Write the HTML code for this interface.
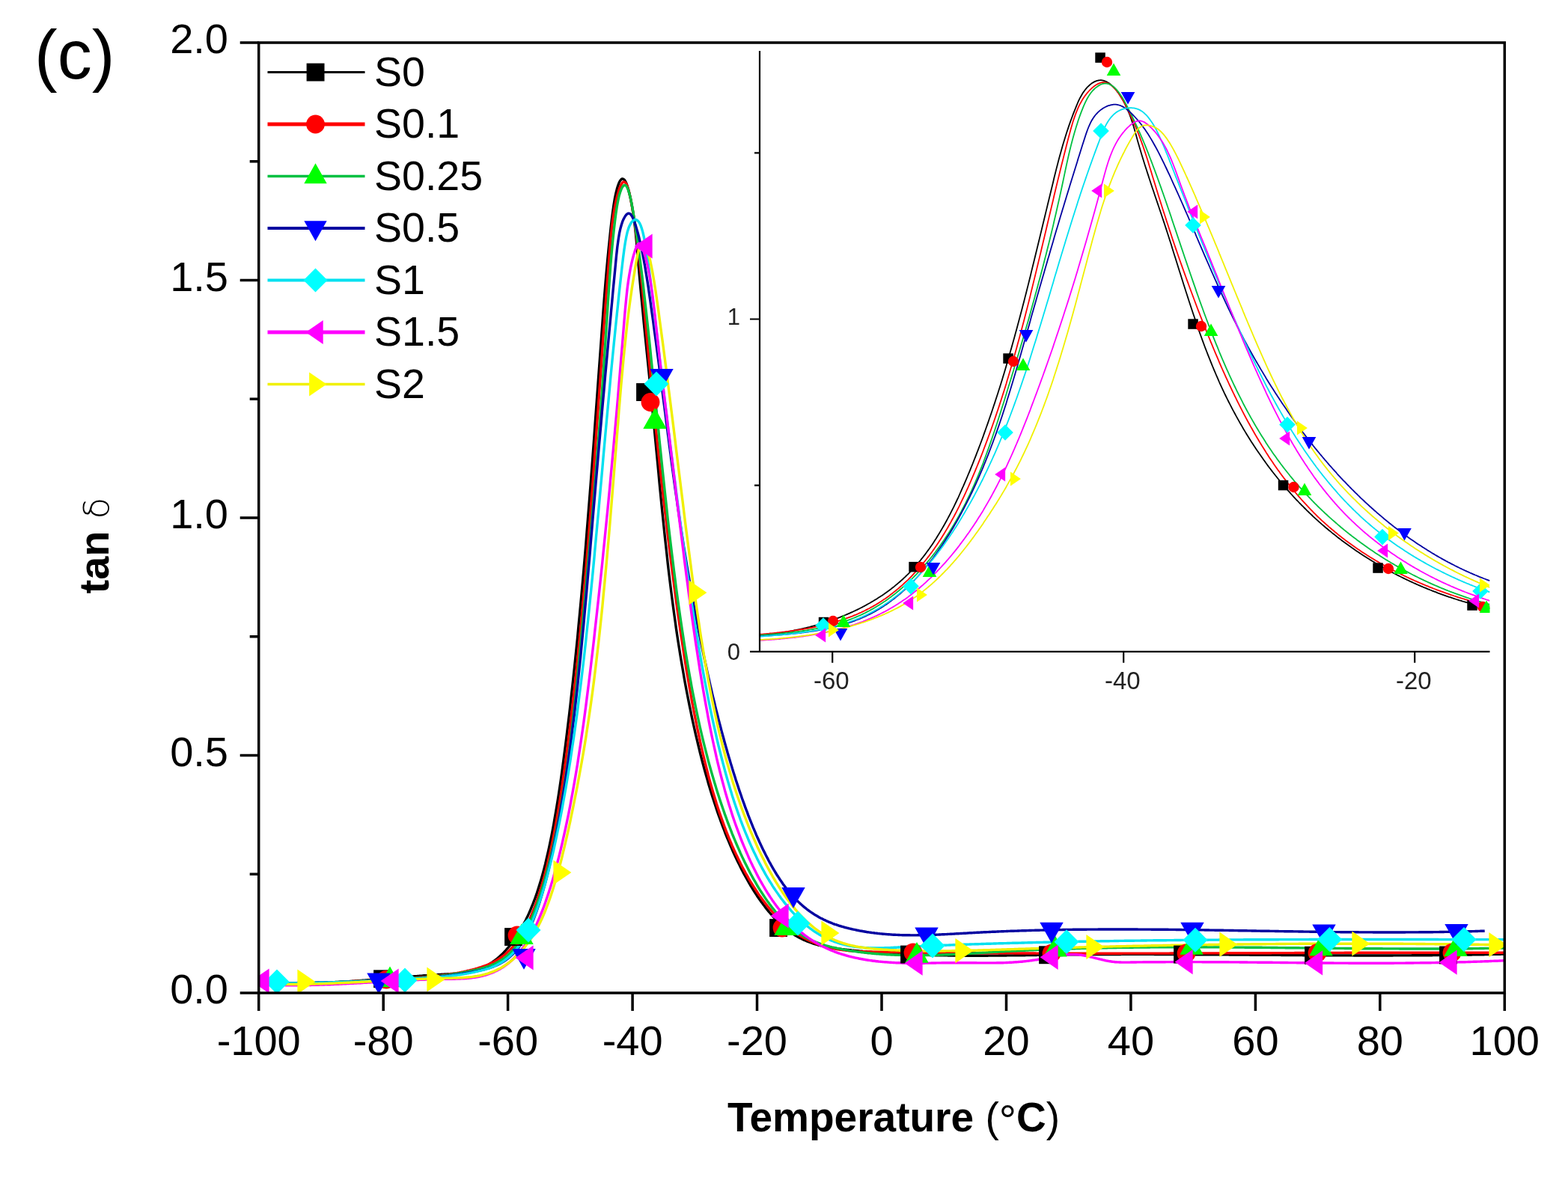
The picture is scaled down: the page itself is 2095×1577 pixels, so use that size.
<!DOCTYPE html>
<html><head><meta charset="utf-8"><title>tan delta</title><style>html,body{margin:0;padding:0;background:#fff;}svg{display:block;}</style></head><body>
<svg width="2095" height="1577" viewBox="0 0 2095 1577">
<rect width="2095" height="1577" fill="#fff"/>
<text x="46" y="105" font-size="92" font-family="'Liberation Sans', Arial, sans-serif">(c)</text>
<defs><clipPath id="cm"><rect x="345.7" y="57.0" width="1664.6" height="1270.0"/></clipPath>
<clipPath id="ci"><rect x="1015.0" y="40.0" width="975.5" height="830.8"/></clipPath></defs>
<g clip-path="url(#cm)" fill="none" stroke-linejoin="round">
<path d="M345.7,1314.1 L347.1,1314.2 L348.5,1314.3 L349.9,1314.3 L351.2,1314.4 L352.6,1314.4 L354.0,1314.5 L355.4,1314.5 L356.8,1314.6 L358.2,1314.6 L359.6,1314.7 L361.0,1314.7 L362.3,1314.8 L363.7,1314.8 L365.1,1314.8 L366.5,1314.8 L367.9,1314.9 L369.3,1314.9 L370.7,1314.9 L372.1,1314.9 L373.4,1314.9 L374.8,1315.0 L376.2,1315.0 L377.6,1315.0 L379.0,1315.0 L380.4,1315.0 L381.8,1315.0 L383.2,1315.0 L384.5,1315.0 L385.9,1315.0 L387.3,1315.0 L388.7,1315.0 L390.1,1314.9 L391.5,1314.9 L392.9,1314.9 L394.3,1314.9 L395.6,1314.9 L397.0,1314.9 L398.4,1314.8 L399.8,1314.8 L401.2,1314.8 L402.6,1314.7 L404.0,1314.7 L405.3,1314.7 L406.7,1314.6 L408.1,1314.6 L409.5,1314.6 L410.9,1314.5 L412.3,1314.5 L413.7,1314.4 L415.1,1314.4 L416.4,1314.3 L417.8,1314.3 L419.2,1314.2 L420.6,1314.2 L422.0,1314.1 L423.4,1314.1 L424.8,1314.0 L426.2,1314.0 L427.5,1313.9 L428.9,1313.8 L430.3,1313.8 L431.7,1313.7 L433.1,1313.6 L434.5,1313.6 L435.9,1313.5 L437.3,1313.4 L438.6,1313.3 L440.0,1313.3 L441.4,1313.2 L442.8,1313.1 L444.2,1313.0 L445.6,1313.0 L447.0,1312.9 L448.4,1312.8 L449.7,1312.7 L451.1,1312.6 L452.5,1312.5 L453.9,1312.5 L455.3,1312.4 L456.7,1312.3 L458.1,1312.2 L459.4,1312.1 L460.8,1312.0 L462.2,1311.9 L463.6,1311.8 L465.0,1311.7 L466.4,1311.6 L467.8,1311.5 L469.2,1311.4 L470.5,1311.3 L471.9,1311.2 L473.3,1311.1 L474.7,1311.0 L476.1,1310.9 L477.5,1310.8 L478.9,1310.7 L480.3,1310.6 L481.6,1310.5 L483.0,1310.4 L484.4,1310.3 L485.8,1310.2 L487.2,1310.1 L488.6,1310.0 L490.0,1309.9 L491.4,1309.8 L492.7,1309.7 L494.1,1309.6 L495.5,1309.5 L496.9,1309.3 L498.3,1309.2 L499.7,1309.1 L501.1,1309.0 L502.4,1308.9 L503.8,1308.8 L505.2,1308.7 L506.6,1308.6 L508.0,1308.5 L509.4,1308.3 L510.8,1308.2 L512.2,1308.1 L513.5,1308.0 L514.9,1307.9 L516.3,1307.8 L517.7,1307.7 L519.1,1307.6 L520.5,1307.4 L521.9,1307.3 L523.3,1307.2 L524.6,1307.1 L526.0,1307.0 L527.4,1306.9 L528.8,1306.8 L530.2,1306.7 L531.6,1306.5 L533.0,1306.4 L534.4,1306.3 L535.7,1306.2 L537.1,1306.1 L538.5,1306.0 L539.9,1305.9 L541.3,1305.8 L542.7,1305.6 L544.1,1305.5 L545.5,1305.4 L546.8,1305.3 L548.2,1305.2 L549.6,1305.1 L551.0,1305.0 L552.4,1304.9 L553.8,1304.8 L555.2,1304.7 L556.5,1304.6 L557.9,1304.5 L559.3,1304.4 L560.7,1304.3 L562.1,1304.2 L563.5,1304.1 L564.9,1303.9 L566.3,1303.8 L567.6,1303.7 L569.0,1303.6 L570.4,1303.6 L571.8,1303.5 L573.2,1303.4 L574.6,1303.3 L576.0,1303.2 L577.4,1303.1 L578.7,1303.0 L580.1,1302.9 L581.5,1302.8 L582.9,1302.7 L584.3,1302.6 L585.7,1302.5 L587.1,1302.4 L588.5,1302.4 L589.8,1302.3 L591.2,1302.2 L592.6,1302.1 L594.0,1302.0 L595.4,1301.9 L596.8,1301.9 L598.2,1301.8 L599.6,1301.7 L600.9,1301.6 L602.3,1301.5 L603.7,1301.5 L605.1,1301.4 L606.5,1301.3 L607.9,1301.2 L609.3,1301.1 L610.6,1300.9 L612.0,1300.8 L613.4,1300.7 L614.8,1300.5 L616.2,1300.4 L617.6,1300.2 L619.0,1300.0 L620.4,1299.8 L621.7,1299.6 L623.1,1299.4 L624.5,1299.2 L625.9,1298.9 L627.3,1298.6 L628.7,1298.3 L630.1,1298.0 L631.5,1297.7 L632.8,1297.3 L634.2,1296.9 L635.6,1296.5 L637.0,1296.1 L638.4,1295.7 L639.8,1295.2 L641.2,1294.7 L642.6,1294.1 L643.9,1293.5 L645.3,1292.9 L646.7,1292.3 L648.1,1291.6 L649.5,1290.9 L650.9,1290.2 L652.3,1289.4 L653.7,1288.6 L655.0,1287.8 L656.4,1286.9 L657.8,1286.0 L659.2,1285.0 L660.6,1284.0 L662.0,1282.9 L663.4,1281.8 L664.7,1280.7 L666.1,1279.5 L667.5,1278.3 L668.9,1277.0 L670.3,1275.7 L671.7,1274.4 L673.1,1273.0 L674.5,1271.5 L675.8,1270.0 L677.2,1268.4 L678.6,1266.8 L680.0,1265.2 L681.4,1263.5 L682.8,1261.7 L684.2,1259.9 L685.6,1258.0 L686.9,1256.0 L688.3,1254.0 L689.7,1252.0 L691.1,1249.8 L692.5,1247.6 L693.9,1245.4 L695.3,1243.0 L696.7,1240.6 L698.0,1238.1 L699.4,1235.6 L700.8,1232.9 L702.2,1230.2 L703.6,1227.3 L705.0,1224.4 L706.4,1221.4 L707.8,1218.3 L709.1,1215.1 L710.5,1211.7 L711.9,1208.3 L713.3,1204.7 L714.7,1201.0 L716.1,1197.1 L717.5,1193.1 L718.8,1188.9 L720.2,1184.6 L721.6,1180.1 L723.0,1175.4 L724.4,1170.5 L725.8,1165.4 L727.2,1160.1 L728.6,1154.6 L729.9,1148.9 L731.3,1143.0 L732.7,1136.8 L734.1,1130.4 L735.5,1123.7 L736.9,1116.8 L738.3,1109.6 L739.7,1102.1 L741.0,1094.4 L742.4,1086.3 L743.8,1078.0 L745.2,1069.4 L746.6,1060.4 L748.0,1051.2 L749.4,1041.7 L750.8,1031.8 L752.1,1021.7 L753.5,1011.2 L754.9,1000.5 L756.3,989.5 L757.7,978.3 L759.1,966.8 L760.5,955.1 L761.9,943.1 L763.2,930.9 L764.6,918.5 L766.0,905.7 L767.4,892.7 L768.8,879.3 L770.2,865.7 L771.6,851.8 L772.9,837.5 L774.3,822.9 L775.7,808.0 L777.1,792.8 L778.5,777.2 L779.9,761.3 L781.3,745.0 L782.7,728.4 L784.0,711.5 L785.4,694.2 L786.8,676.7 L788.2,658.8 L789.6,640.7 L791.0,622.3 L792.4,603.7 L793.8,584.8 L795.1,565.9 L796.5,546.8 L797.9,527.6 L799.3,508.4 L800.7,489.1 L802.1,470.0 L803.5,450.9 L804.9,431.9 L806.2,413.3 L807.6,395.2 L809.0,378.0 L810.4,361.7 L811.8,346.4 L813.2,332.1 L814.6,318.6 L815.9,306.0 L817.3,294.0 L818.7,282.9 L820.1,273.2 L821.5,264.9 L822.9,258.1 L824.3,252.6 L825.7,248.1 L827.0,244.5 L828.4,241.8 L829.8,240.0 L831.2,239.0 L832.6,239.1 L834.0,240.1 L835.4,242.0 L836.8,244.8 L838.1,248.4 L839.5,252.9 L840.9,258.3 L842.3,264.5 L843.7,271.5 L845.1,279.5 L846.5,288.6 L847.9,298.9 L849.2,310.9 L850.6,325.0 L852.0,341.1 L853.4,357.9 L854.8,373.8 L856.2,389.0 L857.6,403.7 L859.0,418.0 L860.3,432.0 L861.7,445.9 L863.1,459.6 L864.5,473.3 L865.9,487.0 L867.3,500.8 L868.7,514.7 L870.0,528.9 L871.4,543.3 L872.8,557.8 L874.2,572.5 L875.6,587.3 L877.0,602.0 L878.4,616.7 L879.8,631.4 L881.1,645.8 L882.5,660.2 L883.9,674.3 L885.3,688.1 L886.7,701.7 L888.1,715.0 L889.5,727.9 L890.9,740.5 L892.2,752.8 L893.6,764.8 L895.0,776.4 L896.4,787.6 L897.8,798.6 L899.2,809.2 L900.6,819.5 L902.0,829.5 L903.3,839.2 L904.7,848.6 L906.1,857.7 L907.5,866.6 L908.9,875.2 L910.3,883.6 L911.7,891.8 L913.1,899.8 L914.4,907.5 L915.8,915.1 L917.2,922.5 L918.6,929.8 L920.0,936.9 L921.4,943.8 L922.8,950.5 L924.1,957.2 L925.5,963.6 L926.9,970.0 L928.3,976.2 L929.7,982.3 L931.1,988.2 L932.5,994.0 L933.9,999.8 L935.2,1005.4 L936.6,1010.8 L938.0,1016.2 L939.4,1021.5 L940.8,1026.7 L942.2,1031.8 L943.6,1036.7 L945.0,1041.6 L946.3,1046.4 L947.7,1051.1 L949.1,1055.7 L950.5,1060.2 L951.9,1064.7 L953.3,1069.0 L954.7,1073.3 L956.1,1077.5 L957.4,1081.6 L958.8,1085.7 L960.2,1089.7 L961.6,1093.5 L963.0,1097.4 L964.4,1101.1 L965.8,1104.8 L967.2,1108.5 L968.5,1112.0 L969.9,1115.5 L971.3,1119.0 L972.7,1122.4 L974.1,1125.7 L975.5,1129.0 L976.9,1132.2 L978.2,1135.4 L979.6,1138.5 L981.0,1141.5 L982.4,1144.5 L983.8,1147.5 L985.2,1150.4 L986.6,1153.3 L988.0,1156.1 L989.3,1158.8 L990.7,1161.6 L992.1,1164.2 L993.5,1166.9 L994.9,1169.4 L996.3,1172.0 L997.7,1174.5 L999.1,1176.9 L1000.4,1179.3 L1001.8,1181.7 L1003.2,1184.1 L1004.6,1186.3 L1006.0,1188.6 L1007.4,1190.8 L1008.8,1193.0 L1010.2,1195.1 L1011.5,1197.2 L1012.9,1199.3 L1014.3,1201.3 L1015.7,1203.3 L1017.1,1205.2 L1018.5,1207.1 L1019.9,1209.0 L1021.3,1210.8 L1022.6,1212.6 L1024.0,1214.4 L1025.4,1216.1 L1026.8,1217.8 L1028.2,1219.5 L1029.6,1221.1 L1031.0,1222.7 L1032.3,1224.3 L1033.7,1225.8 L1035.1,1227.3 L1036.5,1228.7 L1037.9,1230.2 L1039.3,1231.5 L1040.7,1232.9 L1042.1,1234.2 L1043.4,1235.5 L1044.8,1236.8 L1046.2,1238.0 L1047.6,1239.2 L1049.0,1240.4 L1050.4,1241.5 L1051.8,1242.6 L1053.2,1243.7 L1054.5,1244.7 L1055.9,1245.7 L1057.3,1246.7 L1058.7,1247.6 L1060.1,1248.5 L1061.5,1249.4 L1062.9,1250.2 L1064.3,1251.1 L1065.6,1251.9 L1067.0,1252.6 L1068.4,1253.4 L1069.8,1254.1 L1071.2,1254.8 L1072.6,1255.5 L1074.0,1256.1 L1075.3,1256.7 L1076.7,1257.3 L1078.1,1257.9 L1079.5,1258.5 L1080.9,1259.0 L1082.3,1259.5 L1083.7,1260.0 L1085.1,1260.5 L1086.4,1261.0 L1087.8,1261.4 L1089.2,1261.8 L1090.6,1262.2 L1092.0,1262.6 L1093.4,1263.0 L1094.8,1263.4 L1096.2,1263.7 L1097.5,1264.0 L1098.9,1264.4 L1100.3,1264.7 L1101.7,1265.0 L1103.1,1265.2 L1104.5,1265.5 L1105.9,1265.8 L1107.3,1266.0 L1108.6,1266.3 L1110.0,1266.5 L1111.4,1266.7 L1112.8,1266.9 L1114.2,1267.1 L1115.6,1267.3 L1117.0,1267.5 L1118.4,1267.7 L1119.7,1267.9 L1121.1,1268.1 L1122.5,1268.2 L1123.9,1268.4 L1125.3,1268.6 L1126.7,1268.7 L1128.1,1268.9 L1129.4,1269.1 L1130.8,1269.2 L1132.2,1269.4 L1133.6,1269.5 L1135.0,1269.7 L1136.4,1269.8 L1137.8,1270.0 L1139.2,1270.1 L1140.5,1270.2 L1141.9,1270.4 L1143.3,1270.5 L1144.7,1270.7 L1146.1,1270.8 L1147.5,1270.9 L1148.9,1271.1 L1150.3,1271.2 L1151.6,1271.3 L1153.0,1271.5 L1154.4,1271.6 L1155.8,1271.7 L1157.2,1271.8 L1158.6,1271.9 L1160.0,1272.1 L1161.4,1272.2 L1162.7,1272.3 L1164.1,1272.4 L1165.5,1272.5 L1166.9,1272.6 L1168.3,1272.7 L1169.7,1272.8 L1171.1,1272.9 L1172.5,1273.1 L1173.8,1273.2 L1175.2,1273.3 L1176.6,1273.4 L1178.0,1273.4 L1179.4,1273.5 L1180.8,1273.6 L1182.2,1273.7 L1183.5,1273.8 L1184.9,1273.9 L1186.3,1274.0 L1187.7,1274.1 L1189.1,1274.2 L1190.5,1274.3 L1191.9,1274.3 L1193.3,1274.4 L1194.6,1274.5 L1196.0,1274.6 L1197.4,1274.7 L1198.8,1274.7 L1200.2,1274.8 L1201.6,1274.9 L1203.0,1275.0 L1204.4,1275.0 L1205.7,1275.1 L1207.1,1275.2 L1208.5,1275.2 L1209.9,1275.3 L1211.3,1275.4 L1212.7,1275.4 L1214.1,1275.5 L1215.5,1275.5 L1216.8,1275.6 L1218.2,1275.7 L1219.6,1275.7 L1221.0,1275.8 L1222.4,1275.8 L1223.8,1275.9 L1225.2,1275.9 L1226.6,1276.0 L1227.9,1276.0 L1229.3,1276.1 L1230.7,1276.1 L1232.1,1276.2 L1233.5,1276.2 L1234.9,1276.2 L1236.3,1276.3 L1237.6,1276.3 L1239.0,1276.4 L1240.4,1276.4 L1241.8,1276.4 L1243.2,1276.5 L1244.6,1276.5 L1246.0,1276.6 L1247.4,1276.6 L1248.7,1276.6 L1250.1,1276.7 L1251.5,1276.7 L1252.9,1276.7 L1254.3,1276.7 L1255.7,1276.8 L1257.1,1276.8 L1258.5,1276.8 L1259.8,1276.8 L1261.2,1276.9 L1262.6,1276.9 L1264.0,1276.9 L1265.4,1276.9 L1266.8,1277.0 L1268.2,1277.0 L1269.6,1277.0 L1270.9,1277.0 L1272.3,1277.0 L1273.7,1277.0 L1275.1,1277.1 L1276.5,1277.1 L1277.9,1277.1 L1279.3,1277.1 L1280.7,1277.1 L1282.0,1277.1 L1283.4,1277.1 L1284.8,1277.1 L1286.2,1277.1 L1287.6,1277.2 L1289.0,1277.2 L1290.4,1277.2 L1291.7,1277.2 L1293.1,1277.2 L1294.5,1277.2 L1295.9,1277.2 L1297.3,1277.2 L1298.7,1277.2 L1300.1,1277.2 L1301.5,1277.2 L1302.8,1277.2 L1304.2,1277.2 L1305.6,1277.2 L1307.0,1277.2 L1308.4,1277.2 L1309.8,1277.2 L1311.2,1277.2 L1312.6,1277.2 L1313.9,1277.2 L1315.3,1277.2 L1316.7,1277.2 L1318.1,1277.2 L1319.5,1277.2 L1320.9,1277.1 L1322.3,1277.1 L1323.7,1277.1 L1325.0,1277.1 L1326.4,1277.1 L1327.8,1277.1 L1329.2,1277.1 L1330.6,1277.1 L1332.0,1277.1 L1333.4,1277.1 L1334.7,1277.0 L1336.1,1277.0 L1337.5,1277.0 L1338.9,1277.0 L1340.3,1277.0 L1341.7,1277.0 L1343.1,1277.0 L1344.5,1277.0 L1345.8,1276.9 L1347.2,1276.9 L1348.6,1276.9 L1350.0,1276.9 L1351.4,1276.9 L1352.8,1276.9 L1354.2,1276.9 L1355.6,1276.8 L1356.9,1276.8 L1358.3,1276.8 L1359.7,1276.8 L1361.1,1276.8 L1362.5,1276.8 L1363.9,1276.7 L1365.3,1276.7 L1366.7,1276.7 L1368.0,1276.7 L1369.4,1276.7 L1370.8,1276.6 L1372.2,1276.6 L1373.6,1276.6 L1375.0,1276.6 L1376.4,1276.6 L1377.8,1276.5 L1379.1,1276.5 L1380.5,1276.5 L1381.9,1276.5 L1383.3,1276.5 L1384.7,1276.5 L1386.1,1276.4 L1387.5,1276.4 L1388.8,1276.4 L1390.2,1276.4 L1391.6,1276.4 L1393.0,1276.3 L1394.4,1276.3 L1395.8,1276.3 L1397.2,1276.3 L1398.6,1276.3 L1399.9,1276.2 L1401.3,1276.2 L1402.7,1276.2 L1404.1,1276.2 L1405.5,1276.2 L1406.9,1276.1 L1408.3,1276.1 L1409.7,1276.1 L1411.0,1276.1 L1412.4,1276.1 L1413.8,1276.1 L1415.2,1276.0 L1416.6,1276.0 L1418.0,1276.0 L1419.4,1276.0 L1420.8,1276.0 L1422.1,1276.0 L1423.5,1275.9 L1424.9,1275.9 L1426.3,1275.9 L1427.7,1275.9 L1429.1,1275.9 L1430.5,1275.9 L1431.9,1275.8 L1433.2,1275.8 L1434.6,1275.8 L1436.0,1275.8 L1437.4,1275.8 L1438.8,1275.8 L1440.2,1275.8 L1441.6,1275.8 L1442.9,1275.7 L1444.3,1275.7 L1445.7,1275.7 L1447.1,1275.7 L1448.5,1275.7 L1449.9,1275.7 L1451.3,1275.7 L1452.7,1275.7 L1454.0,1275.7 L1455.4,1275.6 L1456.8,1275.6 L1458.2,1275.6 L1459.6,1275.6 L1461.0,1275.6 L1462.4,1275.6 L1463.8,1275.6 L1465.1,1275.6 L1466.5,1275.6 L1467.9,1275.6 L1469.3,1275.6 L1470.7,1275.5 L1472.1,1275.5 L1473.5,1275.5 L1474.9,1275.5 L1476.2,1275.5 L1477.6,1275.5 L1479.0,1275.5 L1480.4,1275.5 L1481.8,1275.5 L1483.2,1275.5 L1484.6,1275.5 L1486.0,1275.5 L1487.3,1275.5 L1488.7,1275.5 L1490.1,1275.5 L1491.5,1275.5 L1492.9,1275.5 L1494.3,1275.5 L1495.7,1275.5 L1497.0,1275.5 L1498.4,1275.4 L1499.8,1275.4 L1501.2,1275.4 L1502.6,1275.4 L1504.0,1275.4 L1505.4,1275.4 L1506.8,1275.4 L1508.1,1275.4 L1509.5,1275.4 L1510.9,1275.4 L1512.3,1275.4 L1513.7,1275.4 L1515.1,1275.4 L1516.5,1275.4 L1517.9,1275.4 L1519.2,1275.4 L1520.6,1275.4 L1522.0,1275.4 L1523.4,1275.4 L1524.8,1275.4 L1526.2,1275.4 L1527.6,1275.4 L1529.0,1275.4 L1530.3,1275.4 L1531.7,1275.4 L1533.1,1275.4 L1534.5,1275.4 L1535.9,1275.4 L1537.3,1275.4 L1538.7,1275.4 L1540.1,1275.4 L1541.4,1275.4 L1542.8,1275.5 L1544.2,1275.5 L1545.6,1275.5 L1547.0,1275.5 L1548.4,1275.5 L1549.8,1275.5 L1551.1,1275.5 L1552.5,1275.5 L1553.9,1275.5 L1555.3,1275.5 L1556.7,1275.5 L1558.1,1275.5 L1559.5,1275.5 L1560.9,1275.5 L1562.2,1275.5 L1563.6,1275.5 L1565.0,1275.5 L1566.4,1275.5 L1567.8,1275.5 L1569.2,1275.5 L1570.6,1275.5 L1572.0,1275.5 L1573.3,1275.5 L1574.7,1275.6 L1576.1,1275.6 L1577.5,1275.6 L1578.9,1275.6 L1580.3,1275.6 L1581.7,1275.6 L1583.1,1275.6 L1584.4,1275.6 L1585.8,1275.6 L1587.2,1275.6 L1588.6,1275.6 L1590.0,1275.6 L1591.4,1275.6 L1592.8,1275.6 L1594.2,1275.6 L1595.5,1275.7 L1596.9,1275.7 L1598.3,1275.7 L1599.7,1275.7 L1601.1,1275.7 L1602.5,1275.7 L1603.9,1275.7 L1605.2,1275.7 L1606.6,1275.7 L1608.0,1275.7 L1609.4,1275.7 L1610.8,1275.7 L1612.2,1275.8 L1613.6,1275.8 L1615.0,1275.8 L1616.3,1275.8 L1617.7,1275.8 L1619.1,1275.8 L1620.5,1275.8 L1621.9,1275.8 L1623.3,1275.8 L1624.7,1275.8 L1626.1,1275.8 L1627.4,1275.9 L1628.8,1275.9 L1630.2,1275.9 L1631.6,1275.9 L1633.0,1275.9 L1634.4,1275.9 L1635.8,1275.9 L1637.2,1275.9 L1638.5,1275.9 L1639.9,1275.9 L1641.3,1275.9 L1642.7,1276.0 L1644.1,1276.0 L1645.5,1276.0 L1646.9,1276.0 L1648.2,1276.0 L1649.6,1276.0 L1651.0,1276.0 L1652.4,1276.0 L1653.8,1276.0 L1655.2,1276.0 L1656.6,1276.1 L1658.0,1276.1 L1659.3,1276.1 L1660.7,1276.1 L1662.1,1276.1 L1663.5,1276.1 L1664.9,1276.1 L1666.3,1276.1 L1667.7,1276.1 L1669.1,1276.1 L1670.4,1276.2 L1671.8,1276.2 L1673.2,1276.2 L1674.6,1276.2 L1676.0,1276.2 L1677.4,1276.2 L1678.8,1276.2 L1680.2,1276.2 L1681.5,1276.2 L1682.9,1276.2 L1684.3,1276.3 L1685.7,1276.3 L1687.1,1276.3 L1688.5,1276.3 L1689.9,1276.3 L1691.3,1276.3 L1692.6,1276.3 L1694.0,1276.3 L1695.4,1276.3 L1696.8,1276.3 L1698.2,1276.4 L1699.6,1276.4 L1701.0,1276.4 L1702.3,1276.4 L1703.7,1276.4 L1705.1,1276.4 L1706.5,1276.4 L1707.9,1276.4 L1709.3,1276.4 L1710.7,1276.4 L1712.1,1276.5 L1713.4,1276.5 L1714.8,1276.5 L1716.2,1276.5 L1717.6,1276.5 L1719.0,1276.5 L1720.4,1276.5 L1721.8,1276.5 L1723.2,1276.5 L1724.5,1276.5 L1725.9,1276.6 L1727.3,1276.6 L1728.7,1276.6 L1730.1,1276.6 L1731.5,1276.6 L1732.9,1276.6 L1734.3,1276.6 L1735.6,1276.6 L1737.0,1276.6 L1738.4,1276.6 L1739.8,1276.6 L1741.2,1276.7 L1742.6,1276.7 L1744.0,1276.7 L1745.4,1276.7 L1746.7,1276.7 L1748.1,1276.7 L1749.5,1276.7 L1750.9,1276.7 L1752.3,1276.7 L1753.7,1276.7 L1755.1,1276.7 L1756.4,1276.7 L1757.8,1276.7 L1759.2,1276.8 L1760.6,1276.8 L1762.0,1276.8 L1763.4,1276.8 L1764.8,1276.8 L1766.2,1276.8 L1767.5,1276.8 L1768.9,1276.8 L1770.3,1276.8 L1771.7,1276.8 L1773.1,1276.8 L1774.5,1276.8 L1775.9,1276.8 L1777.3,1276.8 L1778.6,1276.9 L1780.0,1276.9 L1781.4,1276.9 L1782.8,1276.9 L1784.2,1276.9 L1785.6,1276.9 L1787.0,1276.9 L1788.4,1276.9 L1789.7,1276.9 L1791.1,1276.9 L1792.5,1276.9 L1793.9,1276.9 L1795.3,1276.9 L1796.7,1276.9 L1798.1,1276.9 L1799.5,1276.9 L1800.8,1276.9 L1802.2,1276.9 L1803.6,1276.9 L1805.0,1276.9 L1806.4,1276.9 L1807.8,1276.9 L1809.2,1277.0 L1810.5,1277.0 L1811.9,1277.0 L1813.3,1277.0 L1814.7,1277.0 L1816.1,1277.0 L1817.5,1277.0 L1818.9,1277.0 L1820.3,1277.0 L1821.6,1277.0 L1823.0,1277.0 L1824.4,1277.0 L1825.8,1277.0 L1827.2,1277.0 L1828.6,1277.0 L1830.0,1277.0 L1831.4,1277.0 L1832.7,1277.0 L1834.1,1277.0 L1835.5,1277.0 L1836.9,1277.0 L1838.3,1277.0 L1839.7,1277.0 L1841.1,1277.0 L1842.5,1277.0 L1843.8,1277.0 L1845.2,1277.0 L1846.6,1277.0 L1848.0,1277.0 L1849.4,1277.0 L1850.8,1277.0 L1852.2,1277.0 L1853.6,1277.0 L1854.9,1277.0 L1856.3,1277.0 L1857.7,1277.0 L1859.1,1277.0 L1860.5,1277.0 L1861.9,1276.9 L1863.3,1276.9 L1864.6,1276.9 L1866.0,1276.9 L1867.4,1276.9 L1868.8,1276.9 L1870.2,1276.9 L1871.6,1276.9 L1873.0,1276.9 L1874.4,1276.9 L1875.7,1276.9 L1877.1,1276.9 L1878.5,1276.9 L1879.9,1276.9 L1881.3,1276.9 L1882.7,1276.9 L1884.1,1276.9 L1885.5,1276.9 L1886.8,1276.8 L1888.2,1276.8 L1889.6,1276.8 L1891.0,1276.8 L1892.4,1276.8 L1893.8,1276.8 L1895.2,1276.8 L1896.6,1276.8 L1897.9,1276.8 L1899.3,1276.8 L1900.7,1276.8 L1902.1,1276.7 L1903.5,1276.7 L1904.9,1276.7 L1906.3,1276.7 L1907.6,1276.7 L1909.0,1276.7 L1910.4,1276.7 L1911.8,1276.7 L1913.2,1276.7 L1914.6,1276.6 L1916.0,1276.6 L1917.4,1276.6 L1918.7,1276.6 L1920.1,1276.6 L1921.5,1276.6 L1922.9,1276.6 L1924.3,1276.5 L1925.7,1276.5 L1927.1,1276.5 L1928.5,1276.5 L1929.8,1276.5 L1931.2,1276.5 L1932.6,1276.4 L1934.0,1276.4 L1935.4,1276.4 L1936.8,1276.4 L1938.2,1276.4 L1939.6,1276.4 L1940.9,1276.3 L1942.3,1276.3 L1943.7,1276.3 L1945.1,1276.3 L1946.5,1276.3 L1947.9,1276.3 L1949.3,1276.2 L1950.7,1276.2 L1952.0,1276.2 L1953.4,1276.2 L1954.8,1276.1 L1956.2,1276.1 L1957.6,1276.1 L1959.0,1276.1 L1960.4,1276.1 L1961.7,1276.0 L1963.1,1276.0 L1964.5,1276.0 L1965.9,1276.0 L1967.3,1275.9 L1968.7,1275.9 L1970.1,1275.9 L1971.5,1275.9 L1972.8,1275.8 L1974.2,1275.8 L1975.6,1275.8 L1977.0,1275.8 L1978.4,1275.7 L1979.8,1275.7 L1981.2,1275.7 L1982.6,1275.7 L1983.9,1275.6 L1985.3,1275.6 L1986.7,1275.6 L1988.1,1275.5 L1989.5,1275.5 L1990.9,1275.5 L1992.3,1275.5 L1993.7,1275.4 L1995.0,1275.4 L1996.4,1275.4 L1997.8,1275.3 L1999.2,1275.3 L2000.6,1275.3 L2002.0,1275.2 L2003.4,1275.2 L2004.8,1275.2 L2006.1,1275.1 L2007.5,1275.1 L2008.9,1275.1 L2010.3,1275.0" stroke="#000000" stroke-width="3.4"/>
<path d="M345.7,1314.3 L347.1,1314.3 L348.5,1314.3 L349.9,1314.3 L351.2,1314.3 L352.6,1314.3 L354.0,1314.3 L355.4,1314.3 L356.8,1314.3 L358.2,1314.3 L359.6,1314.3 L361.0,1314.3 L362.3,1314.3 L363.7,1314.3 L365.1,1314.3 L366.5,1314.3 L367.9,1314.3 L369.3,1314.3 L370.7,1314.3 L372.1,1314.3 L373.4,1314.3 L374.8,1314.3 L376.2,1314.3 L377.6,1314.3 L379.0,1314.2 L380.4,1314.2 L381.8,1314.2 L383.2,1314.2 L384.5,1314.2 L385.9,1314.2 L387.3,1314.1 L388.7,1314.1 L390.1,1314.1 L391.5,1314.1 L392.9,1314.1 L394.3,1314.0 L395.6,1314.0 L397.0,1314.0 L398.4,1314.0 L399.8,1313.9 L401.2,1313.9 L402.6,1313.9 L404.0,1313.9 L405.3,1313.8 L406.7,1313.8 L408.1,1313.8 L409.5,1313.7 L410.9,1313.7 L412.3,1313.7 L413.7,1313.6 L415.1,1313.6 L416.4,1313.6 L417.8,1313.5 L419.2,1313.5 L420.6,1313.5 L422.0,1313.4 L423.4,1313.4 L424.8,1313.3 L426.2,1313.3 L427.5,1313.2 L428.9,1313.2 L430.3,1313.2 L431.7,1313.1 L433.1,1313.1 L434.5,1313.0 L435.9,1313.0 L437.3,1312.9 L438.6,1312.9 L440.0,1312.8 L441.4,1312.8 L442.8,1312.7 L444.2,1312.7 L445.6,1312.6 L447.0,1312.6 L448.4,1312.5 L449.7,1312.5 L451.1,1312.4 L452.5,1312.4 L453.9,1312.3 L455.3,1312.3 L456.7,1312.2 L458.1,1312.1 L459.4,1312.1 L460.8,1312.0 L462.2,1312.0 L463.6,1311.9 L465.0,1311.8 L466.4,1311.8 L467.8,1311.7 L469.2,1311.7 L470.5,1311.6 L471.9,1311.5 L473.3,1311.5 L474.7,1311.4 L476.1,1311.3 L477.5,1311.3 L478.9,1311.2 L480.3,1311.1 L481.6,1311.1 L483.0,1311.0 L484.4,1310.9 L485.8,1310.8 L487.2,1310.8 L488.6,1310.7 L490.0,1310.6 L491.4,1310.6 L492.7,1310.5 L494.1,1310.4 L495.5,1310.3 L496.9,1310.3 L498.3,1310.2 L499.7,1310.1 L501.1,1310.0 L502.4,1309.9 L503.8,1309.9 L505.2,1309.8 L506.6,1309.7 L508.0,1309.6 L509.4,1309.5 L510.8,1309.5 L512.2,1309.4 L513.5,1309.3 L514.9,1309.2 L516.3,1309.1 L517.7,1309.0 L519.1,1309.0 L520.5,1308.9 L521.9,1308.8 L523.3,1308.7 L524.6,1308.6 L526.0,1308.5 L527.4,1308.4 L528.8,1308.3 L530.2,1308.3 L531.6,1308.2 L533.0,1308.1 L534.4,1308.0 L535.7,1307.9 L537.1,1307.8 L538.5,1307.7 L539.9,1307.6 L541.3,1307.5 L542.7,1307.4 L544.1,1307.3 L545.5,1307.2 L546.8,1307.1 L548.2,1307.0 L549.6,1306.9 L551.0,1306.8 L552.4,1306.7 L553.8,1306.7 L555.2,1306.6 L556.5,1306.5 L557.9,1306.4 L559.3,1306.3 L560.7,1306.1 L562.1,1306.0 L563.5,1305.9 L564.9,1305.8 L566.3,1305.7 L567.6,1305.6 L569.0,1305.5 L570.4,1305.4 L571.8,1305.3 L573.2,1305.1 L574.6,1305.0 L576.0,1304.9 L577.4,1304.8 L578.7,1304.6 L580.1,1304.5 L581.5,1304.4 L582.9,1304.2 L584.3,1304.1 L585.7,1303.9 L587.1,1303.8 L588.5,1303.6 L589.8,1303.5 L591.2,1303.3 L592.6,1303.1 L594.0,1302.9 L595.4,1302.8 L596.8,1302.6 L598.2,1302.4 L599.6,1302.2 L600.9,1302.0 L602.3,1301.8 L603.7,1301.6 L605.1,1301.3 L606.5,1301.1 L607.9,1300.9 L609.3,1300.6 L610.6,1300.4 L612.0,1300.1 L613.4,1299.9 L614.8,1299.6 L616.2,1299.3 L617.6,1299.1 L619.0,1298.8 L620.4,1298.5 L621.7,1298.2 L623.1,1297.9 L624.5,1297.5 L625.9,1297.2 L627.3,1296.9 L628.7,1296.5 L630.1,1296.2 L631.5,1295.8 L632.8,1295.4 L634.2,1295.1 L635.6,1294.7 L637.0,1294.3 L638.4,1293.9 L639.8,1293.4 L641.2,1293.0 L642.6,1292.6 L643.9,1292.1 L645.3,1291.6 L646.7,1291.1 L648.1,1290.6 L649.5,1290.1 L650.9,1289.6 L652.3,1289.0 L653.7,1288.4 L655.0,1287.8 L656.4,1287.1 L657.8,1286.5 L659.2,1285.8 L660.6,1285.0 L662.0,1284.3 L663.4,1283.5 L664.7,1282.7 L666.1,1281.8 L667.5,1280.9 L668.9,1280.0 L670.3,1279.0 L671.7,1278.0 L673.1,1276.9 L674.5,1275.8 L675.8,1274.6 L677.2,1273.4 L678.6,1272.1 L680.0,1270.8 L681.4,1269.5 L682.8,1268.0 L684.2,1266.5 L685.6,1265.0 L686.9,1263.3 L688.3,1261.6 L689.7,1259.8 L691.1,1258.0 L692.5,1256.1 L693.9,1254.0 L695.3,1251.9 L696.7,1249.8 L698.0,1247.5 L699.4,1245.1 L700.8,1242.6 L702.2,1240.0 L703.6,1237.3 L705.0,1234.5 L706.4,1231.5 L707.8,1228.5 L709.1,1225.3 L710.5,1222.0 L711.9,1218.5 L713.3,1215.0 L714.7,1211.3 L716.1,1207.5 L717.5,1203.5 L718.8,1199.4 L720.2,1195.1 L721.6,1190.8 L723.0,1186.2 L724.4,1181.5 L725.8,1176.6 L727.2,1171.6 L728.6,1166.3 L729.9,1160.9 L731.3,1155.3 L732.7,1149.5 L734.1,1143.5 L735.5,1137.2 L736.9,1130.8 L738.3,1124.1 L739.7,1117.2 L741.0,1110.0 L742.4,1102.6 L743.8,1094.9 L745.2,1087.0 L746.6,1078.8 L748.0,1070.3 L749.4,1061.5 L750.8,1052.4 L752.1,1043.0 L753.5,1033.4 L754.9,1023.4 L756.3,1013.2 L757.7,1002.7 L759.1,991.9 L760.5,980.8 L761.9,969.5 L763.2,957.9 L764.6,946.1 L766.0,934.0 L767.4,921.6 L768.8,908.9 L770.2,895.9 L771.6,882.6 L772.9,869.0 L774.3,855.0 L775.7,840.7 L777.1,826.0 L778.5,811.0 L779.9,795.5 L781.3,779.8 L782.7,763.6 L784.0,747.0 L785.4,730.1 L786.8,712.8 L788.2,695.2 L789.6,677.2 L791.0,658.9 L792.4,640.3 L793.8,621.4 L795.1,602.3 L796.5,583.0 L797.9,563.6 L799.3,544.1 L800.7,524.5 L802.1,504.9 L803.5,485.4 L804.9,466.0 L806.2,446.7 L807.6,427.5 L809.0,408.6 L810.4,389.9 L811.8,371.5 L813.2,353.4 L814.6,335.8 L815.9,319.7 L817.3,305.9 L818.7,294.3 L820.1,284.6 L821.5,276.4 L822.9,269.4 L824.3,263.3 L825.7,258.1 L827.0,253.6 L828.4,249.9 L829.8,246.8 L831.2,244.6 L832.6,243.3 L834.0,243.1 L835.4,243.9 L836.8,245.9 L838.1,249.0 L839.5,253.2 L840.9,258.3 L842.3,264.5 L843.7,271.6 L845.1,279.5 L846.5,288.1 L847.9,297.3 L849.2,307.1 L850.6,317.3 L852.0,328.2 L853.4,339.7 L854.8,351.9 L856.2,364.9 L857.6,378.5 L859.0,392.8 L860.3,407.7 L861.7,422.8 L863.1,438.0 L864.5,453.0 L865.9,467.8 L867.3,482.4 L868.7,496.8 L870.0,511.1 L871.4,525.1 L872.8,538.9 L874.2,552.6 L875.6,566.0 L877.0,579.3 L878.4,592.5 L879.8,605.4 L881.1,618.2 L882.5,630.9 L883.9,643.3 L885.3,655.7 L886.7,667.9 L888.1,679.9 L889.5,691.8 L890.9,703.6 L892.2,715.2 L893.6,726.7 L895.0,738.1 L896.4,749.3 L897.8,760.3 L899.2,771.1 L900.6,781.8 L902.0,792.3 L903.3,802.6 L904.7,812.7 L906.1,822.6 L907.5,832.4 L908.9,841.9 L910.3,851.3 L911.7,860.5 L913.1,869.5 L914.4,878.3 L915.8,886.9 L917.2,895.4 L918.6,903.6 L920.0,911.7 L921.4,919.6 L922.8,927.4 L924.1,935.0 L925.5,942.4 L926.9,949.6 L928.3,956.7 L929.7,963.7 L931.1,970.5 L932.5,977.1 L933.9,983.6 L935.2,989.9 L936.6,996.1 L938.0,1002.2 L939.4,1008.1 L940.8,1013.9 L942.2,1019.6 L943.6,1025.2 L945.0,1030.6 L946.3,1035.9 L947.7,1041.1 L949.1,1046.1 L950.5,1051.1 L951.9,1055.9 L953.3,1060.7 L954.7,1065.3 L956.1,1069.8 L957.4,1074.2 L958.8,1078.5 L960.2,1082.8 L961.6,1086.9 L963.0,1090.9 L964.4,1094.9 L965.8,1098.7 L967.2,1102.5 L968.5,1106.2 L969.9,1109.8 L971.3,1113.4 L972.7,1116.9 L974.1,1120.3 L975.5,1123.6 L976.9,1126.9 L978.2,1130.1 L979.6,1133.3 L981.0,1136.4 L982.4,1139.4 L983.8,1142.4 L985.2,1145.3 L986.6,1148.2 L988.0,1151.0 L989.3,1153.8 L990.7,1156.5 L992.1,1159.2 L993.5,1161.8 L994.9,1164.4 L996.3,1167.0 L997.7,1169.4 L999.1,1171.9 L1000.4,1174.3 L1001.8,1176.6 L1003.2,1179.0 L1004.6,1181.2 L1006.0,1183.5 L1007.4,1185.7 L1008.8,1187.8 L1010.2,1189.9 L1011.5,1192.0 L1012.9,1194.1 L1014.3,1196.1 L1015.7,1198.1 L1017.1,1200.0 L1018.5,1201.9 L1019.9,1203.8 L1021.3,1205.6 L1022.6,1207.4 L1024.0,1209.2 L1025.4,1210.9 L1026.8,1212.6 L1028.2,1214.3 L1029.6,1215.9 L1031.0,1217.5 L1032.3,1219.1 L1033.7,1220.6 L1035.1,1222.1 L1036.5,1223.6 L1037.9,1225.1 L1039.3,1226.5 L1040.7,1227.9 L1042.1,1229.3 L1043.4,1230.6 L1044.8,1231.9 L1046.2,1233.2 L1047.6,1234.5 L1049.0,1235.7 L1050.4,1236.9 L1051.8,1238.1 L1053.2,1239.2 L1054.5,1240.3 L1055.9,1241.4 L1057.3,1242.5 L1058.7,1243.5 L1060.1,1244.6 L1061.5,1245.5 L1062.9,1246.5 L1064.3,1247.4 L1065.6,1248.4 L1067.0,1249.2 L1068.4,1250.1 L1069.8,1251.0 L1071.2,1251.8 L1072.6,1252.6 L1074.0,1253.4 L1075.3,1254.1 L1076.7,1254.8 L1078.1,1255.6 L1079.5,1256.2 L1080.9,1256.9 L1082.3,1257.6 L1083.7,1258.2 L1085.1,1258.8 L1086.4,1259.4 L1087.8,1260.0 L1089.2,1260.5 L1090.6,1261.1 L1092.0,1261.6 L1093.4,1262.1 L1094.8,1262.6 L1096.2,1263.0 L1097.5,1263.5 L1098.9,1263.9 L1100.3,1264.3 L1101.7,1264.8 L1103.1,1265.1 L1104.5,1265.5 L1105.9,1265.9 L1107.3,1266.2 L1108.6,1266.6 L1110.0,1266.9 L1111.4,1267.2 L1112.8,1267.5 L1114.2,1267.8 L1115.6,1268.0 L1117.0,1268.3 L1118.4,1268.5 L1119.7,1268.8 L1121.1,1269.0 L1122.5,1269.2 L1123.9,1269.4 L1125.3,1269.6 L1126.7,1269.8 L1128.1,1269.9 L1129.4,1270.1 L1130.8,1270.2 L1132.2,1270.4 L1133.6,1270.5 L1135.0,1270.7 L1136.4,1270.8 L1137.8,1270.9 L1139.2,1271.0 L1140.5,1271.1 L1141.9,1271.2 L1143.3,1271.3 L1144.7,1271.4 L1146.1,1271.4 L1147.5,1271.5 L1148.9,1271.6 L1150.3,1271.6 L1151.6,1271.7 L1153.0,1271.7 L1154.4,1271.8 L1155.8,1271.8 L1157.2,1271.9 L1158.6,1271.9 L1160.0,1271.9 L1161.4,1272.0 L1162.7,1272.0 L1164.1,1272.0 L1165.5,1272.1 L1166.9,1272.1 L1168.3,1272.1 L1169.7,1272.1 L1171.1,1272.2 L1172.5,1272.2 L1173.8,1272.2 L1175.2,1272.2 L1176.6,1272.3 L1178.0,1272.3 L1179.4,1272.3 L1180.8,1272.3 L1182.2,1272.4 L1183.5,1272.4 L1184.9,1272.4 L1186.3,1272.4 L1187.7,1272.5 L1189.1,1272.5 L1190.5,1272.5 L1191.9,1272.5 L1193.3,1272.5 L1194.6,1272.6 L1196.0,1272.6 L1197.4,1272.6 L1198.8,1272.6 L1200.2,1272.6 L1201.6,1272.7 L1203.0,1272.7 L1204.4,1272.7 L1205.7,1272.7 L1207.1,1272.7 L1208.5,1272.8 L1209.9,1272.8 L1211.3,1272.8 L1212.7,1272.8 L1214.1,1272.8 L1215.5,1272.9 L1216.8,1272.9 L1218.2,1272.9 L1219.6,1272.9 L1221.0,1272.9 L1222.4,1272.9 L1223.8,1273.0 L1225.2,1273.0 L1226.6,1273.0 L1227.9,1273.0 L1229.3,1273.0 L1230.7,1273.0 L1232.1,1273.1 L1233.5,1273.1 L1234.9,1273.1 L1236.3,1273.1 L1237.6,1273.1 L1239.0,1273.1 L1240.4,1273.2 L1241.8,1273.2 L1243.2,1273.2 L1244.6,1273.2 L1246.0,1273.2 L1247.4,1273.2 L1248.7,1273.2 L1250.1,1273.3 L1251.5,1273.3 L1252.9,1273.3 L1254.3,1273.3 L1255.7,1273.3 L1257.1,1273.3 L1258.5,1273.3 L1259.8,1273.3 L1261.2,1273.4 L1262.6,1273.4 L1264.0,1273.4 L1265.4,1273.4 L1266.8,1273.4 L1268.2,1273.4 L1269.6,1273.4 L1270.9,1273.4 L1272.3,1273.5 L1273.7,1273.5 L1275.1,1273.5 L1276.5,1273.5 L1277.9,1273.5 L1279.3,1273.5 L1280.7,1273.5 L1282.0,1273.5 L1283.4,1273.5 L1284.8,1273.6 L1286.2,1273.6 L1287.6,1273.6 L1289.0,1273.6 L1290.4,1273.6 L1291.7,1273.6 L1293.1,1273.6 L1294.5,1273.6 L1295.9,1273.6 L1297.3,1273.6 L1298.7,1273.7 L1300.1,1273.7 L1301.5,1273.7 L1302.8,1273.7 L1304.2,1273.7 L1305.6,1273.7 L1307.0,1273.7 L1308.4,1273.7 L1309.8,1273.7 L1311.2,1273.7 L1312.6,1273.7 L1313.9,1273.7 L1315.3,1273.8 L1316.7,1273.8 L1318.1,1273.8 L1319.5,1273.8 L1320.9,1273.8 L1322.3,1273.8 L1323.7,1273.8 L1325.0,1273.8 L1326.4,1273.8 L1327.8,1273.8 L1329.2,1273.8 L1330.6,1273.8 L1332.0,1273.8 L1333.4,1273.9 L1334.7,1273.9 L1336.1,1273.9 L1337.5,1273.9 L1338.9,1273.9 L1340.3,1273.9 L1341.7,1273.9 L1343.1,1273.9 L1344.5,1273.9 L1345.8,1273.9 L1347.2,1273.9 L1348.6,1273.9 L1350.0,1273.9 L1351.4,1273.9 L1352.8,1273.9 L1354.2,1273.9 L1355.6,1274.0 L1356.9,1274.0 L1358.3,1274.0 L1359.7,1274.0 L1361.1,1274.0 L1362.5,1274.0 L1363.9,1274.0 L1365.3,1274.0 L1366.7,1274.0 L1368.0,1274.0 L1369.4,1274.0 L1370.8,1274.0 L1372.2,1274.0 L1373.6,1274.0 L1375.0,1274.0 L1376.4,1274.0 L1377.8,1274.0 L1379.1,1274.0 L1380.5,1274.0 L1381.9,1274.0 L1383.3,1274.0 L1384.7,1274.1 L1386.1,1274.1 L1387.5,1274.1 L1388.8,1274.1 L1390.2,1274.1 L1391.6,1274.1 L1393.0,1274.1 L1394.4,1274.1 L1395.8,1274.1 L1397.2,1274.1 L1398.6,1274.1 L1399.9,1274.1 L1401.3,1274.1 L1402.7,1274.1 L1404.1,1274.1 L1405.5,1274.1 L1406.9,1274.1 L1408.3,1274.1 L1409.7,1274.1 L1411.0,1274.1 L1412.4,1274.1 L1413.8,1274.1 L1415.2,1274.1 L1416.6,1274.1 L1418.0,1274.1 L1419.4,1274.1 L1420.8,1274.1 L1422.1,1274.1 L1423.5,1274.1 L1424.9,1274.1 L1426.3,1274.1 L1427.7,1274.1 L1429.1,1274.1 L1430.5,1274.1 L1431.9,1274.1 L1433.2,1274.1 L1434.6,1274.1 L1436.0,1274.1 L1437.4,1274.1 L1438.8,1274.2 L1440.2,1274.2 L1441.6,1274.2 L1442.9,1274.2 L1444.3,1274.2 L1445.7,1274.2 L1447.1,1274.2 L1448.5,1274.2 L1449.9,1274.2 L1451.3,1274.2 L1452.7,1274.2 L1454.0,1274.2 L1455.4,1274.2 L1456.8,1274.2 L1458.2,1274.2 L1459.6,1274.2 L1461.0,1274.2 L1462.4,1274.2 L1463.8,1274.2 L1465.1,1274.2 L1466.5,1274.2 L1467.9,1274.2 L1469.3,1274.2 L1470.7,1274.2 L1472.1,1274.2 L1473.5,1274.2 L1474.9,1274.2 L1476.2,1274.2 L1477.6,1274.2 L1479.0,1274.2 L1480.4,1274.2 L1481.8,1274.2 L1483.2,1274.2 L1484.6,1274.2 L1486.0,1274.2 L1487.3,1274.2 L1488.7,1274.2 L1490.1,1274.2 L1491.5,1274.2 L1492.9,1274.2 L1494.3,1274.2 L1495.7,1274.2 L1497.0,1274.2 L1498.4,1274.2 L1499.8,1274.1 L1501.2,1274.1 L1502.6,1274.1 L1504.0,1274.1 L1505.4,1274.1 L1506.8,1274.1 L1508.1,1274.1 L1509.5,1274.1 L1510.9,1274.1 L1512.3,1274.1 L1513.7,1274.1 L1515.1,1274.1 L1516.5,1274.1 L1517.9,1274.1 L1519.2,1274.1 L1520.6,1274.1 L1522.0,1274.1 L1523.4,1274.1 L1524.8,1274.1 L1526.2,1274.1 L1527.6,1274.1 L1529.0,1274.1 L1530.3,1274.1 L1531.7,1274.1 L1533.1,1274.1 L1534.5,1274.1 L1535.9,1274.1 L1537.3,1274.1 L1538.7,1274.1 L1540.1,1274.1 L1541.4,1274.1 L1542.8,1274.1 L1544.2,1274.1 L1545.6,1274.1 L1547.0,1274.1 L1548.4,1274.1 L1549.8,1274.1 L1551.1,1274.1 L1552.5,1274.1 L1553.9,1274.1 L1555.3,1274.1 L1556.7,1274.1 L1558.1,1274.1 L1559.5,1274.1 L1560.9,1274.1 L1562.2,1274.1 L1563.6,1274.0 L1565.0,1274.0 L1566.4,1274.0 L1567.8,1274.0 L1569.2,1274.0 L1570.6,1274.0 L1572.0,1274.0 L1573.3,1274.0 L1574.7,1274.0 L1576.1,1274.0 L1577.5,1274.0 L1578.9,1274.0 L1580.3,1274.0 L1581.7,1274.0 L1583.1,1274.0 L1584.4,1274.0 L1585.8,1274.0 L1587.2,1274.0 L1588.6,1274.0 L1590.0,1274.0 L1591.4,1274.0 L1592.8,1274.0 L1594.2,1274.0 L1595.5,1274.0 L1596.9,1274.0 L1598.3,1274.0 L1599.7,1274.0 L1601.1,1274.0 L1602.5,1274.0 L1603.9,1273.9 L1605.2,1273.9 L1606.6,1273.9 L1608.0,1273.9 L1609.4,1273.9 L1610.8,1273.9 L1612.2,1273.9 L1613.6,1273.9 L1615.0,1273.9 L1616.3,1273.9 L1617.7,1273.9 L1619.1,1273.9 L1620.5,1273.9 L1621.9,1273.9 L1623.3,1273.9 L1624.7,1273.9 L1626.1,1273.9 L1627.4,1273.9 L1628.8,1273.9 L1630.2,1273.9 L1631.6,1273.9 L1633.0,1273.9 L1634.4,1273.9 L1635.8,1273.9 L1637.2,1273.9 L1638.5,1273.8 L1639.9,1273.8 L1641.3,1273.8 L1642.7,1273.8 L1644.1,1273.8 L1645.5,1273.8 L1646.9,1273.8 L1648.2,1273.8 L1649.6,1273.8 L1651.0,1273.8 L1652.4,1273.8 L1653.8,1273.8 L1655.2,1273.8 L1656.6,1273.8 L1658.0,1273.8 L1659.3,1273.8 L1660.7,1273.8 L1662.1,1273.8 L1663.5,1273.8 L1664.9,1273.8 L1666.3,1273.8 L1667.7,1273.8 L1669.1,1273.7 L1670.4,1273.7 L1671.8,1273.7 L1673.2,1273.7 L1674.6,1273.7 L1676.0,1273.7 L1677.4,1273.7 L1678.8,1273.7 L1680.2,1273.7 L1681.5,1273.7 L1682.9,1273.7 L1684.3,1273.7 L1685.7,1273.7 L1687.1,1273.7 L1688.5,1273.7 L1689.9,1273.7 L1691.3,1273.7 L1692.6,1273.7 L1694.0,1273.7 L1695.4,1273.7 L1696.8,1273.7 L1698.2,1273.7 L1699.6,1273.6 L1701.0,1273.6 L1702.3,1273.6 L1703.7,1273.6 L1705.1,1273.6 L1706.5,1273.6 L1707.9,1273.6 L1709.3,1273.6 L1710.7,1273.6 L1712.1,1273.6 L1713.4,1273.6 L1714.8,1273.6 L1716.2,1273.6 L1717.6,1273.6 L1719.0,1273.6 L1720.4,1273.6 L1721.8,1273.6 L1723.2,1273.6 L1724.5,1273.6 L1725.9,1273.6 L1727.3,1273.6 L1728.7,1273.6 L1730.1,1273.5 L1731.5,1273.5 L1732.9,1273.5 L1734.3,1273.5 L1735.6,1273.5 L1737.0,1273.5 L1738.4,1273.5 L1739.8,1273.5 L1741.2,1273.5 L1742.6,1273.5 L1744.0,1273.5 L1745.4,1273.5 L1746.7,1273.5 L1748.1,1273.5 L1749.5,1273.5 L1750.9,1273.5 L1752.3,1273.5 L1753.7,1273.5 L1755.1,1273.5 L1756.4,1273.5 L1757.8,1273.5 L1759.2,1273.5 L1760.6,1273.5 L1762.0,1273.4 L1763.4,1273.4 L1764.8,1273.4 L1766.2,1273.4 L1767.5,1273.4 L1768.9,1273.4 L1770.3,1273.4 L1771.7,1273.4 L1773.1,1273.4 L1774.5,1273.4 L1775.9,1273.4 L1777.3,1273.4 L1778.6,1273.4 L1780.0,1273.4 L1781.4,1273.4 L1782.8,1273.4 L1784.2,1273.4 L1785.6,1273.4 L1787.0,1273.4 L1788.4,1273.4 L1789.7,1273.4 L1791.1,1273.4 L1792.5,1273.4 L1793.9,1273.4 L1795.3,1273.4 L1796.7,1273.3 L1798.1,1273.3 L1799.5,1273.3 L1800.8,1273.3 L1802.2,1273.3 L1803.6,1273.3 L1805.0,1273.3 L1806.4,1273.3 L1807.8,1273.3 L1809.2,1273.3 L1810.5,1273.3 L1811.9,1273.3 L1813.3,1273.3 L1814.7,1273.3 L1816.1,1273.3 L1817.5,1273.3 L1818.9,1273.3 L1820.3,1273.3 L1821.6,1273.3 L1823.0,1273.3 L1824.4,1273.3 L1825.8,1273.3 L1827.2,1273.3 L1828.6,1273.3 L1830.0,1273.3 L1831.4,1273.3 L1832.7,1273.3 L1834.1,1273.3 L1835.5,1273.3 L1836.9,1273.3 L1838.3,1273.3 L1839.7,1273.2 L1841.1,1273.2 L1842.5,1273.2 L1843.8,1273.2 L1845.2,1273.2 L1846.6,1273.2 L1848.0,1273.2 L1849.4,1273.2 L1850.8,1273.2 L1852.2,1273.2 L1853.6,1273.2 L1854.9,1273.2 L1856.3,1273.2 L1857.7,1273.2 L1859.1,1273.2 L1860.5,1273.2 L1861.9,1273.2 L1863.3,1273.2 L1864.6,1273.2 L1866.0,1273.2 L1867.4,1273.2 L1868.8,1273.2 L1870.2,1273.2 L1871.6,1273.2 L1873.0,1273.2 L1874.4,1273.2 L1875.7,1273.2 L1877.1,1273.2 L1878.5,1273.2 L1879.9,1273.2 L1881.3,1273.2 L1882.7,1273.2 L1884.1,1273.2 L1885.5,1273.2 L1886.8,1273.2 L1888.2,1273.2 L1889.6,1273.2 L1891.0,1273.2 L1892.4,1273.2 L1893.8,1273.2 L1895.2,1273.2 L1896.6,1273.2 L1897.9,1273.2 L1899.3,1273.2 L1900.7,1273.2 L1902.1,1273.2 L1903.5,1273.2 L1904.9,1273.2 L1906.3,1273.2 L1907.6,1273.2 L1909.0,1273.2 L1910.4,1273.2 L1911.8,1273.2 L1913.2,1273.2 L1914.6,1273.2 L1916.0,1273.2 L1917.4,1273.2 L1918.7,1273.2 L1920.1,1273.2 L1921.5,1273.2 L1922.9,1273.2 L1924.3,1273.2 L1925.7,1273.2 L1927.1,1273.2 L1928.5,1273.2 L1929.8,1273.2 L1931.2,1273.2 L1932.6,1273.2 L1934.0,1273.2 L1935.4,1273.2 L1936.8,1273.2 L1938.2,1273.2 L1939.6,1273.2 L1940.9,1273.2 L1942.3,1273.2 L1943.7,1273.2 L1945.1,1273.2 L1946.5,1273.2 L1947.9,1273.2 L1949.3,1273.2 L1950.7,1273.2 L1952.0,1273.2 L1953.4,1273.2 L1954.8,1273.2 L1956.2,1273.2 L1957.6,1273.2 L1959.0,1273.2 L1960.4,1273.2 L1961.7,1273.2 L1963.1,1273.2 L1964.5,1273.2 L1965.9,1273.2 L1967.3,1273.2 L1968.7,1273.2 L1970.1,1273.2 L1971.5,1273.2 L1972.8,1273.2 L1974.2,1273.2 L1975.6,1273.2 L1977.0,1273.2 L1978.4,1273.2 L1979.8,1273.2 L1981.2,1273.2 L1982.6,1273.2 L1983.9,1273.2 L1985.3,1273.2 L1986.7,1273.2 L1988.1,1273.2 L1989.5,1273.2 L1990.9,1273.2 L1992.3,1273.2 L1993.7,1273.2 L1995.0,1273.2 L1996.4,1273.2 L1997.8,1273.2 L1999.2,1273.2 L2000.6,1273.2 L2002.0,1273.2 L2003.4,1273.3 L2004.8,1273.3 L2006.1,1273.3 L2007.5,1273.3 L2008.9,1273.3 L2010.3,1273.3" stroke="#ff0000" stroke-width="3.4"/>
<path d="M345.7,1314.4 L347.1,1314.4 L348.5,1314.3 L349.9,1314.3 L351.2,1314.3 L352.6,1314.3 L354.0,1314.3 L355.4,1314.3 L356.8,1314.3 L358.2,1314.3 L359.6,1314.3 L361.0,1314.2 L362.3,1314.2 L363.7,1314.2 L365.1,1314.2 L366.5,1314.2 L367.9,1314.2 L369.3,1314.1 L370.7,1314.1 L372.1,1314.1 L373.4,1314.1 L374.8,1314.1 L376.2,1314.1 L377.6,1314.0 L379.0,1314.0 L380.4,1314.0 L381.8,1314.0 L383.2,1314.0 L384.5,1314.0 L385.9,1313.9 L387.3,1313.9 L388.7,1313.9 L390.1,1313.9 L391.5,1313.8 L392.9,1313.8 L394.3,1313.8 L395.6,1313.8 L397.0,1313.8 L398.4,1313.7 L399.8,1313.7 L401.2,1313.7 L402.6,1313.7 L404.0,1313.6 L405.3,1313.6 L406.7,1313.6 L408.1,1313.5 L409.5,1313.5 L410.9,1313.5 L412.3,1313.5 L413.7,1313.4 L415.1,1313.4 L416.4,1313.4 L417.8,1313.3 L419.2,1313.3 L420.6,1313.3 L422.0,1313.2 L423.4,1313.2 L424.8,1313.2 L426.2,1313.1 L427.5,1313.1 L428.9,1313.1 L430.3,1313.0 L431.7,1313.0 L433.1,1313.0 L434.5,1312.9 L435.9,1312.9 L437.3,1312.8 L438.6,1312.8 L440.0,1312.8 L441.4,1312.7 L442.8,1312.7 L444.2,1312.6 L445.6,1312.6 L447.0,1312.6 L448.4,1312.5 L449.7,1312.5 L451.1,1312.4 L452.5,1312.4 L453.9,1312.3 L455.3,1312.3 L456.7,1312.2 L458.1,1312.2 L459.4,1312.2 L460.8,1312.1 L462.2,1312.1 L463.6,1312.0 L465.0,1312.0 L466.4,1311.9 L467.8,1311.9 L469.2,1311.8 L470.5,1311.7 L471.9,1311.7 L473.3,1311.6 L474.7,1311.6 L476.1,1311.5 L477.5,1311.5 L478.9,1311.4 L480.3,1311.4 L481.6,1311.3 L483.0,1311.2 L484.4,1311.2 L485.8,1311.1 L487.2,1311.1 L488.6,1311.0 L490.0,1310.9 L491.4,1310.9 L492.7,1310.8 L494.1,1310.7 L495.5,1310.7 L496.9,1310.6 L498.3,1310.5 L499.7,1310.5 L501.1,1310.4 L502.4,1310.3 L503.8,1310.3 L505.2,1310.2 L506.6,1310.1 L508.0,1310.0 L509.4,1310.0 L510.8,1309.9 L512.2,1309.8 L513.5,1309.7 L514.9,1309.7 L516.3,1309.6 L517.7,1309.5 L519.1,1309.4 L520.5,1309.4 L521.9,1309.3 L523.3,1309.2 L524.6,1309.1 L526.0,1309.0 L527.4,1308.9 L528.8,1308.9 L530.2,1308.8 L531.6,1308.7 L533.0,1308.6 L534.4,1308.5 L535.7,1308.4 L537.1,1308.3 L538.5,1308.2 L539.9,1308.2 L541.3,1308.1 L542.7,1308.0 L544.1,1307.9 L545.5,1307.8 L546.8,1307.7 L548.2,1307.6 L549.6,1307.5 L551.0,1307.4 L552.4,1307.3 L553.8,1307.2 L555.2,1307.1 L556.5,1307.0 L557.9,1306.9 L559.3,1306.8 L560.7,1306.7 L562.1,1306.6 L563.5,1306.4 L564.9,1306.3 L566.3,1306.2 L567.6,1306.1 L569.0,1306.0 L570.4,1305.9 L571.8,1305.8 L573.2,1305.6 L574.6,1305.5 L576.0,1305.4 L577.4,1305.2 L578.7,1305.1 L580.1,1305.0 L581.5,1304.8 L582.9,1304.7 L584.3,1304.6 L585.7,1304.4 L587.1,1304.3 L588.5,1304.1 L589.8,1303.9 L591.2,1303.8 L592.6,1303.6 L594.0,1303.4 L595.4,1303.3 L596.8,1303.1 L598.2,1302.9 L599.6,1302.7 L600.9,1302.5 L602.3,1302.4 L603.7,1302.2 L605.1,1302.0 L606.5,1301.7 L607.9,1301.5 L609.3,1301.3 L610.6,1301.1 L612.0,1300.9 L613.4,1300.6 L614.8,1300.4 L616.2,1300.2 L617.6,1299.9 L619.0,1299.7 L620.4,1299.4 L621.7,1299.1 L623.1,1298.9 L624.5,1298.6 L625.9,1298.3 L627.3,1298.0 L628.7,1297.7 L630.1,1297.4 L631.5,1297.1 L632.8,1296.8 L634.2,1296.5 L635.6,1296.2 L637.0,1295.9 L638.4,1295.5 L639.8,1295.2 L641.2,1294.8 L642.6,1294.5 L643.9,1294.1 L645.3,1293.7 L646.7,1293.3 L648.1,1292.9 L649.5,1292.4 L650.9,1292.0 L652.3,1291.5 L653.7,1291.0 L655.0,1290.5 L656.4,1290.0 L657.8,1289.4 L659.2,1288.8 L660.6,1288.2 L662.0,1287.5 L663.4,1286.8 L664.7,1286.1 L666.1,1285.3 L667.5,1284.5 L668.9,1283.7 L670.3,1282.8 L671.7,1281.9 L673.1,1280.9 L674.5,1279.9 L675.8,1278.8 L677.2,1277.7 L678.6,1276.5 L680.0,1275.2 L681.4,1273.9 L682.8,1272.5 L684.2,1271.1 L685.6,1269.6 L686.9,1268.0 L688.3,1266.3 L689.7,1264.6 L691.1,1262.8 L692.5,1260.9 L693.9,1258.8 L695.3,1256.7 L696.7,1254.5 L698.0,1252.2 L699.4,1249.8 L700.8,1247.3 L702.2,1244.7 L703.6,1242.0 L705.0,1239.2 L706.4,1236.2 L707.8,1233.2 L709.1,1230.1 L710.5,1226.8 L711.9,1223.4 L713.3,1219.9 L714.7,1216.3 L716.1,1212.6 L717.5,1208.8 L718.8,1204.8 L720.2,1200.7 L721.6,1196.5 L723.0,1192.1 L724.4,1187.6 L725.8,1183.0 L727.2,1178.2 L728.6,1173.3 L729.9,1168.2 L731.3,1162.9 L732.7,1157.5 L734.1,1152.0 L735.5,1146.3 L736.9,1140.4 L738.3,1134.3 L739.7,1128.0 L741.0,1121.5 L742.4,1114.9 L743.8,1108.0 L745.2,1100.9 L746.6,1093.5 L748.0,1085.9 L749.4,1078.1 L750.8,1069.9 L752.1,1061.5 L753.5,1052.7 L754.9,1043.7 L756.3,1034.2 L757.7,1024.5 L759.1,1014.3 L760.5,1003.8 L761.9,992.8 L763.2,981.5 L764.6,969.7 L766.0,957.5 L767.4,944.9 L768.8,931.9 L770.2,918.5 L771.6,904.7 L772.9,890.6 L774.3,876.2 L775.7,861.7 L777.1,847.0 L778.5,832.2 L779.9,817.3 L781.3,802.2 L782.7,787.1 L784.0,771.7 L785.4,756.3 L786.8,740.6 L788.2,724.8 L789.6,708.9 L791.0,692.7 L792.4,676.3 L793.8,659.7 L795.1,642.9 L796.5,625.7 L797.9,608.4 L799.3,590.7 L800.7,572.7 L802.1,554.3 L803.5,535.5 L804.9,516.3 L806.2,496.6 L807.6,476.4 L809.0,455.6 L810.4,434.1 L811.8,412.1 L813.2,390.8 L814.6,370.9 L815.9,352.8 L817.3,336.6 L818.7,321.9 L820.1,308.5 L821.5,296.3 L822.9,285.3 L824.3,276.0 L825.7,268.5 L827.0,262.3 L828.4,257.5 L829.8,253.6 L831.2,250.6 L832.6,248.6 L834.0,247.4 L835.4,247.4 L836.8,248.5 L838.1,250.8 L839.5,254.2 L840.9,258.7 L842.3,264.3 L843.7,270.9 L845.1,278.4 L846.5,286.7 L847.9,295.6 L849.2,304.9 L850.6,314.5 L852.0,324.3 L853.4,334.4 L854.8,344.8 L856.2,355.6 L857.6,366.7 L859.0,378.2 L860.3,390.0 L861.7,402.1 L863.1,414.5 L864.5,427.1 L865.9,440.0 L867.3,453.0 L868.7,466.2 L870.0,479.5 L871.4,493.0 L872.8,506.6 L874.2,520.2 L875.6,533.9 L877.0,547.7 L878.4,561.4 L879.8,575.1 L881.1,588.8 L882.5,602.3 L883.9,615.8 L885.3,629.2 L886.7,642.3 L888.1,655.4 L889.5,668.2 L890.9,680.9 L892.2,693.4 L893.6,705.6 L895.0,717.6 L896.4,729.4 L897.8,741.0 L899.2,752.3 L900.6,763.4 L902.0,774.3 L903.3,784.9 L904.7,795.3 L906.1,805.4 L907.5,815.3 L908.9,825.0 L910.3,834.5 L911.7,843.7 L913.1,852.8 L914.4,861.6 L915.8,870.2 L917.2,878.6 L918.6,886.8 L920.0,894.8 L921.4,902.7 L922.8,910.3 L924.1,917.8 L925.5,925.1 L926.9,932.2 L928.3,939.2 L929.7,946.0 L931.1,952.6 L932.5,959.1 L933.9,965.5 L935.2,971.7 L936.6,977.7 L938.0,983.7 L939.4,989.5 L940.8,995.1 L942.2,1000.7 L943.6,1006.1 L945.0,1011.5 L946.3,1016.7 L947.7,1021.8 L949.1,1026.8 L950.5,1031.8 L951.9,1036.6 L953.3,1041.3 L954.7,1046.0 L956.1,1050.6 L957.4,1055.1 L958.8,1059.5 L960.2,1063.8 L961.6,1068.1 L963.0,1072.3 L964.4,1076.4 L965.8,1080.5 L967.2,1084.5 L968.5,1088.4 L969.9,1092.2 L971.3,1096.0 L972.7,1099.8 L974.1,1103.4 L975.5,1107.0 L976.9,1110.6 L978.2,1114.1 L979.6,1117.5 L981.0,1120.9 L982.4,1124.2 L983.8,1127.5 L985.2,1130.7 L986.6,1133.9 L988.0,1137.0 L989.3,1140.1 L990.7,1143.1 L992.1,1146.1 L993.5,1149.0 L994.9,1151.9 L996.3,1154.7 L997.7,1157.5 L999.1,1160.2 L1000.4,1162.9 L1001.8,1165.6 L1003.2,1168.2 L1004.6,1170.8 L1006.0,1173.3 L1007.4,1175.8 L1008.8,1178.2 L1010.2,1180.6 L1011.5,1183.0 L1012.9,1185.3 L1014.3,1187.6 L1015.7,1189.8 L1017.1,1192.0 L1018.5,1194.2 L1019.9,1196.3 L1021.3,1198.4 L1022.6,1200.4 L1024.0,1202.4 L1025.4,1204.4 L1026.8,1206.3 L1028.2,1208.2 L1029.6,1210.0 L1031.0,1211.9 L1032.3,1213.7 L1033.7,1215.4 L1035.1,1217.1 L1036.5,1218.8 L1037.9,1220.4 L1039.3,1222.0 L1040.7,1223.6 L1042.1,1225.1 L1043.4,1226.6 L1044.8,1228.1 L1046.2,1229.5 L1047.6,1230.9 L1049.0,1232.3 L1050.4,1233.6 L1051.8,1234.9 L1053.2,1236.2 L1054.5,1237.4 L1055.9,1238.6 L1057.3,1239.7 L1058.7,1240.9 L1060.1,1242.0 L1061.5,1243.0 L1062.9,1244.0 L1064.3,1245.1 L1065.6,1246.0 L1067.0,1247.0 L1068.4,1247.9 L1069.8,1248.8 L1071.2,1249.6 L1072.6,1250.5 L1074.0,1251.3 L1075.3,1252.1 L1076.7,1252.9 L1078.1,1253.6 L1079.5,1254.3 L1080.9,1255.0 L1082.3,1255.7 L1083.7,1256.3 L1085.1,1257.0 L1086.4,1257.6 L1087.8,1258.2 L1089.2,1258.7 L1090.6,1259.3 L1092.0,1259.8 L1093.4,1260.4 L1094.8,1260.9 L1096.2,1261.4 L1097.5,1261.8 L1098.9,1262.3 L1100.3,1262.7 L1101.7,1263.1 L1103.1,1263.6 L1104.5,1264.0 L1105.9,1264.3 L1107.3,1264.7 L1108.6,1265.1 L1110.0,1265.4 L1111.4,1265.8 L1112.8,1266.1 L1114.2,1266.4 L1115.6,1266.7 L1117.0,1267.0 L1118.4,1267.3 L1119.7,1267.6 L1121.1,1267.9 L1122.5,1268.2 L1123.9,1268.4 L1125.3,1268.7 L1126.7,1269.0 L1128.1,1269.2 L1129.4,1269.4 L1130.8,1269.7 L1132.2,1269.9 L1133.6,1270.1 L1135.0,1270.4 L1136.4,1270.6 L1137.8,1270.8 L1139.2,1271.0 L1140.5,1271.2 L1141.9,1271.4 L1143.3,1271.6 L1144.7,1271.8 L1146.1,1272.0 L1147.5,1272.2 L1148.9,1272.4 L1150.3,1272.5 L1151.6,1272.7 L1153.0,1272.9 L1154.4,1273.0 L1155.8,1273.2 L1157.2,1273.4 L1158.6,1273.5 L1160.0,1273.7 L1161.4,1273.8 L1162.7,1273.9 L1164.1,1274.1 L1165.5,1274.2 L1166.9,1274.3 L1168.3,1274.5 L1169.7,1274.6 L1171.1,1274.7 L1172.5,1274.8 L1173.8,1274.9 L1175.2,1275.0 L1176.6,1275.1 L1178.0,1275.2 L1179.4,1275.3 L1180.8,1275.4 L1182.2,1275.5 L1183.5,1275.6 L1184.9,1275.7 L1186.3,1275.8 L1187.7,1275.8 L1189.1,1275.9 L1190.5,1276.0 L1191.9,1276.0 L1193.3,1276.1 L1194.6,1276.1 L1196.0,1276.2 L1197.4,1276.3 L1198.8,1276.3 L1200.2,1276.4 L1201.6,1276.4 L1203.0,1276.4 L1204.4,1276.5 L1205.7,1276.5 L1207.1,1276.5 L1208.5,1276.6 L1209.9,1276.6 L1211.3,1276.6 L1212.7,1276.6 L1214.1,1276.7 L1215.5,1276.7 L1216.8,1276.7 L1218.2,1276.7 L1219.6,1276.7 L1221.0,1276.7 L1222.4,1276.7 L1223.8,1276.7 L1225.2,1276.7 L1226.6,1276.7 L1227.9,1276.7 L1229.3,1276.7 L1230.7,1276.7 L1232.1,1276.7 L1233.5,1276.7 L1234.9,1276.6 L1236.3,1276.6 L1237.6,1276.6 L1239.0,1276.6 L1240.4,1276.5 L1241.8,1276.5 L1243.2,1276.5 L1244.6,1276.5 L1246.0,1276.4 L1247.4,1276.4 L1248.7,1276.4 L1250.1,1276.3 L1251.5,1276.3 L1252.9,1276.2 L1254.3,1276.2 L1255.7,1276.1 L1257.1,1276.1 L1258.5,1276.0 L1259.8,1276.0 L1261.2,1275.9 L1262.6,1275.9 L1264.0,1275.8 L1265.4,1275.8 L1266.8,1275.7 L1268.2,1275.7 L1269.6,1275.6 L1270.9,1275.5 L1272.3,1275.5 L1273.7,1275.4 L1275.1,1275.4 L1276.5,1275.3 L1277.9,1275.2 L1279.3,1275.2 L1280.7,1275.1 L1282.0,1275.0 L1283.4,1274.9 L1284.8,1274.9 L1286.2,1274.8 L1287.6,1274.7 L1289.0,1274.6 L1290.4,1274.6 L1291.7,1274.5 L1293.1,1274.4 L1294.5,1274.3 L1295.9,1274.3 L1297.3,1274.2 L1298.7,1274.1 L1300.1,1274.0 L1301.5,1274.0 L1302.8,1273.9 L1304.2,1273.8 L1305.6,1273.7 L1307.0,1273.6 L1308.4,1273.5 L1309.8,1273.5 L1311.2,1273.4 L1312.6,1273.3 L1313.9,1273.2 L1315.3,1273.1 L1316.7,1273.1 L1318.1,1273.0 L1319.5,1272.9 L1320.9,1272.8 L1322.3,1272.7 L1323.7,1272.6 L1325.0,1272.6 L1326.4,1272.5 L1327.8,1272.4 L1329.2,1272.3 L1330.6,1272.2 L1332.0,1272.2 L1333.4,1272.1 L1334.7,1272.0 L1336.1,1271.9 L1337.5,1271.8 L1338.9,1271.8 L1340.3,1271.7 L1341.7,1271.6 L1343.1,1271.5 L1344.5,1271.4 L1345.8,1271.4 L1347.2,1271.3 L1348.6,1271.2 L1350.0,1271.1 L1351.4,1271.1 L1352.8,1271.0 L1354.2,1270.9 L1355.6,1270.8 L1356.9,1270.8 L1358.3,1270.7 L1359.7,1270.6 L1361.1,1270.6 L1362.5,1270.5 L1363.9,1270.4 L1365.3,1270.4 L1366.7,1270.3 L1368.0,1270.2 L1369.4,1270.2 L1370.8,1270.1 L1372.2,1270.0 L1373.6,1270.0 L1375.0,1269.9 L1376.4,1269.8 L1377.8,1269.8 L1379.1,1269.7 L1380.5,1269.7 L1381.9,1269.6 L1383.3,1269.5 L1384.7,1269.5 L1386.1,1269.4 L1387.5,1269.4 L1388.8,1269.3 L1390.2,1269.2 L1391.6,1269.2 L1393.0,1269.1 L1394.4,1269.1 L1395.8,1269.0 L1397.2,1269.0 L1398.6,1268.9 L1399.9,1268.9 L1401.3,1268.8 L1402.7,1268.8 L1404.1,1268.7 L1405.5,1268.6 L1406.9,1268.6 L1408.3,1268.5 L1409.7,1268.5 L1411.0,1268.4 L1412.4,1268.4 L1413.8,1268.4 L1415.2,1268.3 L1416.6,1268.3 L1418.0,1268.2 L1419.4,1268.2 L1420.8,1268.1 L1422.1,1268.1 L1423.5,1268.0 L1424.9,1268.0 L1426.3,1267.9 L1427.7,1267.9 L1429.1,1267.9 L1430.5,1267.8 L1431.9,1267.8 L1433.2,1267.7 L1434.6,1267.7 L1436.0,1267.7 L1437.4,1267.6 L1438.8,1267.6 L1440.2,1267.5 L1441.6,1267.5 L1442.9,1267.5 L1444.3,1267.4 L1445.7,1267.4 L1447.1,1267.4 L1448.5,1267.3 L1449.9,1267.3 L1451.3,1267.3 L1452.7,1267.2 L1454.0,1267.2 L1455.4,1267.2 L1456.8,1267.1 L1458.2,1267.1 L1459.6,1267.1 L1461.0,1267.0 L1462.4,1267.0 L1463.8,1267.0 L1465.1,1266.9 L1466.5,1266.9 L1467.9,1266.9 L1469.3,1266.8 L1470.7,1266.8 L1472.1,1266.8 L1473.5,1266.8 L1474.9,1266.7 L1476.2,1266.7 L1477.6,1266.7 L1479.0,1266.7 L1480.4,1266.6 L1481.8,1266.6 L1483.2,1266.6 L1484.6,1266.6 L1486.0,1266.5 L1487.3,1266.5 L1488.7,1266.5 L1490.1,1266.5 L1491.5,1266.5 L1492.9,1266.4 L1494.3,1266.4 L1495.7,1266.4 L1497.0,1266.4 L1498.4,1266.3 L1499.8,1266.3 L1501.2,1266.3 L1502.6,1266.3 L1504.0,1266.3 L1505.4,1266.3 L1506.8,1266.2 L1508.1,1266.2 L1509.5,1266.2 L1510.9,1266.2 L1512.3,1266.2 L1513.7,1266.2 L1515.1,1266.1 L1516.5,1266.1 L1517.9,1266.1 L1519.2,1266.1 L1520.6,1266.1 L1522.0,1266.1 L1523.4,1266.1 L1524.8,1266.0 L1526.2,1266.0 L1527.6,1266.0 L1529.0,1266.0 L1530.3,1266.0 L1531.7,1266.0 L1533.1,1266.0 L1534.5,1266.0 L1535.9,1266.0 L1537.3,1265.9 L1538.7,1265.9 L1540.1,1265.9 L1541.4,1265.9 L1542.8,1265.9 L1544.2,1265.9 L1545.6,1265.9 L1547.0,1265.9 L1548.4,1265.9 L1549.8,1265.9 L1551.1,1265.9 L1552.5,1265.9 L1553.9,1265.9 L1555.3,1265.8 L1556.7,1265.8 L1558.1,1265.8 L1559.5,1265.8 L1560.9,1265.8 L1562.2,1265.8 L1563.6,1265.8 L1565.0,1265.8 L1566.4,1265.8 L1567.8,1265.8 L1569.2,1265.8 L1570.6,1265.8 L1572.0,1265.8 L1573.3,1265.8 L1574.7,1265.8 L1576.1,1265.8 L1577.5,1265.8 L1578.9,1265.8 L1580.3,1265.8 L1581.7,1265.8 L1583.1,1265.8 L1584.4,1265.8 L1585.8,1265.8 L1587.2,1265.8 L1588.6,1265.8 L1590.0,1265.8 L1591.4,1265.8 L1592.8,1265.8 L1594.2,1265.8 L1595.5,1265.8 L1596.9,1265.8 L1598.3,1265.8 L1599.7,1265.8 L1601.1,1265.8 L1602.5,1265.8 L1603.9,1265.8 L1605.2,1265.8 L1606.6,1265.8 L1608.0,1265.8 L1609.4,1265.8 L1610.8,1265.8 L1612.2,1265.8 L1613.6,1265.9 L1615.0,1265.9 L1616.3,1265.9 L1617.7,1265.9 L1619.1,1265.9 L1620.5,1265.9 L1621.9,1265.9 L1623.3,1265.9 L1624.7,1265.9 L1626.1,1265.9 L1627.4,1265.9 L1628.8,1265.9 L1630.2,1265.9 L1631.6,1265.9 L1633.0,1265.9 L1634.4,1266.0 L1635.8,1266.0 L1637.2,1266.0 L1638.5,1266.0 L1639.9,1266.0 L1641.3,1266.0 L1642.7,1266.0 L1644.1,1266.0 L1645.5,1266.0 L1646.9,1266.0 L1648.2,1266.0 L1649.6,1266.0 L1651.0,1266.1 L1652.4,1266.1 L1653.8,1266.1 L1655.2,1266.1 L1656.6,1266.1 L1658.0,1266.1 L1659.3,1266.1 L1660.7,1266.1 L1662.1,1266.1 L1663.5,1266.2 L1664.9,1266.2 L1666.3,1266.2 L1667.7,1266.2 L1669.1,1266.2 L1670.4,1266.2 L1671.8,1266.2 L1673.2,1266.2 L1674.6,1266.2 L1676.0,1266.3 L1677.4,1266.3 L1678.8,1266.3 L1680.2,1266.3 L1681.5,1266.3 L1682.9,1266.3 L1684.3,1266.3 L1685.7,1266.3 L1687.1,1266.4 L1688.5,1266.4 L1689.9,1266.4 L1691.3,1266.4 L1692.6,1266.4 L1694.0,1266.4 L1695.4,1266.4 L1696.8,1266.4 L1698.2,1266.5 L1699.6,1266.5 L1701.0,1266.5 L1702.3,1266.5 L1703.7,1266.5 L1705.1,1266.5 L1706.5,1266.5 L1707.9,1266.6 L1709.3,1266.6 L1710.7,1266.6 L1712.1,1266.6 L1713.4,1266.6 L1714.8,1266.6 L1716.2,1266.6 L1717.6,1266.7 L1719.0,1266.7 L1720.4,1266.7 L1721.8,1266.7 L1723.2,1266.7 L1724.5,1266.7 L1725.9,1266.7 L1727.3,1266.8 L1728.7,1266.8 L1730.1,1266.8 L1731.5,1266.8 L1732.9,1266.8 L1734.3,1266.8 L1735.6,1266.8 L1737.0,1266.9 L1738.4,1266.9 L1739.8,1266.9 L1741.2,1266.9 L1742.6,1266.9 L1744.0,1266.9 L1745.4,1266.9 L1746.7,1267.0 L1748.1,1267.0 L1749.5,1267.0 L1750.9,1267.0 L1752.3,1267.0 L1753.7,1267.0 L1755.1,1267.0 L1756.4,1267.1 L1757.8,1267.1 L1759.2,1267.1 L1760.6,1267.1 L1762.0,1267.1 L1763.4,1267.1 L1764.8,1267.1 L1766.2,1267.2 L1767.5,1267.2 L1768.9,1267.2 L1770.3,1267.2 L1771.7,1267.2 L1773.1,1267.2 L1774.5,1267.2 L1775.9,1267.3 L1777.3,1267.3 L1778.6,1267.3 L1780.0,1267.3 L1781.4,1267.3 L1782.8,1267.3 L1784.2,1267.3 L1785.6,1267.4 L1787.0,1267.4 L1788.4,1267.4 L1789.7,1267.4 L1791.1,1267.4 L1792.5,1267.4 L1793.9,1267.4 L1795.3,1267.4 L1796.7,1267.5 L1798.1,1267.5 L1799.5,1267.5 L1800.8,1267.5 L1802.2,1267.5 L1803.6,1267.5 L1805.0,1267.5 L1806.4,1267.5 L1807.8,1267.6 L1809.2,1267.6 L1810.5,1267.6 L1811.9,1267.6 L1813.3,1267.6 L1814.7,1267.6 L1816.1,1267.6 L1817.5,1267.6 L1818.9,1267.7 L1820.3,1267.7 L1821.6,1267.7 L1823.0,1267.7 L1824.4,1267.7 L1825.8,1267.7 L1827.2,1267.7 L1828.6,1267.7 L1830.0,1267.7 L1831.4,1267.7 L1832.7,1267.8 L1834.1,1267.8 L1835.5,1267.8 L1836.9,1267.8 L1838.3,1267.8 L1839.7,1267.8 L1841.1,1267.8 L1842.5,1267.8 L1843.8,1267.8 L1845.2,1267.8 L1846.6,1267.8 L1848.0,1267.9 L1849.4,1267.9 L1850.8,1267.9 L1852.2,1267.9 L1853.6,1267.9 L1854.9,1267.9 L1856.3,1267.9 L1857.7,1267.9 L1859.1,1267.9 L1860.5,1267.9 L1861.9,1267.9 L1863.3,1267.9 L1864.6,1267.9 L1866.0,1267.9 L1867.4,1267.9 L1868.8,1267.9 L1870.2,1268.0 L1871.6,1268.0 L1873.0,1268.0 L1874.4,1268.0 L1875.7,1268.0 L1877.1,1268.0 L1878.5,1268.0 L1879.9,1268.0 L1881.3,1268.0 L1882.7,1268.0 L1884.1,1268.0 L1885.5,1268.0 L1886.8,1268.0 L1888.2,1268.0 L1889.6,1268.0 L1891.0,1268.0 L1892.4,1268.0 L1893.8,1268.0 L1895.2,1268.0 L1896.6,1268.0 L1897.9,1268.0 L1899.3,1268.0 L1900.7,1268.0 L1902.1,1268.0 L1903.5,1268.0 L1904.9,1268.0 L1906.3,1268.0 L1907.6,1268.0 L1909.0,1268.0 L1910.4,1268.0 L1911.8,1268.0 L1913.2,1268.0 L1914.6,1268.0 L1916.0,1268.0 L1917.4,1268.0 L1918.7,1268.0 L1920.1,1268.0 L1921.5,1268.0 L1922.9,1268.0 L1924.3,1268.0 L1925.7,1268.0 L1927.1,1268.0 L1928.5,1267.9 L1929.8,1267.9 L1931.2,1267.9 L1932.6,1267.9 L1934.0,1267.9 L1935.4,1267.9 L1936.8,1267.9 L1938.2,1267.9 L1939.6,1267.9 L1940.9,1267.9 L1942.3,1267.9 L1943.7,1267.9 L1945.1,1267.9 L1946.5,1267.8 L1947.9,1267.8 L1949.3,1267.8 L1950.7,1267.8 L1952.0,1267.8 L1953.4,1267.8 L1954.8,1267.8 L1956.2,1267.8 L1957.6,1267.8 L1959.0,1267.7 L1960.4,1267.7 L1961.7,1267.7 L1963.1,1267.7 L1964.5,1267.7 L1965.9,1267.7 L1967.3,1267.7 L1968.7,1267.6 L1970.1,1267.6 L1971.5,1267.6 L1972.8,1267.6 L1974.2,1267.6 L1975.6,1267.6 L1977.0,1267.5 L1978.4,1267.5 L1979.8,1267.5 L1981.2,1267.5 L1982.6,1267.5 L1983.9,1267.4 L1985.3,1267.4 L1986.7,1267.4 L1988.1,1267.4 L1989.5,1267.4 L1990.9,1267.3 L1992.3,1267.3 L1993.7,1267.3 L1995.0,1267.3 L1996.4,1267.3 L1997.8,1267.2 L1999.2,1267.2 L2000.6,1267.2 L2002.0,1267.2 L2003.4,1267.1 L2004.8,1267.1 L2006.1,1267.1 L2007.5,1267.1 L2008.9,1267.0 L2010.3,1267.0" stroke="#00c040" stroke-width="3.4"/>
<path d="M345.7,1313.7 L347.1,1313.7 L348.4,1313.7 L349.8,1313.7 L351.2,1313.7 L352.5,1313.7 L353.9,1313.7 L355.3,1313.7 L356.6,1313.7 L358.0,1313.7 L359.3,1313.7 L360.7,1313.7 L362.1,1313.7 L363.4,1313.7 L364.8,1313.7 L366.2,1313.7 L367.5,1313.7 L368.9,1313.7 L370.3,1313.7 L371.6,1313.7 L373.0,1313.7 L374.4,1313.7 L375.7,1313.7 L377.1,1313.7 L378.5,1313.7 L379.8,1313.7 L381.2,1313.7 L382.6,1313.7 L383.9,1313.7 L385.3,1313.6 L386.6,1313.6 L388.0,1313.6 L389.4,1313.6 L390.7,1313.6 L392.1,1313.6 L393.5,1313.6 L394.8,1313.6 L396.2,1313.6 L397.6,1313.5 L398.9,1313.5 L400.3,1313.5 L401.7,1313.5 L403.0,1313.5 L404.4,1313.5 L405.8,1313.5 L407.1,1313.4 L408.5,1313.4 L409.9,1313.4 L411.2,1313.4 L412.6,1313.4 L413.9,1313.4 L415.3,1313.3 L416.7,1313.3 L418.0,1313.3 L419.4,1313.3 L420.8,1313.3 L422.1,1313.2 L423.5,1313.2 L424.9,1313.2 L426.2,1313.2 L427.6,1313.1 L429.0,1313.1 L430.3,1313.1 L431.7,1313.1 L433.1,1313.0 L434.4,1313.0 L435.8,1313.0 L437.2,1313.0 L438.5,1312.9 L439.9,1312.9 L441.2,1312.9 L442.6,1312.8 L444.0,1312.8 L445.3,1312.8 L446.7,1312.7 L448.1,1312.7 L449.4,1312.7 L450.8,1312.6 L452.2,1312.6 L453.5,1312.6 L454.9,1312.5 L456.3,1312.5 L457.6,1312.4 L459.0,1312.4 L460.4,1312.4 L461.7,1312.3 L463.1,1312.3 L464.5,1312.2 L465.8,1312.2 L467.2,1312.2 L468.5,1312.1 L469.9,1312.1 L471.3,1312.0 L472.6,1312.0 L474.0,1311.9 L475.4,1311.9 L476.7,1311.8 L478.1,1311.8 L479.5,1311.8 L480.8,1311.7 L482.2,1311.7 L483.6,1311.6 L484.9,1311.5 L486.3,1311.5 L487.7,1311.4 L489.0,1311.4 L490.4,1311.3 L491.8,1311.3 L493.1,1311.2 L494.5,1311.2 L495.8,1311.1 L497.2,1311.1 L498.6,1311.0 L499.9,1310.9 L501.3,1310.9 L502.7,1310.8 L504.0,1310.7 L505.4,1310.7 L506.8,1310.6 L508.1,1310.6 L509.5,1310.5 L510.9,1310.4 L512.2,1310.4 L513.6,1310.3 L515.0,1310.2 L516.3,1310.2 L517.7,1310.1 L519.1,1310.0 L520.4,1309.9 L521.8,1309.9 L523.1,1309.8 L524.5,1309.7 L525.9,1309.6 L527.2,1309.6 L528.6,1309.5 L530.0,1309.4 L531.3,1309.3 L532.7,1309.3 L534.1,1309.2 L535.4,1309.1 L536.8,1309.0 L538.2,1308.9 L539.5,1308.9 L540.9,1308.8 L542.3,1308.7 L543.6,1308.6 L545.0,1308.5 L546.4,1308.4 L547.7,1308.3 L549.1,1308.2 L550.4,1308.2 L551.8,1308.1 L553.2,1308.0 L554.5,1307.9 L555.9,1307.8 L557.3,1307.7 L558.6,1307.6 L560.0,1307.5 L561.4,1307.4 L562.7,1307.3 L564.1,1307.2 L565.5,1307.1 L566.8,1307.0 L568.2,1306.9 L569.6,1306.8 L570.9,1306.7 L572.3,1306.6 L573.7,1306.4 L575.0,1306.3 L576.4,1306.2 L577.7,1306.1 L579.1,1306.0 L580.5,1305.8 L581.8,1305.7 L583.2,1305.6 L584.6,1305.5 L585.9,1305.3 L587.3,1305.2 L588.7,1305.0 L590.0,1304.9 L591.4,1304.8 L592.8,1304.6 L594.1,1304.5 L595.5,1304.3 L596.9,1304.1 L598.2,1304.0 L599.6,1303.8 L600.9,1303.7 L602.3,1303.5 L603.7,1303.3 L605.0,1303.1 L606.4,1303.0 L607.8,1302.8 L609.1,1302.6 L610.5,1302.4 L611.9,1302.2 L613.2,1302.0 L614.6,1301.8 L616.0,1301.6 L617.3,1301.4 L618.7,1301.1 L620.1,1300.9 L621.4,1300.7 L622.8,1300.5 L624.2,1300.2 L625.5,1300.0 L626.9,1299.8 L628.2,1299.5 L629.6,1299.3 L631.0,1299.0 L632.3,1298.7 L633.7,1298.5 L635.1,1298.2 L636.4,1297.9 L637.8,1297.7 L639.2,1297.4 L640.5,1297.1 L641.9,1296.8 L643.3,1296.5 L644.6,1296.1 L646.0,1295.8 L647.4,1295.5 L648.7,1295.1 L650.1,1294.7 L651.5,1294.4 L652.8,1293.9 L654.2,1293.5 L655.5,1293.1 L656.9,1292.6 L658.3,1292.1 L659.6,1291.6 L661.0,1291.0 L662.4,1290.5 L663.7,1289.9 L665.1,1289.2 L666.5,1288.6 L667.8,1287.9 L669.2,1287.1 L670.6,1286.4 L671.9,1285.5 L673.3,1284.7 L674.7,1283.8 L676.0,1282.8 L677.4,1281.8 L678.8,1280.8 L680.1,1279.7 L681.5,1278.5 L682.8,1277.3 L684.2,1276.0 L685.6,1274.7 L686.9,1273.3 L688.3,1271.8 L689.7,1270.3 L691.0,1268.6 L692.4,1266.9 L693.8,1265.1 L695.1,1263.2 L696.5,1261.2 L697.9,1259.2 L699.2,1257.0 L700.6,1254.7 L702.0,1252.3 L703.3,1249.7 L704.7,1247.1 L706.1,1244.3 L707.4,1241.4 L708.8,1238.4 L710.1,1235.3 L711.5,1232.0 L712.9,1228.6 L714.2,1225.1 L715.6,1221.5 L717.0,1217.7 L718.3,1213.8 L719.7,1209.7 L721.1,1205.5 L722.4,1201.1 L723.8,1196.6 L725.2,1192.0 L726.5,1187.1 L727.9,1182.2 L729.3,1177.1 L730.6,1171.8 L732.0,1166.3 L733.4,1160.7 L734.7,1154.9 L736.1,1148.9 L737.4,1142.8 L738.8,1136.4 L740.2,1129.9 L741.5,1123.2 L742.9,1116.3 L744.3,1109.2 L745.6,1101.9 L747.0,1094.5 L748.4,1086.8 L749.7,1078.9 L751.1,1070.7 L752.5,1062.4 L753.8,1053.9 L755.2,1045.1 L756.6,1036.0 L757.9,1026.7 L759.3,1017.1 L760.7,1007.3 L762.0,997.2 L763.4,986.7 L764.7,976.0 L766.1,964.9 L767.5,953.5 L768.8,941.7 L770.2,929.6 L771.6,917.1 L772.9,904.3 L774.3,891.1 L775.7,877.5 L777.0,863.6 L778.4,849.3 L779.8,834.7 L781.1,819.7 L782.5,804.5 L783.9,789.0 L785.2,773.3 L786.6,757.4 L788.0,741.3 L789.3,725.2 L790.7,709.1 L792.0,693.1 L793.4,677.0 L794.8,661.1 L796.1,645.1 L797.5,629.3 L798.9,613.4 L800.2,597.7 L801.6,582.0 L803.0,566.4 L804.3,550.9 L805.7,535.4 L807.1,520.1 L808.4,504.8 L809.8,489.6 L811.2,474.5 L812.5,459.5 L813.9,444.6 L815.3,429.8 L816.6,415.0 L818.0,400.4 L819.3,385.9 L820.7,371.5 L822.1,357.1 L823.4,343.0 L824.8,330.2 L826.2,319.9 L827.5,311.9 L828.9,305.5 L830.3,300.5 L831.6,296.4 L833.0,293.1 L834.4,290.5 L835.7,288.3 L837.1,286.7 L838.5,285.7 L839.8,285.2 L841.2,285.4 L842.5,286.4 L843.9,288.2 L845.3,290.6 L846.6,293.8 L848.0,297.5 L849.4,301.6 L850.7,306.1 L852.1,311.0 L853.5,316.2 L854.8,321.8 L856.2,327.7 L857.6,334.1 L858.9,340.9 L860.3,348.1 L861.7,355.8 L863.0,363.8 L864.4,372.3 L865.8,381.1 L867.1,390.3 L868.5,399.6 L869.8,409.2 L871.2,418.9 L872.6,428.7 L873.9,438.7 L875.3,448.7 L876.7,458.9 L878.0,469.2 L879.4,479.5 L880.8,490.0 L882.1,500.5 L883.5,511.1 L884.9,521.7 L886.2,532.3 L887.6,542.9 L889.0,553.6 L890.3,564.2 L891.7,574.7 L893.1,585.3 L894.4,595.7 L895.8,606.1 L897.1,616.4 L898.5,626.6 L899.9,636.7 L901.2,646.6 L902.6,656.4 L904.0,666.1 L905.3,675.7 L906.7,685.1 L908.1,694.4 L909.4,703.5 L910.8,712.4 L912.2,721.2 L913.5,729.9 L914.9,738.4 L916.3,746.8 L917.6,755.1 L919.0,763.2 L920.4,771.3 L921.7,779.2 L923.1,787.0 L924.4,794.6 L925.8,802.2 L927.2,809.6 L928.5,817.0 L929.9,824.2 L931.3,831.4 L932.6,838.4 L934.0,845.4 L935.4,852.2 L936.7,859.0 L938.1,865.6 L939.5,872.2 L940.8,878.7 L942.2,885.1 L943.6,891.4 L944.9,897.6 L946.3,903.8 L947.7,909.8 L949.0,915.8 L950.4,921.7 L951.7,927.5 L953.1,933.3 L954.5,939.0 L955.8,944.6 L957.2,950.1 L958.6,955.5 L959.9,960.9 L961.3,966.2 L962.7,971.5 L964.0,976.6 L965.4,981.7 L966.8,986.8 L968.1,991.7 L969.5,996.6 L970.9,1001.4 L972.2,1006.2 L973.6,1010.9 L975.0,1015.6 L976.3,1020.1 L977.7,1024.6 L979.0,1029.1 L980.4,1033.5 L981.8,1037.8 L983.1,1042.1 L984.5,1046.3 L985.9,1050.4 L987.2,1054.5 L988.6,1058.6 L990.0,1062.5 L991.3,1066.5 L992.7,1070.3 L994.1,1074.1 L995.4,1077.9 L996.8,1081.6 L998.2,1085.2 L999.5,1088.8 L1000.9,1092.3 L1002.3,1095.8 L1003.6,1099.2 L1005.0,1102.6 L1006.3,1105.9 L1007.7,1109.2 L1009.1,1112.4 L1010.4,1115.6 L1011.8,1118.7 L1013.2,1121.8 L1014.5,1124.8 L1015.9,1127.8 L1017.3,1130.7 L1018.6,1133.5 L1020.0,1136.4 L1021.4,1139.1 L1022.7,1141.8 L1024.1,1144.5 L1025.5,1147.1 L1026.8,1149.7 L1028.2,1152.3 L1029.6,1154.7 L1030.9,1157.2 L1032.3,1159.6 L1033.6,1161.9 L1035.0,1164.2 L1036.4,1166.5 L1037.7,1168.7 L1039.1,1170.8 L1040.5,1172.9 L1041.8,1175.0 L1043.2,1177.0 L1044.6,1179.0 L1045.9,1181.0 L1047.3,1182.9 L1048.7,1184.7 L1050.0,1186.5 L1051.4,1188.3 L1052.8,1190.0 L1054.1,1191.7 L1055.5,1193.3 L1056.9,1194.9 L1058.2,1196.5 L1059.6,1198.0 L1060.9,1199.5 L1062.3,1200.9 L1063.7,1202.3 L1065.0,1203.7 L1066.4,1205.0 L1067.8,1206.3 L1069.1,1207.6 L1070.5,1208.8 L1071.9,1210.0 L1073.2,1211.2 L1074.6,1212.3 L1076.0,1213.4 L1077.3,1214.5 L1078.7,1215.6 L1080.1,1216.6 L1081.4,1217.6 L1082.8,1218.5 L1084.1,1219.5 L1085.5,1220.4 L1086.9,1221.3 L1088.2,1222.2 L1089.6,1223.0 L1091.0,1223.8 L1092.3,1224.6 L1093.7,1225.4 L1095.1,1226.2 L1096.4,1226.9 L1097.8,1227.6 L1099.2,1228.3 L1100.5,1229.0 L1101.9,1229.6 L1103.3,1230.3 L1104.6,1230.9 L1106.0,1231.5 L1107.4,1232.1 L1108.7,1232.6 L1110.1,1233.2 L1111.4,1233.7 L1112.8,1234.3 L1114.2,1234.8 L1115.5,1235.3 L1116.9,1235.7 L1118.3,1236.2 L1119.6,1236.6 L1121.0,1237.1 L1122.4,1237.5 L1123.7,1237.9 L1125.1,1238.3 L1126.5,1238.7 L1127.8,1239.1 L1129.2,1239.5 L1130.6,1239.8 L1131.9,1240.2 L1133.3,1240.5 L1134.7,1240.9 L1136.0,1241.2 L1137.4,1241.5 L1138.7,1241.8 L1140.1,1242.1 L1141.5,1242.4 L1142.8,1242.7 L1144.2,1243.0 L1145.6,1243.3 L1146.9,1243.5 L1148.3,1243.8 L1149.7,1244.1 L1151.0,1244.3 L1152.4,1244.5 L1153.8,1244.8 L1155.1,1245.0 L1156.5,1245.2 L1157.9,1245.5 L1159.2,1245.7 L1160.6,1245.9 L1162.0,1246.1 L1163.3,1246.3 L1164.7,1246.5 L1166.0,1246.6 L1167.4,1246.8 L1168.8,1247.0 L1170.1,1247.1 L1171.5,1247.3 L1172.9,1247.5 L1174.2,1247.6 L1175.6,1247.8 L1177.0,1247.9 L1178.3,1248.0 L1179.7,1248.2 L1181.1,1248.3 L1182.4,1248.4 L1183.8,1248.5 L1185.2,1248.6 L1186.5,1248.7 L1187.9,1248.8 L1189.3,1248.9 L1190.6,1249.0 L1192.0,1249.1 L1193.3,1249.2 L1194.7,1249.2 L1196.1,1249.3 L1197.4,1249.4 L1198.8,1249.4 L1200.2,1249.5 L1201.5,1249.5 L1202.9,1249.6 L1204.3,1249.6 L1205.6,1249.7 L1207.0,1249.7 L1208.4,1249.7 L1209.7,1249.8 L1211.1,1249.8 L1212.5,1249.8 L1213.8,1249.8 L1215.2,1249.8 L1216.6,1249.9 L1217.9,1249.9 L1219.3,1249.9 L1220.6,1249.9 L1222.0,1249.9 L1223.4,1249.9 L1224.7,1249.9 L1226.1,1249.8 L1227.5,1249.8 L1228.8,1249.8 L1230.2,1249.8 L1231.6,1249.8 L1232.9,1249.7 L1234.3,1249.7 L1235.7,1249.7 L1237.0,1249.7 L1238.4,1249.6 L1239.8,1249.6 L1241.1,1249.5 L1242.5,1249.5 L1243.9,1249.5 L1245.2,1249.4 L1246.6,1249.4 L1247.9,1249.3 L1249.3,1249.3 L1250.7,1249.2 L1252.0,1249.1 L1253.4,1249.1 L1254.8,1249.0 L1256.1,1249.0 L1257.5,1248.9 L1258.9,1248.8 L1260.2,1248.8 L1261.6,1248.7 L1263.0,1248.6 L1264.3,1248.6 L1265.7,1248.5 L1267.1,1248.4 L1268.4,1248.4 L1269.8,1248.3 L1271.2,1248.2 L1272.5,1248.1 L1273.9,1248.1 L1275.2,1248.0 L1276.6,1247.9 L1278.0,1247.8 L1279.3,1247.8 L1280.7,1247.7 L1282.1,1247.6 L1283.4,1247.5 L1284.8,1247.5 L1286.2,1247.4 L1287.5,1247.3 L1288.9,1247.2 L1290.3,1247.2 L1291.6,1247.1 L1293.0,1247.0 L1294.4,1246.9 L1295.7,1246.8 L1297.1,1246.8 L1298.5,1246.7 L1299.8,1246.6 L1301.2,1246.5 L1302.5,1246.5 L1303.9,1246.4 L1305.3,1246.3 L1306.6,1246.3 L1308.0,1246.2 L1309.4,1246.1 L1310.7,1246.0 L1312.1,1246.0 L1313.5,1245.9 L1314.8,1245.8 L1316.2,1245.8 L1317.6,1245.7 L1318.9,1245.6 L1320.3,1245.6 L1321.7,1245.5 L1323.0,1245.5 L1324.4,1245.4 L1325.7,1245.3 L1327.1,1245.3 L1328.5,1245.2 L1329.8,1245.2 L1331.2,1245.1 L1332.6,1245.0 L1333.9,1245.0 L1335.3,1244.9 L1336.7,1244.9 L1338.0,1244.8 L1339.4,1244.8 L1340.8,1244.7 L1342.1,1244.6 L1343.5,1244.6 L1344.9,1244.5 L1346.2,1244.5 L1347.6,1244.4 L1349.0,1244.4 L1350.3,1244.3 L1351.7,1244.3 L1353.0,1244.2 L1354.4,1244.2 L1355.8,1244.1 L1357.1,1244.1 L1358.5,1244.1 L1359.9,1244.0 L1361.2,1244.0 L1362.6,1243.9 L1364.0,1243.9 L1365.3,1243.8 L1366.7,1243.8 L1368.1,1243.7 L1369.4,1243.7 L1370.8,1243.7 L1372.2,1243.6 L1373.5,1243.6 L1374.9,1243.5 L1376.3,1243.5 L1377.6,1243.5 L1379.0,1243.4 L1380.3,1243.4 L1381.7,1243.4 L1383.1,1243.3 L1384.4,1243.3 L1385.8,1243.2 L1387.2,1243.2 L1388.5,1243.2 L1389.9,1243.1 L1391.3,1243.1 L1392.6,1243.1 L1394.0,1243.0 L1395.4,1243.0 L1396.7,1243.0 L1398.1,1243.0 L1399.5,1242.9 L1400.8,1242.9 L1402.2,1242.9 L1403.6,1242.8 L1404.9,1242.8 L1406.3,1242.8 L1407.6,1242.8 L1409.0,1242.7 L1410.4,1242.7 L1411.7,1242.7 L1413.1,1242.7 L1414.5,1242.6 L1415.8,1242.6 L1417.2,1242.6 L1418.6,1242.6 L1419.9,1242.5 L1421.3,1242.5 L1422.7,1242.5 L1424.0,1242.5 L1425.4,1242.5 L1426.8,1242.4 L1428.1,1242.4 L1429.5,1242.4 L1430.9,1242.4 L1432.2,1242.4 L1433.6,1242.3 L1434.9,1242.3 L1436.3,1242.3 L1437.7,1242.3 L1439.0,1242.3 L1440.4,1242.3 L1441.8,1242.2 L1443.1,1242.2 L1444.5,1242.2 L1445.9,1242.2 L1447.2,1242.2 L1448.6,1242.2 L1450.0,1242.2 L1451.3,1242.2 L1452.7,1242.1 L1454.1,1242.1 L1455.4,1242.1 L1456.8,1242.1 L1458.2,1242.1 L1459.5,1242.1 L1460.9,1242.1 L1462.2,1242.1 L1463.6,1242.1 L1465.0,1242.1 L1466.3,1242.1 L1467.7,1242.0 L1469.1,1242.0 L1470.4,1242.0 L1471.8,1242.0 L1473.2,1242.0 L1474.5,1242.0 L1475.9,1242.0 L1477.3,1242.0 L1478.6,1242.0 L1480.0,1242.0 L1481.4,1242.0 L1482.7,1242.0 L1484.1,1242.0 L1485.5,1242.0 L1486.8,1242.0 L1488.2,1242.0 L1489.5,1242.0 L1490.9,1242.0 L1492.3,1242.0 L1493.6,1242.0 L1495.0,1242.0 L1496.4,1242.0 L1497.7,1242.0 L1499.1,1242.0 L1500.5,1242.0 L1501.8,1242.0 L1503.2,1242.0 L1504.6,1242.0 L1505.9,1242.0 L1507.3,1242.0 L1508.7,1242.0 L1510.0,1242.0 L1511.4,1242.0 L1512.8,1242.0 L1514.1,1242.0 L1515.5,1242.0 L1516.8,1242.0 L1518.2,1242.0 L1519.6,1242.0 L1520.9,1242.1 L1522.3,1242.1 L1523.7,1242.1 L1525.0,1242.1 L1526.4,1242.1 L1527.8,1242.1 L1529.1,1242.1 L1530.5,1242.1 L1531.9,1242.1 L1533.2,1242.1 L1534.6,1242.1 L1536.0,1242.1 L1537.3,1242.1 L1538.7,1242.2 L1540.1,1242.2 L1541.4,1242.2 L1542.8,1242.2 L1544.1,1242.2 L1545.5,1242.2 L1546.9,1242.2 L1548.2,1242.2 L1549.6,1242.2 L1551.0,1242.3 L1552.3,1242.3 L1553.7,1242.3 L1555.1,1242.3 L1556.4,1242.3 L1557.8,1242.3 L1559.2,1242.3 L1560.5,1242.3 L1561.9,1242.4 L1563.3,1242.4 L1564.6,1242.4 L1566.0,1242.4 L1567.3,1242.4 L1568.7,1242.4 L1570.1,1242.4 L1571.4,1242.5 L1572.8,1242.5 L1574.2,1242.5 L1575.5,1242.5 L1576.9,1242.5 L1578.3,1242.5 L1579.6,1242.6 L1581.0,1242.6 L1582.4,1242.6 L1583.7,1242.6 L1585.1,1242.6 L1586.5,1242.6 L1587.8,1242.7 L1589.2,1242.7 L1590.6,1242.7 L1591.9,1242.7 L1593.3,1242.7 L1594.6,1242.7 L1596.0,1242.8 L1597.4,1242.8 L1598.7,1242.8 L1600.1,1242.8 L1601.5,1242.8 L1602.8,1242.9 L1604.2,1242.9 L1605.6,1242.9 L1606.9,1242.9 L1608.3,1242.9 L1609.7,1243.0 L1611.0,1243.0 L1612.4,1243.0 L1613.8,1243.0 L1615.1,1243.0 L1616.5,1243.1 L1617.9,1243.1 L1619.2,1243.1 L1620.6,1243.1 L1621.9,1243.1 L1623.3,1243.2 L1624.7,1243.2 L1626.0,1243.2 L1627.4,1243.2 L1628.8,1243.2 L1630.1,1243.3 L1631.5,1243.3 L1632.9,1243.3 L1634.2,1243.3 L1635.6,1243.4 L1637.0,1243.4 L1638.3,1243.4 L1639.7,1243.4 L1641.1,1243.4 L1642.4,1243.5 L1643.8,1243.5 L1645.2,1243.5 L1646.5,1243.5 L1647.9,1243.5 L1649.2,1243.6 L1650.6,1243.6 L1652.0,1243.6 L1653.3,1243.6 L1654.7,1243.7 L1656.1,1243.7 L1657.4,1243.7 L1658.8,1243.7 L1660.2,1243.7 L1661.5,1243.8 L1662.9,1243.8 L1664.3,1243.8 L1665.6,1243.8 L1667.0,1243.9 L1668.4,1243.9 L1669.7,1243.9 L1671.1,1243.9 L1672.5,1244.0 L1673.8,1244.0 L1675.2,1244.0 L1676.5,1244.0 L1677.9,1244.0 L1679.3,1244.1 L1680.6,1244.1 L1682.0,1244.1 L1683.4,1244.1 L1684.7,1244.2 L1686.1,1244.2 L1687.5,1244.2 L1688.8,1244.2 L1690.2,1244.2 L1691.6,1244.3 L1692.9,1244.3 L1694.3,1244.3 L1695.7,1244.3 L1697.0,1244.4 L1698.4,1244.4 L1699.8,1244.4 L1701.1,1244.4 L1702.5,1244.4 L1703.8,1244.5 L1705.2,1244.5 L1706.6,1244.5 L1707.9,1244.5 L1709.3,1244.6 L1710.7,1244.6 L1712.0,1244.6 L1713.4,1244.6 L1714.8,1244.6 L1716.1,1244.7 L1717.5,1244.7 L1718.9,1244.7 L1720.2,1244.7 L1721.6,1244.7 L1723.0,1244.8 L1724.3,1244.8 L1725.7,1244.8 L1727.1,1244.8 L1728.4,1244.9 L1729.8,1244.9 L1731.1,1244.9 L1732.5,1244.9 L1733.9,1244.9 L1735.2,1245.0 L1736.6,1245.0 L1738.0,1245.0 L1739.3,1245.0 L1740.7,1245.0 L1742.1,1245.1 L1743.4,1245.1 L1744.8,1245.1 L1746.2,1245.1 L1747.5,1245.1 L1748.9,1245.1 L1750.3,1245.2 L1751.6,1245.2 L1753.0,1245.2 L1754.4,1245.2 L1755.7,1245.2 L1757.1,1245.3 L1758.4,1245.3 L1759.8,1245.3 L1761.2,1245.3 L1762.5,1245.3 L1763.9,1245.3 L1765.3,1245.4 L1766.6,1245.4 L1768.0,1245.4 L1769.4,1245.4 L1770.7,1245.4 L1772.1,1245.4 L1773.5,1245.5 L1774.8,1245.5 L1776.2,1245.5 L1777.6,1245.5 L1778.9,1245.5 L1780.3,1245.5 L1781.7,1245.6 L1783.0,1245.6 L1784.4,1245.6 L1785.7,1245.6 L1787.1,1245.6 L1788.5,1245.6 L1789.8,1245.6 L1791.2,1245.7 L1792.6,1245.7 L1793.9,1245.7 L1795.3,1245.7 L1796.7,1245.7 L1798.0,1245.7 L1799.4,1245.7 L1800.8,1245.7 L1802.1,1245.8 L1803.5,1245.8 L1804.9,1245.8 L1806.2,1245.8 L1807.6,1245.8 L1808.9,1245.8 L1810.3,1245.8 L1811.7,1245.8 L1813.0,1245.8 L1814.4,1245.8 L1815.8,1245.9 L1817.1,1245.9 L1818.5,1245.9 L1819.9,1245.9 L1821.2,1245.9 L1822.6,1245.9 L1824.0,1245.9 L1825.3,1245.9 L1826.7,1245.9 L1828.1,1245.9 L1829.4,1245.9 L1830.8,1245.9 L1832.2,1245.9 L1833.5,1245.9 L1834.9,1246.0 L1836.2,1246.0 L1837.6,1246.0 L1839.0,1246.0 L1840.3,1246.0 L1841.7,1246.0 L1843.1,1246.0 L1844.4,1246.0 L1845.8,1246.0 L1847.2,1246.0 L1848.5,1246.0 L1849.9,1246.0 L1851.3,1246.0 L1852.6,1246.0 L1854.0,1246.0 L1855.4,1246.0 L1856.7,1246.0 L1858.1,1246.0 L1859.5,1246.0 L1860.8,1246.0 L1862.2,1246.0 L1863.5,1246.0 L1864.9,1246.0 L1866.3,1246.0 L1867.6,1246.0 L1869.0,1246.0 L1870.4,1246.0 L1871.7,1246.0 L1873.1,1246.0 L1874.5,1246.0 L1875.8,1246.0 L1877.2,1246.0 L1878.6,1245.9 L1879.9,1245.9 L1881.3,1245.9 L1882.7,1245.9 L1884.0,1245.9 L1885.4,1245.9 L1886.8,1245.9 L1888.1,1245.9 L1889.5,1245.9 L1890.8,1245.9 L1892.2,1245.9 L1893.6,1245.9 L1894.9,1245.9 L1896.3,1245.8 L1897.7,1245.8 L1899.0,1245.8 L1900.4,1245.8 L1901.8,1245.8 L1903.1,1245.8 L1904.5,1245.8 L1905.9,1245.8 L1907.2,1245.7 L1908.6,1245.7 L1910.0,1245.7 L1911.3,1245.7 L1912.7,1245.7 L1914.1,1245.7 L1915.4,1245.6 L1916.8,1245.6 L1918.1,1245.6 L1919.5,1245.6 L1920.9,1245.6 L1922.2,1245.6 L1923.6,1245.5 L1925.0,1245.5 L1926.3,1245.5 L1927.7,1245.5 L1929.1,1245.5 L1930.4,1245.4 L1931.8,1245.4 L1933.2,1245.4 L1934.5,1245.4 L1935.9,1245.3 L1937.3,1245.3 L1938.6,1245.3 L1940.0,1245.3 L1941.4,1245.2 L1942.7,1245.2 L1944.1,1245.2 L1945.4,1245.2 L1946.8,1245.1 L1948.2,1245.1 L1949.5,1245.1 L1950.9,1245.0 L1952.3,1245.0 L1953.6,1245.0 L1955.0,1244.9 L1956.4,1244.9 L1957.7,1244.9 L1959.1,1244.9 L1960.5,1244.8 L1961.8,1244.8 L1963.2,1244.8 L1964.6,1244.7 L1965.9,1244.7 L1967.3,1244.6 L1968.7,1244.6 L1970.0,1244.6 L1971.4,1244.5 L1972.7,1244.5 L1974.1,1244.5 L1975.5,1244.4 L1976.8,1244.4 L1978.2,1244.3 L1979.6,1244.3 L1980.9,1244.3 L1982.3,1244.2 L1983.7,1244.2" stroke="#0000a0" stroke-width="3.4"/>
<path d="M345.7,1313.7 L347.1,1313.7 L348.5,1313.7 L349.9,1313.8 L351.2,1313.8 L352.6,1313.8 L354.0,1313.8 L355.4,1313.8 L356.8,1313.9 L358.2,1313.9 L359.6,1313.9 L361.0,1313.9 L362.3,1313.9 L363.7,1313.9 L365.1,1313.9 L366.5,1313.9 L367.9,1314.0 L369.3,1314.0 L370.7,1314.0 L372.1,1314.0 L373.4,1314.0 L374.8,1314.0 L376.2,1314.0 L377.6,1314.0 L379.0,1314.0 L380.4,1314.0 L381.8,1314.0 L383.2,1314.0 L384.5,1314.0 L385.9,1314.0 L387.3,1313.9 L388.7,1313.9 L390.1,1313.9 L391.5,1313.9 L392.9,1313.9 L394.3,1313.9 L395.6,1313.9 L397.0,1313.9 L398.4,1313.9 L399.8,1313.8 L401.2,1313.8 L402.6,1313.8 L404.0,1313.8 L405.3,1313.8 L406.7,1313.7 L408.1,1313.7 L409.5,1313.7 L410.9,1313.7 L412.3,1313.7 L413.7,1313.6 L415.1,1313.6 L416.4,1313.6 L417.8,1313.5 L419.2,1313.5 L420.6,1313.5 L422.0,1313.5 L423.4,1313.4 L424.8,1313.4 L426.2,1313.4 L427.5,1313.3 L428.9,1313.3 L430.3,1313.3 L431.7,1313.2 L433.1,1313.2 L434.5,1313.2 L435.9,1313.1 L437.3,1313.1 L438.6,1313.0 L440.0,1313.0 L441.4,1313.0 L442.8,1312.9 L444.2,1312.9 L445.6,1312.8 L447.0,1312.8 L448.4,1312.8 L449.7,1312.7 L451.1,1312.7 L452.5,1312.6 L453.9,1312.6 L455.3,1312.5 L456.7,1312.5 L458.1,1312.4 L459.4,1312.4 L460.8,1312.3 L462.2,1312.3 L463.6,1312.2 L465.0,1312.2 L466.4,1312.1 L467.8,1312.1 L469.2,1312.0 L470.5,1312.0 L471.9,1311.9 L473.3,1311.9 L474.7,1311.8 L476.1,1311.7 L477.5,1311.7 L478.9,1311.6 L480.3,1311.6 L481.6,1311.5 L483.0,1311.4 L484.4,1311.4 L485.8,1311.3 L487.2,1311.3 L488.6,1311.2 L490.0,1311.1 L491.4,1311.1 L492.7,1311.0 L494.1,1311.0 L495.5,1310.9 L496.9,1310.8 L498.3,1310.8 L499.7,1310.7 L501.1,1310.6 L502.4,1310.6 L503.8,1310.5 L505.2,1310.4 L506.6,1310.4 L508.0,1310.3 L509.4,1310.2 L510.8,1310.2 L512.2,1310.1 L513.5,1310.0 L514.9,1310.0 L516.3,1309.9 L517.7,1309.8 L519.1,1309.8 L520.5,1309.7 L521.9,1309.6 L523.3,1309.5 L524.6,1309.5 L526.0,1309.4 L527.4,1309.3 L528.8,1309.3 L530.2,1309.2 L531.6,1309.1 L533.0,1309.0 L534.4,1309.0 L535.7,1308.9 L537.1,1308.8 L538.5,1308.7 L539.9,1308.7 L541.3,1308.6 L542.7,1308.5 L544.1,1308.4 L545.5,1308.4 L546.8,1308.3 L548.2,1308.2 L549.6,1308.1 L551.0,1308.1 L552.4,1308.0 L553.8,1307.9 L555.2,1307.8 L556.5,1307.8 L557.9,1307.7 L559.3,1307.6 L560.7,1307.5 L562.1,1307.4 L563.5,1307.4 L564.9,1307.3 L566.3,1307.2 L567.6,1307.1 L569.0,1307.0 L570.4,1306.9 L571.8,1306.8 L573.2,1306.8 L574.6,1306.7 L576.0,1306.6 L577.4,1306.5 L578.7,1306.4 L580.1,1306.3 L581.5,1306.2 L582.9,1306.1 L584.3,1305.9 L585.7,1305.8 L587.1,1305.7 L588.5,1305.6 L589.8,1305.5 L591.2,1305.3 L592.6,1305.2 L594.0,1305.1 L595.4,1304.9 L596.8,1304.8 L598.2,1304.6 L599.6,1304.5 L600.9,1304.3 L602.3,1304.2 L603.7,1304.0 L605.1,1303.8 L606.5,1303.7 L607.9,1303.5 L609.3,1303.3 L610.6,1303.1 L612.0,1302.9 L613.4,1302.7 L614.8,1302.5 L616.2,1302.3 L617.6,1302.1 L619.0,1301.9 L620.4,1301.6 L621.7,1301.4 L623.1,1301.2 L624.5,1300.9 L625.9,1300.7 L627.3,1300.4 L628.7,1300.1 L630.1,1299.9 L631.5,1299.6 L632.8,1299.3 L634.2,1299.0 L635.6,1298.7 L637.0,1298.4 L638.4,1298.1 L639.8,1297.7 L641.2,1297.4 L642.6,1297.1 L643.9,1296.7 L645.3,1296.3 L646.7,1296.0 L648.1,1295.6 L649.5,1295.1 L650.9,1294.7 L652.3,1294.3 L653.7,1293.8 L655.0,1293.3 L656.4,1292.8 L657.8,1292.2 L659.2,1291.7 L660.6,1291.1 L662.0,1290.4 L663.4,1289.8 L664.7,1289.1 L666.1,1288.3 L667.5,1287.6 L668.9,1286.8 L670.3,1286.0 L671.7,1285.1 L673.1,1284.1 L674.5,1283.2 L675.8,1282.2 L677.2,1281.1 L678.6,1280.0 L680.0,1278.8 L681.4,1277.6 L682.8,1276.3 L684.2,1274.9 L685.6,1273.5 L686.9,1272.0 L688.3,1270.5 L689.7,1268.9 L691.1,1267.1 L692.5,1265.4 L693.9,1263.5 L695.3,1261.5 L696.7,1259.4 L698.0,1257.3 L699.4,1255.0 L700.8,1252.6 L702.2,1250.1 L703.6,1247.5 L705.0,1244.8 L706.4,1242.0 L707.8,1239.1 L709.1,1236.0 L710.5,1232.8 L711.9,1229.6 L713.3,1226.1 L714.7,1222.6 L716.1,1219.0 L717.5,1215.2 L718.8,1211.3 L720.2,1207.2 L721.6,1203.1 L723.0,1198.8 L724.4,1194.3 L725.8,1189.7 L727.2,1185.0 L728.6,1180.2 L729.9,1175.2 L731.3,1170.0 L732.7,1164.7 L734.1,1159.3 L735.5,1153.7 L736.9,1148.0 L738.3,1142.1 L739.7,1136.0 L741.0,1129.8 L742.4,1123.4 L743.8,1116.9 L745.2,1110.2 L746.6,1103.4 L748.0,1096.4 L749.4,1089.2 L750.8,1081.9 L752.1,1074.4 L753.5,1066.7 L754.9,1058.9 L756.3,1050.9 L757.7,1042.7 L759.1,1034.3 L760.5,1025.7 L761.9,1017.0 L763.2,1008.0 L764.6,998.8 L766.0,989.4 L767.4,979.7 L768.8,969.9 L770.2,959.8 L771.6,949.4 L772.9,938.8 L774.3,927.9 L775.7,916.8 L777.1,905.4 L778.5,893.7 L779.9,881.8 L781.3,869.5 L782.7,857.0 L784.0,844.2 L785.4,831.1 L786.8,817.7 L788.2,804.1 L789.6,790.2 L791.0,776.0 L792.4,761.7 L793.8,747.0 L795.1,732.2 L796.5,717.2 L797.9,702.1 L799.3,686.8 L800.7,671.4 L802.1,656.0 L803.5,640.5 L804.9,625.0 L806.2,609.5 L807.6,594.0 L809.0,578.6 L810.4,563.3 L811.8,548.1 L813.2,533.1 L814.6,518.2 L815.9,503.4 L817.3,488.9 L818.7,474.6 L820.1,460.5 L821.5,446.6 L822.9,433.0 L824.3,419.5 L825.7,406.3 L827.0,393.4 L828.4,380.7 L829.8,368.2 L831.2,355.9 L832.6,344.0 L834.0,333.2 L835.4,324.0 L836.8,316.5 L838.1,310.6 L839.5,305.9 L840.9,302.2 L842.3,299.4 L843.7,297.2 L845.1,295.6 L846.5,294.5 L847.9,293.8 L849.2,293.7 L850.6,294.0 L852.0,294.9 L853.4,296.4 L854.8,298.6 L856.2,301.8 L857.6,305.9 L859.0,310.9 L860.3,316.7 L861.7,323.6 L863.1,331.5 L864.5,340.4 L865.9,350.3 L867.3,360.8 L868.7,371.7 L870.0,383.1 L871.4,394.7 L872.8,406.4 L874.2,418.2 L875.6,430.0 L877.0,441.7 L878.4,453.4 L879.8,465.1 L881.1,476.8 L882.5,488.4 L883.9,500.0 L885.3,511.6 L886.7,523.1 L888.1,534.5 L889.5,545.9 L890.9,557.2 L892.2,568.5 L893.6,579.7 L895.0,590.9 L896.4,601.9 L897.8,612.9 L899.2,623.9 L900.6,634.7 L902.0,645.5 L903.3,656.2 L904.7,666.8 L906.1,677.4 L907.5,687.8 L908.9,698.2 L910.3,708.5 L911.7,718.7 L913.1,728.8 L914.4,738.8 L915.8,748.7 L917.2,758.5 L918.6,768.1 L920.0,777.7 L921.4,787.1 L922.8,796.4 L924.1,805.6 L925.5,814.6 L926.9,823.5 L928.3,832.3 L929.7,841.0 L931.1,849.5 L932.5,857.8 L933.9,866.1 L935.2,874.1 L936.6,882.1 L938.0,889.9 L939.4,897.6 L940.8,905.1 L942.2,912.6 L943.6,919.8 L945.0,927.0 L946.3,934.0 L947.7,940.9 L949.1,947.6 L950.5,954.3 L951.9,960.8 L953.3,967.2 L954.7,973.4 L956.1,979.6 L957.4,985.6 L958.8,991.5 L960.2,997.3 L961.6,1003.0 L963.0,1008.5 L964.4,1014.0 L965.8,1019.4 L967.2,1024.6 L968.5,1029.7 L969.9,1034.8 L971.3,1039.7 L972.7,1044.6 L974.1,1049.3 L975.5,1054.0 L976.9,1058.5 L978.2,1063.0 L979.6,1067.3 L981.0,1071.6 L982.4,1075.8 L983.8,1079.9 L985.2,1083.9 L986.6,1087.9 L988.0,1091.7 L989.3,1095.5 L990.7,1099.2 L992.1,1102.8 L993.5,1106.4 L994.9,1109.9 L996.3,1113.3 L997.7,1116.7 L999.1,1120.0 L1000.4,1123.3 L1001.8,1126.5 L1003.2,1129.6 L1004.6,1132.7 L1006.0,1135.7 L1007.4,1138.7 L1008.8,1141.6 L1010.2,1144.4 L1011.5,1147.2 L1012.9,1150.0 L1014.3,1152.7 L1015.7,1155.4 L1017.1,1158.0 L1018.5,1160.6 L1019.9,1163.1 L1021.3,1165.6 L1022.6,1168.1 L1024.0,1170.5 L1025.4,1172.9 L1026.8,1175.2 L1028.2,1177.5 L1029.6,1179.7 L1031.0,1181.9 L1032.3,1184.1 L1033.7,1186.2 L1035.1,1188.3 L1036.5,1190.4 L1037.9,1192.4 L1039.3,1194.4 L1040.7,1196.4 L1042.1,1198.3 L1043.4,1200.2 L1044.8,1202.0 L1046.2,1203.8 L1047.6,1205.6 L1049.0,1207.4 L1050.4,1209.1 L1051.8,1210.8 L1053.2,1212.5 L1054.5,1214.1 L1055.9,1215.7 L1057.3,1217.3 L1058.7,1218.8 L1060.1,1220.3 L1061.5,1221.8 L1062.9,1223.2 L1064.3,1224.7 L1065.6,1226.0 L1067.0,1227.4 L1068.4,1228.7 L1069.8,1230.1 L1071.2,1231.3 L1072.6,1232.6 L1074.0,1233.8 L1075.3,1235.0 L1076.7,1236.2 L1078.1,1237.3 L1079.5,1238.4 L1080.9,1239.5 L1082.3,1240.6 L1083.7,1241.6 L1085.1,1242.6 L1086.4,1243.6 L1087.8,1244.6 L1089.2,1245.5 L1090.6,1246.4 L1092.0,1247.3 L1093.4,1248.1 L1094.8,1249.0 L1096.2,1249.8 L1097.5,1250.6 L1098.9,1251.3 L1100.3,1252.1 L1101.7,1252.8 L1103.1,1253.5 L1104.5,1254.1 L1105.9,1254.8 L1107.3,1255.4 L1108.6,1256.0 L1110.0,1256.6 L1111.4,1257.2 L1112.8,1257.7 L1114.2,1258.3 L1115.6,1258.8 L1117.0,1259.2 L1118.4,1259.7 L1119.7,1260.2 L1121.1,1260.6 L1122.5,1261.0 L1123.9,1261.4 L1125.3,1261.8 L1126.7,1262.2 L1128.1,1262.5 L1129.4,1262.9 L1130.8,1263.2 L1132.2,1263.5 L1133.6,1263.8 L1135.0,1264.0 L1136.4,1264.3 L1137.8,1264.5 L1139.2,1264.8 L1140.5,1265.0 L1141.9,1265.2 L1143.3,1265.4 L1144.7,1265.6 L1146.1,1265.7 L1147.5,1265.9 L1148.9,1266.0 L1150.3,1266.2 L1151.6,1266.3 L1153.0,1266.4 L1154.4,1266.5 L1155.8,1266.6 L1157.2,1266.7 L1158.6,1266.8 L1160.0,1266.8 L1161.4,1266.9 L1162.7,1266.9 L1164.1,1267.0 L1165.5,1267.0 L1166.9,1267.0 L1168.3,1267.0 L1169.7,1267.0 L1171.1,1267.0 L1172.5,1267.0 L1173.8,1267.0 L1175.2,1267.0 L1176.6,1267.0 L1178.0,1266.9 L1179.4,1266.9 L1180.8,1266.9 L1182.2,1266.8 L1183.5,1266.8 L1184.9,1266.7 L1186.3,1266.7 L1187.7,1266.6 L1189.1,1266.6 L1190.5,1266.5 L1191.9,1266.4 L1193.3,1266.4 L1194.6,1266.3 L1196.0,1266.2 L1197.4,1266.2 L1198.8,1266.1 L1200.2,1266.0 L1201.6,1266.0 L1203.0,1265.9 L1204.4,1265.8 L1205.7,1265.8 L1207.1,1265.7 L1208.5,1265.6 L1209.9,1265.6 L1211.3,1265.5 L1212.7,1265.4 L1214.1,1265.3 L1215.5,1265.3 L1216.8,1265.2 L1218.2,1265.1 L1219.6,1265.1 L1221.0,1265.0 L1222.4,1265.0 L1223.8,1264.9 L1225.2,1264.8 L1226.6,1264.8 L1227.9,1264.7 L1229.3,1264.6 L1230.7,1264.6 L1232.1,1264.5 L1233.5,1264.5 L1234.9,1264.4 L1236.3,1264.3 L1237.6,1264.3 L1239.0,1264.2 L1240.4,1264.1 L1241.8,1264.1 L1243.2,1264.0 L1244.6,1264.0 L1246.0,1263.9 L1247.4,1263.9 L1248.7,1263.8 L1250.1,1263.7 L1251.5,1263.7 L1252.9,1263.6 L1254.3,1263.6 L1255.7,1263.5 L1257.1,1263.5 L1258.5,1263.4 L1259.8,1263.4 L1261.2,1263.3 L1262.6,1263.2 L1264.0,1263.2 L1265.4,1263.1 L1266.8,1263.1 L1268.2,1263.0 L1269.6,1263.0 L1270.9,1262.9 L1272.3,1262.9 L1273.7,1262.8 L1275.1,1262.8 L1276.5,1262.7 L1277.9,1262.7 L1279.3,1262.6 L1280.7,1262.6 L1282.0,1262.5 L1283.4,1262.5 L1284.8,1262.4 L1286.2,1262.4 L1287.6,1262.3 L1289.0,1262.3 L1290.4,1262.2 L1291.7,1262.2 L1293.1,1262.1 L1294.5,1262.1 L1295.9,1262.0 L1297.3,1262.0 L1298.7,1261.9 L1300.1,1261.9 L1301.5,1261.9 L1302.8,1261.8 L1304.2,1261.8 L1305.6,1261.7 L1307.0,1261.7 L1308.4,1261.6 L1309.8,1261.6 L1311.2,1261.5 L1312.6,1261.5 L1313.9,1261.5 L1315.3,1261.4 L1316.7,1261.4 L1318.1,1261.3 L1319.5,1261.3 L1320.9,1261.2 L1322.3,1261.2 L1323.7,1261.2 L1325.0,1261.1 L1326.4,1261.1 L1327.8,1261.0 L1329.2,1261.0 L1330.6,1261.0 L1332.0,1260.9 L1333.4,1260.9 L1334.7,1260.8 L1336.1,1260.8 L1337.5,1260.8 L1338.9,1260.7 L1340.3,1260.7 L1341.7,1260.6 L1343.1,1260.6 L1344.5,1260.6 L1345.8,1260.5 L1347.2,1260.5 L1348.6,1260.5 L1350.0,1260.4 L1351.4,1260.4 L1352.8,1260.3 L1354.2,1260.3 L1355.6,1260.3 L1356.9,1260.2 L1358.3,1260.2 L1359.7,1260.2 L1361.1,1260.1 L1362.5,1260.1 L1363.9,1260.1 L1365.3,1260.0 L1366.7,1260.0 L1368.0,1260.0 L1369.4,1259.9 L1370.8,1259.9 L1372.2,1259.9 L1373.6,1259.8 L1375.0,1259.8 L1376.4,1259.7 L1377.8,1259.7 L1379.1,1259.7 L1380.5,1259.6 L1381.9,1259.6 L1383.3,1259.6 L1384.7,1259.5 L1386.1,1259.5 L1387.5,1259.5 L1388.8,1259.5 L1390.2,1259.4 L1391.6,1259.4 L1393.0,1259.4 L1394.4,1259.3 L1395.8,1259.3 L1397.2,1259.3 L1398.6,1259.2 L1399.9,1259.2 L1401.3,1259.2 L1402.7,1259.1 L1404.1,1259.1 L1405.5,1259.1 L1406.9,1259.0 L1408.3,1259.0 L1409.7,1259.0 L1411.0,1259.0 L1412.4,1258.9 L1413.8,1258.9 L1415.2,1258.9 L1416.6,1258.8 L1418.0,1258.8 L1419.4,1258.8 L1420.8,1258.8 L1422.1,1258.7 L1423.5,1258.7 L1424.9,1258.7 L1426.3,1258.6 L1427.7,1258.6 L1429.1,1258.6 L1430.5,1258.6 L1431.9,1258.5 L1433.2,1258.5 L1434.6,1258.5 L1436.0,1258.5 L1437.4,1258.4 L1438.8,1258.4 L1440.2,1258.4 L1441.6,1258.3 L1442.9,1258.3 L1444.3,1258.3 L1445.7,1258.3 L1447.1,1258.2 L1448.5,1258.2 L1449.9,1258.2 L1451.3,1258.2 L1452.7,1258.1 L1454.0,1258.1 L1455.4,1258.1 L1456.8,1258.1 L1458.2,1258.0 L1459.6,1258.0 L1461.0,1258.0 L1462.4,1258.0 L1463.8,1257.9 L1465.1,1257.9 L1466.5,1257.9 L1467.9,1257.9 L1469.3,1257.9 L1470.7,1257.8 L1472.1,1257.8 L1473.5,1257.8 L1474.9,1257.8 L1476.2,1257.7 L1477.6,1257.7 L1479.0,1257.7 L1480.4,1257.7 L1481.8,1257.7 L1483.2,1257.6 L1484.6,1257.6 L1486.0,1257.6 L1487.3,1257.6 L1488.7,1257.5 L1490.1,1257.5 L1491.5,1257.5 L1492.9,1257.5 L1494.3,1257.5 L1495.7,1257.4 L1497.0,1257.4 L1498.4,1257.4 L1499.8,1257.4 L1501.2,1257.4 L1502.6,1257.3 L1504.0,1257.3 L1505.4,1257.3 L1506.8,1257.3 L1508.1,1257.3 L1509.5,1257.2 L1510.9,1257.2 L1512.3,1257.2 L1513.7,1257.2 L1515.1,1257.2 L1516.5,1257.1 L1517.9,1257.1 L1519.2,1257.1 L1520.6,1257.1 L1522.0,1257.1 L1523.4,1257.1 L1524.8,1257.0 L1526.2,1257.0 L1527.6,1257.0 L1529.0,1257.0 L1530.3,1257.0 L1531.7,1257.0 L1533.1,1256.9 L1534.5,1256.9 L1535.9,1256.9 L1537.3,1256.9 L1538.7,1256.9 L1540.1,1256.9 L1541.4,1256.8 L1542.8,1256.8 L1544.2,1256.8 L1545.6,1256.8 L1547.0,1256.8 L1548.4,1256.8 L1549.8,1256.7 L1551.1,1256.7 L1552.5,1256.7 L1553.9,1256.7 L1555.3,1256.7 L1556.7,1256.7 L1558.1,1256.7 L1559.5,1256.6 L1560.9,1256.6 L1562.2,1256.6 L1563.6,1256.6 L1565.0,1256.6 L1566.4,1256.6 L1567.8,1256.6 L1569.2,1256.5 L1570.6,1256.5 L1572.0,1256.5 L1573.3,1256.5 L1574.7,1256.5 L1576.1,1256.5 L1577.5,1256.5 L1578.9,1256.4 L1580.3,1256.4 L1581.7,1256.4 L1583.1,1256.4 L1584.4,1256.4 L1585.8,1256.4 L1587.2,1256.4 L1588.6,1256.4 L1590.0,1256.3 L1591.4,1256.3 L1592.8,1256.3 L1594.2,1256.3 L1595.5,1256.3 L1596.9,1256.3 L1598.3,1256.3 L1599.7,1256.3 L1601.1,1256.2 L1602.5,1256.2 L1603.9,1256.2 L1605.2,1256.2 L1606.6,1256.2 L1608.0,1256.2 L1609.4,1256.2 L1610.8,1256.2 L1612.2,1256.2 L1613.6,1256.2 L1615.0,1256.1 L1616.3,1256.1 L1617.7,1256.1 L1619.1,1256.1 L1620.5,1256.1 L1621.9,1256.1 L1623.3,1256.1 L1624.7,1256.1 L1626.1,1256.1 L1627.4,1256.1 L1628.8,1256.0 L1630.2,1256.0 L1631.6,1256.0 L1633.0,1256.0 L1634.4,1256.0 L1635.8,1256.0 L1637.2,1256.0 L1638.5,1256.0 L1639.9,1256.0 L1641.3,1256.0 L1642.7,1256.0 L1644.1,1255.9 L1645.5,1255.9 L1646.9,1255.9 L1648.2,1255.9 L1649.6,1255.9 L1651.0,1255.9 L1652.4,1255.9 L1653.8,1255.9 L1655.2,1255.9 L1656.6,1255.9 L1658.0,1255.9 L1659.3,1255.9 L1660.7,1255.9 L1662.1,1255.8 L1663.5,1255.8 L1664.9,1255.8 L1666.3,1255.8 L1667.7,1255.8 L1669.1,1255.8 L1670.4,1255.8 L1671.8,1255.8 L1673.2,1255.8 L1674.6,1255.8 L1676.0,1255.8 L1677.4,1255.8 L1678.8,1255.8 L1680.2,1255.8 L1681.5,1255.8 L1682.9,1255.7 L1684.3,1255.7 L1685.7,1255.7 L1687.1,1255.7 L1688.5,1255.7 L1689.9,1255.7 L1691.3,1255.7 L1692.6,1255.7 L1694.0,1255.7 L1695.4,1255.7 L1696.8,1255.7 L1698.2,1255.7 L1699.6,1255.7 L1701.0,1255.7 L1702.3,1255.7 L1703.7,1255.7 L1705.1,1255.7 L1706.5,1255.7 L1707.9,1255.7 L1709.3,1255.6 L1710.7,1255.6 L1712.1,1255.6 L1713.4,1255.6 L1714.8,1255.6 L1716.2,1255.6 L1717.6,1255.6 L1719.0,1255.6 L1720.4,1255.6 L1721.8,1255.6 L1723.2,1255.6 L1724.5,1255.6 L1725.9,1255.6 L1727.3,1255.6 L1728.7,1255.6 L1730.1,1255.6 L1731.5,1255.6 L1732.9,1255.6 L1734.3,1255.6 L1735.6,1255.6 L1737.0,1255.6 L1738.4,1255.6 L1739.8,1255.6 L1741.2,1255.6 L1742.6,1255.6 L1744.0,1255.6 L1745.4,1255.6 L1746.7,1255.6 L1748.1,1255.6 L1749.5,1255.5 L1750.9,1255.5 L1752.3,1255.5 L1753.7,1255.5 L1755.1,1255.5 L1756.4,1255.5 L1757.8,1255.5 L1759.2,1255.5 L1760.6,1255.5 L1762.0,1255.5 L1763.4,1255.5 L1764.8,1255.5 L1766.2,1255.5 L1767.5,1255.5 L1768.9,1255.5 L1770.3,1255.5 L1771.7,1255.5 L1773.1,1255.5 L1774.5,1255.5 L1775.9,1255.5 L1777.3,1255.5 L1778.6,1255.5 L1780.0,1255.5 L1781.4,1255.5 L1782.8,1255.5 L1784.2,1255.5 L1785.6,1255.5 L1787.0,1255.5 L1788.4,1255.5 L1789.7,1255.5 L1791.1,1255.5 L1792.5,1255.5 L1793.9,1255.5 L1795.3,1255.5 L1796.7,1255.5 L1798.1,1255.5 L1799.5,1255.5 L1800.8,1255.5 L1802.2,1255.5 L1803.6,1255.5 L1805.0,1255.5 L1806.4,1255.5 L1807.8,1255.5 L1809.2,1255.5 L1810.5,1255.5 L1811.9,1255.5 L1813.3,1255.5 L1814.7,1255.5 L1816.1,1255.5 L1817.5,1255.5 L1818.9,1255.5 L1820.3,1255.5 L1821.6,1255.5 L1823.0,1255.5 L1824.4,1255.5 L1825.8,1255.5 L1827.2,1255.5 L1828.6,1255.5 L1830.0,1255.5 L1831.4,1255.5 L1832.7,1255.5 L1834.1,1255.5 L1835.5,1255.5 L1836.9,1255.5 L1838.3,1255.5 L1839.7,1255.5 L1841.1,1255.5 L1842.5,1255.5 L1843.8,1255.5 L1845.2,1255.5 L1846.6,1255.5 L1848.0,1255.5 L1849.4,1255.5 L1850.8,1255.5 L1852.2,1255.5 L1853.6,1255.5 L1854.9,1255.5 L1856.3,1255.5 L1857.7,1255.5 L1859.1,1255.5 L1860.5,1255.5 L1861.9,1255.5 L1863.3,1255.5 L1864.6,1255.5 L1866.0,1255.5 L1867.4,1255.5 L1868.8,1255.5 L1870.2,1255.5 L1871.6,1255.5 L1873.0,1255.5 L1874.4,1255.5 L1875.7,1255.5 L1877.1,1255.5 L1878.5,1255.5 L1879.9,1255.5 L1881.3,1255.5 L1882.7,1255.5 L1884.1,1255.5 L1885.5,1255.5 L1886.8,1255.5 L1888.2,1255.5 L1889.6,1255.5 L1891.0,1255.5 L1892.4,1255.5 L1893.8,1255.5 L1895.2,1255.5 L1896.6,1255.5 L1897.9,1255.5 L1899.3,1255.5 L1900.7,1255.5 L1902.1,1255.5 L1903.5,1255.5 L1904.9,1255.5 L1906.3,1255.5 L1907.6,1255.5 L1909.0,1255.5 L1910.4,1255.5 L1911.8,1255.5 L1913.2,1255.5 L1914.6,1255.5 L1916.0,1255.5 L1917.4,1255.5 L1918.7,1255.5 L1920.1,1255.5 L1921.5,1255.5 L1922.9,1255.6 L1924.3,1255.6 L1925.7,1255.6 L1927.1,1255.6 L1928.5,1255.6 L1929.8,1255.6 L1931.2,1255.6 L1932.6,1255.6 L1934.0,1255.6 L1935.4,1255.6 L1936.8,1255.6 L1938.2,1255.6 L1939.6,1255.6 L1940.9,1255.6 L1942.3,1255.6 L1943.7,1255.6 L1945.1,1255.6 L1946.5,1255.6 L1947.9,1255.6 L1949.3,1255.6 L1950.7,1255.6 L1952.0,1255.6 L1953.4,1255.6 L1954.8,1255.6 L1956.2,1255.6 L1957.6,1255.6 L1959.0,1255.6 L1960.4,1255.6 L1961.7,1255.6 L1963.1,1255.6 L1964.5,1255.6 L1965.9,1255.6 L1967.3,1255.6 L1968.7,1255.6 L1970.1,1255.6 L1971.5,1255.6 L1972.8,1255.6 L1974.2,1255.6 L1975.6,1255.6 L1977.0,1255.6 L1978.4,1255.6 L1979.8,1255.6 L1981.2,1255.6 L1982.6,1255.6 L1983.9,1255.6 L1985.3,1255.6 L1986.7,1255.6 L1988.1,1255.6 L1989.5,1255.6 L1990.9,1255.6 L1992.3,1255.6 L1993.7,1255.6 L1995.0,1255.6 L1996.4,1255.6 L1997.8,1255.6 L1999.2,1255.6 L2000.6,1255.6 L2002.0,1255.6 L2003.4,1255.6 L2004.8,1255.6 L2006.1,1255.6 L2007.5,1255.6 L2008.9,1255.6 L2010.3,1255.6" stroke="#00e0f0" stroke-width="3.4"/>
<path d="M345.7,1315.5 L347.1,1315.6 L348.5,1315.6 L349.9,1315.7 L351.2,1315.8 L352.6,1315.8 L354.0,1315.9 L355.4,1316.0 L356.8,1316.0 L358.2,1316.1 L359.6,1316.1 L361.0,1316.2 L362.3,1316.2 L363.7,1316.3 L365.1,1316.3 L366.5,1316.4 L367.9,1316.4 L369.3,1316.4 L370.7,1316.5 L372.1,1316.5 L373.4,1316.5 L374.8,1316.6 L376.2,1316.6 L377.6,1316.6 L379.0,1316.6 L380.4,1316.6 L381.8,1316.7 L383.2,1316.7 L384.5,1316.7 L385.9,1316.7 L387.3,1316.7 L388.7,1316.7 L390.1,1316.7 L391.5,1316.7 L392.9,1316.7 L394.3,1316.7 L395.6,1316.7 L397.0,1316.7 L398.4,1316.7 L399.8,1316.7 L401.2,1316.7 L402.6,1316.7 L404.0,1316.7 L405.3,1316.6 L406.7,1316.6 L408.1,1316.6 L409.5,1316.6 L410.9,1316.6 L412.3,1316.5 L413.7,1316.5 L415.1,1316.5 L416.4,1316.4 L417.8,1316.4 L419.2,1316.4 L420.6,1316.3 L422.0,1316.3 L423.4,1316.3 L424.8,1316.2 L426.2,1316.2 L427.5,1316.1 L428.9,1316.1 L430.3,1316.1 L431.7,1316.0 L433.1,1316.0 L434.5,1315.9 L435.9,1315.9 L437.3,1315.8 L438.6,1315.8 L440.0,1315.7 L441.4,1315.7 L442.8,1315.6 L444.2,1315.5 L445.6,1315.5 L447.0,1315.4 L448.4,1315.4 L449.7,1315.3 L451.1,1315.2 L452.5,1315.2 L453.9,1315.1 L455.3,1315.0 L456.7,1315.0 L458.1,1314.9 L459.4,1314.8 L460.8,1314.8 L462.2,1314.7 L463.6,1314.6 L465.0,1314.6 L466.4,1314.5 L467.8,1314.4 L469.2,1314.3 L470.5,1314.3 L471.9,1314.2 L473.3,1314.1 L474.7,1314.1 L476.1,1314.0 L477.5,1313.9 L478.9,1313.8 L480.3,1313.7 L481.6,1313.7 L483.0,1313.6 L484.4,1313.5 L485.8,1313.4 L487.2,1313.4 L488.6,1313.3 L490.0,1313.2 L491.4,1313.1 L492.7,1313.0 L494.1,1313.0 L495.5,1312.9 L496.9,1312.8 L498.3,1312.7 L499.7,1312.6 L501.1,1312.6 L502.4,1312.5 L503.8,1312.4 L505.2,1312.3 L506.6,1312.2 L508.0,1312.2 L509.4,1312.1 L510.8,1312.0 L512.2,1311.9 L513.5,1311.8 L514.9,1311.8 L516.3,1311.7 L517.7,1311.6 L519.1,1311.5 L520.5,1311.4 L521.9,1311.4 L523.3,1311.3 L524.6,1311.2 L526.0,1311.1 L527.4,1311.1 L528.8,1311.0 L530.2,1310.9 L531.6,1310.8 L533.0,1310.8 L534.4,1310.7 L535.7,1310.6 L537.1,1310.5 L538.5,1310.5 L539.9,1310.4 L541.3,1310.3 L542.7,1310.3 L544.1,1310.2 L545.5,1310.1 L546.8,1310.1 L548.2,1310.0 L549.6,1309.9 L551.0,1309.9 L552.4,1309.8 L553.8,1309.7 L555.2,1309.7 L556.5,1309.6 L557.9,1309.6 L559.3,1309.5 L560.7,1309.4 L562.1,1309.4 L563.5,1309.3 L564.9,1309.3 L566.3,1309.2 L567.6,1309.2 L569.0,1309.1 L570.4,1309.1 L571.8,1309.0 L573.2,1309.0 L574.6,1308.9 L576.0,1308.9 L577.4,1308.8 L578.7,1308.8 L580.1,1308.8 L581.5,1308.7 L582.9,1308.7 L584.3,1308.6 L585.7,1308.6 L587.1,1308.6 L588.5,1308.5 L589.8,1308.5 L591.2,1308.5 L592.6,1308.5 L594.0,1308.4 L595.4,1308.4 L596.8,1308.4 L598.2,1308.4 L599.6,1308.3 L600.9,1308.3 L602.3,1308.3 L603.7,1308.3 L605.1,1308.2 L606.5,1308.2 L607.9,1308.2 L609.3,1308.1 L610.6,1308.1 L612.0,1308.1 L613.4,1308.0 L614.8,1308.0 L616.2,1307.9 L617.6,1307.8 L619.0,1307.8 L620.4,1307.7 L621.7,1307.6 L623.1,1307.5 L624.5,1307.4 L625.9,1307.2 L627.3,1307.1 L628.7,1307.0 L630.1,1306.8 L631.5,1306.6 L632.8,1306.4 L634.2,1306.2 L635.6,1306.0 L637.0,1305.8 L638.4,1305.5 L639.8,1305.3 L641.2,1305.0 L642.6,1304.7 L643.9,1304.4 L645.3,1304.0 L646.7,1303.7 L648.1,1303.3 L649.5,1302.9 L650.9,1302.5 L652.3,1302.0 L653.7,1301.5 L655.0,1301.0 L656.4,1300.5 L657.8,1299.9 L659.2,1299.4 L660.6,1298.8 L662.0,1298.1 L663.4,1297.4 L664.7,1296.7 L666.1,1296.0 L667.5,1295.2 L668.9,1294.4 L670.3,1293.6 L671.7,1292.7 L673.1,1291.8 L674.5,1290.9 L675.8,1289.9 L677.2,1288.9 L678.6,1287.8 L680.0,1286.7 L681.4,1285.5 L682.8,1284.3 L684.2,1283.1 L685.6,1281.8 L686.9,1280.4 L688.3,1279.0 L689.7,1277.5 L691.1,1276.0 L692.5,1274.5 L693.9,1272.8 L695.3,1271.1 L696.7,1269.4 L698.0,1267.6 L699.4,1265.7 L700.8,1263.7 L702.2,1261.7 L703.6,1259.6 L705.0,1257.4 L706.4,1255.2 L707.8,1252.9 L709.1,1250.5 L710.5,1247.9 L711.9,1245.4 L713.3,1242.7 L714.7,1239.9 L716.1,1237.0 L717.5,1234.0 L718.8,1230.9 L720.2,1227.7 L721.6,1224.4 L723.0,1221.0 L724.4,1217.5 L725.8,1213.9 L727.2,1210.2 L728.6,1206.3 L729.9,1202.4 L731.3,1198.3 L732.7,1194.1 L734.1,1189.8 L735.5,1185.4 L736.9,1180.8 L738.3,1176.2 L739.7,1171.4 L741.0,1166.5 L742.4,1161.5 L743.8,1156.3 L745.2,1151.0 L746.6,1145.6 L748.0,1140.0 L749.4,1134.3 L750.8,1128.5 L752.1,1122.5 L753.5,1116.4 L754.9,1110.1 L756.3,1103.7 L757.7,1097.1 L759.1,1090.3 L760.5,1083.4 L761.9,1076.2 L763.2,1068.9 L764.6,1061.5 L766.0,1053.8 L767.4,1045.9 L768.8,1037.8 L770.2,1029.5 L771.6,1021.0 L772.9,1012.3 L774.3,1003.3 L775.7,994.1 L777.1,984.6 L778.5,974.9 L779.9,965.0 L781.3,954.8 L782.7,944.3 L784.0,933.7 L785.4,922.7 L786.8,911.6 L788.2,900.2 L789.6,888.6 L791.0,876.8 L792.4,864.9 L793.8,852.8 L795.1,840.5 L796.5,828.1 L797.9,815.6 L799.3,802.9 L800.7,790.1 L802.1,777.1 L803.5,763.9 L804.9,750.6 L806.2,737.2 L807.6,723.5 L809.0,709.7 L810.4,695.7 L811.8,681.6 L813.2,667.2 L814.6,652.7 L815.9,638.0 L817.3,623.1 L818.7,608.1 L820.1,592.8 L821.5,577.3 L822.9,561.7 L824.3,545.8 L825.7,529.7 L827.0,513.4 L828.4,496.9 L829.8,480.2 L831.2,463.3 L832.6,446.2 L834.0,428.9 L835.4,412.7 L836.8,398.3 L838.1,386.0 L839.5,375.6 L840.9,366.7 L842.3,359.0 L843.7,352.4 L845.1,346.5 L846.5,341.3 L847.9,336.7 L849.2,332.6 L850.6,329.3 L852.0,326.8 L853.4,325.5 L854.8,325.5 L856.2,326.8 L857.6,329.3 L859.0,332.7 L860.3,336.8 L861.7,341.4 L863.1,346.5 L864.5,352.2 L865.9,358.5 L867.3,365.5 L868.7,373.3 L870.0,382.0 L871.4,391.8 L872.8,402.5 L874.2,414.2 L875.6,426.6 L877.0,439.4 L878.4,452.0 L879.8,464.3 L881.1,476.4 L882.5,488.2 L883.9,499.8 L885.3,511.3 L886.7,522.7 L888.1,534.0 L889.5,545.2 L890.9,556.4 L892.2,567.6 L893.6,578.9 L895.0,590.2 L896.4,601.6 L897.8,613.0 L899.2,624.5 L900.6,635.9 L902.0,647.3 L903.3,658.8 L904.7,670.2 L906.1,681.5 L907.5,692.8 L908.9,704.1 L910.3,715.2 L911.7,726.3 L913.1,737.3 L914.4,748.2 L915.8,759.0 L917.2,769.7 L918.6,780.3 L920.0,790.7 L921.4,801.0 L922.8,811.2 L924.1,821.2 L925.5,831.1 L926.9,840.8 L928.3,850.4 L929.7,859.9 L931.1,869.1 L932.5,878.2 L933.9,887.2 L935.2,895.9 L936.6,904.5 L938.0,912.9 L939.4,921.2 L940.8,929.2 L942.2,937.1 L943.6,944.8 L945.0,952.3 L946.3,959.7 L947.7,966.9 L949.1,973.9 L950.5,980.8 L951.9,987.5 L953.3,994.0 L954.7,1000.4 L956.1,1006.6 L957.4,1012.7 L958.8,1018.6 L960.2,1024.4 L961.6,1030.1 L963.0,1035.6 L964.4,1041.0 L965.8,1046.3 L967.2,1051.4 L968.5,1056.4 L969.9,1061.3 L971.3,1066.1 L972.7,1070.8 L974.1,1075.4 L975.5,1079.8 L976.9,1084.2 L978.2,1088.4 L979.6,1092.6 L981.0,1096.7 L982.4,1100.7 L983.8,1104.6 L985.2,1108.4 L986.6,1112.2 L988.0,1115.9 L989.3,1119.5 L990.7,1123.0 L992.1,1126.5 L993.5,1129.9 L994.9,1133.2 L996.3,1136.5 L997.7,1139.7 L999.1,1142.9 L1000.4,1146.0 L1001.8,1149.1 L1003.2,1152.1 L1004.6,1155.0 L1006.0,1157.9 L1007.4,1160.7 L1008.8,1163.5 L1010.2,1166.2 L1011.5,1168.9 L1012.9,1171.6 L1014.3,1174.1 L1015.7,1176.7 L1017.1,1179.2 L1018.5,1181.6 L1019.9,1184.0 L1021.3,1186.4 L1022.6,1188.7 L1024.0,1190.9 L1025.4,1193.2 L1026.8,1195.3 L1028.2,1197.5 L1029.6,1199.6 L1031.0,1201.6 L1032.3,1203.7 L1033.7,1205.6 L1035.1,1207.6 L1036.5,1209.5 L1037.9,1211.4 L1039.3,1213.2 L1040.7,1215.0 L1042.1,1216.8 L1043.4,1218.5 L1044.8,1220.2 L1046.2,1221.8 L1047.6,1223.5 L1049.0,1225.1 L1050.4,1226.6 L1051.8,1228.1 L1053.2,1229.6 L1054.5,1231.1 L1055.9,1232.6 L1057.3,1234.0 L1058.7,1235.3 L1060.1,1236.7 L1061.5,1238.0 L1062.9,1239.3 L1064.3,1240.6 L1065.6,1241.8 L1067.0,1243.1 L1068.4,1244.2 L1069.8,1245.4 L1071.2,1246.6 L1072.6,1247.7 L1074.0,1248.8 L1075.3,1249.8 L1076.7,1250.9 L1078.1,1251.9 L1079.5,1252.9 L1080.9,1253.9 L1082.3,1254.8 L1083.7,1255.8 L1085.1,1256.7 L1086.4,1257.6 L1087.8,1258.4 L1089.2,1259.3 L1090.6,1260.1 L1092.0,1260.9 L1093.4,1261.7 L1094.8,1262.5 L1096.2,1263.3 L1097.5,1264.0 L1098.9,1264.7 L1100.3,1265.4 L1101.7,1266.1 L1103.1,1266.8 L1104.5,1267.4 L1105.9,1268.0 L1107.3,1268.7 L1108.6,1269.3 L1110.0,1269.9 L1111.4,1270.4 L1112.8,1271.0 L1114.2,1271.5 L1115.6,1272.1 L1117.0,1272.6 L1118.4,1273.1 L1119.7,1273.6 L1121.1,1274.0 L1122.5,1274.5 L1123.9,1275.0 L1125.3,1275.4 L1126.7,1275.8 L1128.1,1276.2 L1129.4,1276.7 L1130.8,1277.0 L1132.2,1277.4 L1133.6,1277.8 L1135.0,1278.2 L1136.4,1278.5 L1137.8,1278.9 L1139.2,1279.2 L1140.5,1279.5 L1141.9,1279.8 L1143.3,1280.1 L1144.7,1280.4 L1146.1,1280.7 L1147.5,1281.0 L1148.9,1281.3 L1150.3,1281.5 L1151.6,1281.8 L1153.0,1282.0 L1154.4,1282.3 L1155.8,1282.5 L1157.2,1282.8 L1158.6,1283.0 L1160.0,1283.2 L1161.4,1283.4 L1162.7,1283.6 L1164.1,1283.8 L1165.5,1284.0 L1166.9,1284.2 L1168.3,1284.3 L1169.7,1284.5 L1171.1,1284.7 L1172.5,1284.8 L1173.8,1285.0 L1175.2,1285.1 L1176.6,1285.2 L1178.0,1285.4 L1179.4,1285.5 L1180.8,1285.6 L1182.2,1285.7 L1183.5,1285.8 L1184.9,1285.9 L1186.3,1286.0 L1187.7,1286.1 L1189.1,1286.2 L1190.5,1286.3 L1191.9,1286.4 L1193.3,1286.5 L1194.6,1286.5 L1196.0,1286.6 L1197.4,1286.7 L1198.8,1286.7 L1200.2,1286.8 L1201.6,1286.8 L1203.0,1286.9 L1204.4,1286.9 L1205.7,1287.0 L1207.1,1287.0 L1208.5,1287.0 L1209.9,1287.1 L1211.3,1287.1 L1212.7,1287.1 L1214.1,1287.1 L1215.5,1287.2 L1216.8,1287.2 L1218.2,1287.2 L1219.6,1287.2 L1221.0,1287.2 L1222.4,1287.2 L1223.8,1287.2 L1225.2,1287.2 L1226.6,1287.2 L1227.9,1287.2 L1229.3,1287.2 L1230.7,1287.2 L1232.1,1287.2 L1233.5,1287.2 L1234.9,1287.2 L1236.3,1287.1 L1237.6,1287.1 L1239.0,1287.1 L1240.4,1287.1 L1241.8,1287.1 L1243.2,1287.1 L1244.6,1287.0 L1246.0,1287.0 L1247.4,1287.0 L1248.7,1287.0 L1250.1,1287.0 L1251.5,1286.9 L1252.9,1286.9 L1254.3,1286.9 L1255.7,1286.9 L1257.1,1286.9 L1258.5,1286.8 L1259.8,1286.8 L1261.2,1286.8 L1262.6,1286.8 L1264.0,1286.8 L1265.4,1286.8 L1266.8,1286.7 L1268.2,1286.7 L1269.6,1286.7 L1270.9,1286.7 L1272.3,1286.7 L1273.7,1286.7 L1275.1,1286.7 L1276.5,1286.7 L1277.9,1286.7 L1279.3,1286.7 L1280.7,1286.7 L1282.0,1286.7 L1283.4,1286.7 L1284.8,1286.7 L1286.2,1286.7 L1287.6,1286.7 L1289.0,1286.7 L1290.4,1286.7 L1291.7,1286.7 L1293.1,1286.7 L1294.5,1286.8 L1295.9,1286.8 L1297.3,1286.8 L1298.7,1286.8 L1300.1,1286.8 L1301.5,1286.8 L1302.8,1286.8 L1304.2,1286.8 L1305.6,1286.9 L1307.0,1286.9 L1308.4,1286.9 L1309.8,1286.9 L1311.2,1286.9 L1312.6,1286.9 L1313.9,1286.9 L1315.3,1286.9 L1316.7,1286.9 L1318.1,1286.9 L1319.5,1286.9 L1320.9,1286.9 L1322.3,1286.9 L1323.7,1286.9 L1325.0,1286.9 L1326.4,1286.9 L1327.8,1286.9 L1329.2,1286.9 L1330.6,1286.9 L1332.0,1286.8 L1333.4,1286.8 L1334.7,1286.8 L1336.1,1286.8 L1337.5,1286.7 L1338.9,1286.7 L1340.3,1286.7 L1341.7,1286.6 L1343.1,1286.6 L1344.5,1286.5 L1345.8,1286.5 L1347.2,1286.4 L1348.6,1286.3 L1350.0,1286.3 L1351.4,1286.2 L1352.8,1286.1 L1354.2,1286.0 L1355.6,1285.9 L1356.9,1285.8 L1358.3,1285.7 L1359.7,1285.6 L1361.1,1285.5 L1362.5,1285.4 L1363.9,1285.3 L1365.3,1285.2 L1366.7,1285.0 L1368.0,1284.9 L1369.4,1284.7 L1370.8,1284.6 L1372.2,1284.4 L1373.6,1284.3 L1375.0,1284.1 L1376.4,1283.9 L1377.8,1283.7 L1379.1,1283.5 L1380.5,1283.3 L1381.9,1283.1 L1383.3,1282.9 L1384.7,1282.7 L1386.1,1282.5 L1387.5,1282.2 L1388.8,1282.0 L1390.2,1281.7 L1391.6,1281.5 L1393.0,1281.2 L1394.4,1280.9 L1395.8,1280.7 L1397.2,1280.4 L1398.6,1280.1 L1399.9,1279.9 L1401.3,1279.6 L1402.7,1279.3 L1404.1,1279.1 L1405.5,1278.8 L1406.9,1278.5 L1408.3,1278.3 L1409.7,1278.0 L1411.0,1277.8 L1412.4,1277.6 L1413.8,1277.3 L1415.2,1277.1 L1416.6,1276.9 L1418.0,1276.7 L1419.4,1276.5 L1420.8,1276.4 L1422.1,1276.2 L1423.5,1276.1 L1424.9,1276.0 L1426.3,1275.8 L1427.7,1275.8 L1429.1,1275.7 L1430.5,1275.6 L1431.9,1275.6 L1433.2,1275.6 L1434.6,1275.6 L1436.0,1275.6 L1437.4,1275.7 L1438.8,1275.8 L1440.2,1275.9 L1441.6,1276.0 L1442.9,1276.2 L1444.3,1276.3 L1445.7,1276.5 L1447.1,1276.8 L1448.5,1277.0 L1449.9,1277.3 L1451.3,1277.5 L1452.7,1277.8 L1454.0,1278.1 L1455.4,1278.4 L1456.8,1278.8 L1458.2,1279.1 L1459.6,1279.4 L1461.0,1279.8 L1462.4,1280.1 L1463.8,1280.5 L1465.1,1280.8 L1466.5,1281.2 L1467.9,1281.5 L1469.3,1281.9 L1470.7,1282.2 L1472.1,1282.5 L1473.5,1282.9 L1474.9,1283.2 L1476.2,1283.5 L1477.6,1283.8 L1479.0,1284.1 L1480.4,1284.3 L1481.8,1284.6 L1483.2,1284.8 L1484.6,1285.0 L1486.0,1285.2 L1487.3,1285.4 L1488.7,1285.5 L1490.1,1285.7 L1491.5,1285.8 L1492.9,1285.9 L1494.3,1285.9 L1495.7,1286.0 L1497.0,1286.0 L1498.4,1286.1 L1499.8,1286.1 L1501.2,1286.1 L1502.6,1286.1 L1504.0,1286.1 L1505.4,1286.1 L1506.8,1286.1 L1508.1,1286.1 L1509.5,1286.1 L1510.9,1286.0 L1512.3,1286.0 L1513.7,1286.0 L1515.1,1286.0 L1516.5,1286.0 L1517.9,1286.0 L1519.2,1285.9 L1520.6,1285.9 L1522.0,1285.9 L1523.4,1285.9 L1524.8,1285.9 L1526.2,1285.9 L1527.6,1285.8 L1529.0,1285.8 L1530.3,1285.8 L1531.7,1285.8 L1533.1,1285.8 L1534.5,1285.8 L1535.9,1285.8 L1537.3,1285.8 L1538.7,1285.8 L1540.1,1285.7 L1541.4,1285.7 L1542.8,1285.7 L1544.2,1285.7 L1545.6,1285.7 L1547.0,1285.7 L1548.4,1285.7 L1549.8,1285.7 L1551.1,1285.7 L1552.5,1285.7 L1553.9,1285.7 L1555.3,1285.7 L1556.7,1285.7 L1558.1,1285.6 L1559.5,1285.6 L1560.9,1285.6 L1562.2,1285.6 L1563.6,1285.6 L1565.0,1285.6 L1566.4,1285.6 L1567.8,1285.6 L1569.2,1285.6 L1570.6,1285.6 L1572.0,1285.6 L1573.3,1285.6 L1574.7,1285.6 L1576.1,1285.6 L1577.5,1285.6 L1578.9,1285.6 L1580.3,1285.6 L1581.7,1285.6 L1583.1,1285.6 L1584.4,1285.6 L1585.8,1285.6 L1587.2,1285.6 L1588.6,1285.6 L1590.0,1285.6 L1591.4,1285.6 L1592.8,1285.6 L1594.2,1285.6 L1595.5,1285.6 L1596.9,1285.6 L1598.3,1285.6 L1599.7,1285.6 L1601.1,1285.6 L1602.5,1285.6 L1603.9,1285.6 L1605.2,1285.6 L1606.6,1285.7 L1608.0,1285.7 L1609.4,1285.7 L1610.8,1285.7 L1612.2,1285.7 L1613.6,1285.7 L1615.0,1285.7 L1616.3,1285.7 L1617.7,1285.7 L1619.1,1285.7 L1620.5,1285.7 L1621.9,1285.7 L1623.3,1285.7 L1624.7,1285.7 L1626.1,1285.7 L1627.4,1285.8 L1628.8,1285.8 L1630.2,1285.8 L1631.6,1285.8 L1633.0,1285.8 L1634.4,1285.8 L1635.8,1285.8 L1637.2,1285.8 L1638.5,1285.8 L1639.9,1285.8 L1641.3,1285.8 L1642.7,1285.9 L1644.1,1285.9 L1645.5,1285.9 L1646.9,1285.9 L1648.2,1285.9 L1649.6,1285.9 L1651.0,1285.9 L1652.4,1285.9 L1653.8,1285.9 L1655.2,1285.9 L1656.6,1286.0 L1658.0,1286.0 L1659.3,1286.0 L1660.7,1286.0 L1662.1,1286.0 L1663.5,1286.0 L1664.9,1286.0 L1666.3,1286.0 L1667.7,1286.1 L1669.1,1286.1 L1670.4,1286.1 L1671.8,1286.1 L1673.2,1286.1 L1674.6,1286.1 L1676.0,1286.1 L1677.4,1286.1 L1678.8,1286.1 L1680.2,1286.2 L1681.5,1286.2 L1682.9,1286.2 L1684.3,1286.2 L1685.7,1286.2 L1687.1,1286.2 L1688.5,1286.2 L1689.9,1286.3 L1691.3,1286.3 L1692.6,1286.3 L1694.0,1286.3 L1695.4,1286.3 L1696.8,1286.3 L1698.2,1286.3 L1699.6,1286.3 L1701.0,1286.4 L1702.3,1286.4 L1703.7,1286.4 L1705.1,1286.4 L1706.5,1286.4 L1707.9,1286.4 L1709.3,1286.4 L1710.7,1286.5 L1712.1,1286.5 L1713.4,1286.5 L1714.8,1286.5 L1716.2,1286.5 L1717.6,1286.5 L1719.0,1286.5 L1720.4,1286.5 L1721.8,1286.6 L1723.2,1286.6 L1724.5,1286.6 L1725.9,1286.6 L1727.3,1286.6 L1728.7,1286.6 L1730.1,1286.6 L1731.5,1286.6 L1732.9,1286.7 L1734.3,1286.7 L1735.6,1286.7 L1737.0,1286.7 L1738.4,1286.7 L1739.8,1286.7 L1741.2,1286.7 L1742.6,1286.7 L1744.0,1286.8 L1745.4,1286.8 L1746.7,1286.8 L1748.1,1286.8 L1749.5,1286.8 L1750.9,1286.8 L1752.3,1286.8 L1753.7,1286.8 L1755.1,1286.9 L1756.4,1286.9 L1757.8,1286.9 L1759.2,1286.9 L1760.6,1286.9 L1762.0,1286.9 L1763.4,1286.9 L1764.8,1286.9 L1766.2,1286.9 L1767.5,1287.0 L1768.9,1287.0 L1770.3,1287.0 L1771.7,1287.0 L1773.1,1287.0 L1774.5,1287.0 L1775.9,1287.0 L1777.3,1287.0 L1778.6,1287.0 L1780.0,1287.0 L1781.4,1287.0 L1782.8,1287.1 L1784.2,1287.1 L1785.6,1287.1 L1787.0,1287.1 L1788.4,1287.1 L1789.7,1287.1 L1791.1,1287.1 L1792.5,1287.1 L1793.9,1287.1 L1795.3,1287.1 L1796.7,1287.1 L1798.1,1287.1 L1799.5,1287.1 L1800.8,1287.1 L1802.2,1287.2 L1803.6,1287.2 L1805.0,1287.2 L1806.4,1287.2 L1807.8,1287.2 L1809.2,1287.2 L1810.5,1287.2 L1811.9,1287.2 L1813.3,1287.2 L1814.7,1287.2 L1816.1,1287.2 L1817.5,1287.2 L1818.9,1287.2 L1820.3,1287.2 L1821.6,1287.2 L1823.0,1287.2 L1824.4,1287.2 L1825.8,1287.2 L1827.2,1287.2 L1828.6,1287.2 L1830.0,1287.2 L1831.4,1287.2 L1832.7,1287.2 L1834.1,1287.2 L1835.5,1287.2 L1836.9,1287.2 L1838.3,1287.2 L1839.7,1287.2 L1841.1,1287.2 L1842.5,1287.2 L1843.8,1287.2 L1845.2,1287.2 L1846.6,1287.2 L1848.0,1287.2 L1849.4,1287.2 L1850.8,1287.2 L1852.2,1287.2 L1853.6,1287.2 L1854.9,1287.2 L1856.3,1287.2 L1857.7,1287.2 L1859.1,1287.2 L1860.5,1287.2 L1861.9,1287.2 L1863.3,1287.1 L1864.6,1287.1 L1866.0,1287.1 L1867.4,1287.1 L1868.8,1287.1 L1870.2,1287.1 L1871.6,1287.1 L1873.0,1287.1 L1874.4,1287.1 L1875.7,1287.1 L1877.1,1287.1 L1878.5,1287.0 L1879.9,1287.0 L1881.3,1287.0 L1882.7,1287.0 L1884.1,1287.0 L1885.5,1287.0 L1886.8,1287.0 L1888.2,1287.0 L1889.6,1286.9 L1891.0,1286.9 L1892.4,1286.9 L1893.8,1286.9 L1895.2,1286.9 L1896.6,1286.9 L1897.9,1286.8 L1899.3,1286.8 L1900.7,1286.8 L1902.1,1286.8 L1903.5,1286.8 L1904.9,1286.8 L1906.3,1286.7 L1907.6,1286.7 L1909.0,1286.7 L1910.4,1286.7 L1911.8,1286.7 L1913.2,1286.6 L1914.6,1286.6 L1916.0,1286.6 L1917.4,1286.6 L1918.7,1286.5 L1920.1,1286.5 L1921.5,1286.5 L1922.9,1286.5 L1924.3,1286.4 L1925.7,1286.4 L1927.1,1286.4 L1928.5,1286.4 L1929.8,1286.3 L1931.2,1286.3 L1932.6,1286.3 L1934.0,1286.2 L1935.4,1286.2 L1936.8,1286.2 L1938.2,1286.2 L1939.6,1286.1 L1940.9,1286.1 L1942.3,1286.1 L1943.7,1286.0 L1945.1,1286.0 L1946.5,1286.0 L1947.9,1285.9 L1949.3,1285.9 L1950.7,1285.8 L1952.0,1285.8 L1953.4,1285.8 L1954.8,1285.7 L1956.2,1285.7 L1957.6,1285.7 L1959.0,1285.6 L1960.4,1285.6 L1961.7,1285.5 L1963.1,1285.5 L1964.5,1285.5 L1965.9,1285.4 L1967.3,1285.4 L1968.7,1285.3 L1970.1,1285.3 L1971.5,1285.2 L1972.8,1285.2 L1974.2,1285.1 L1975.6,1285.1 L1977.0,1285.1 L1978.4,1285.0 L1979.8,1285.0 L1981.2,1284.9 L1982.6,1284.9 L1983.9,1284.8 L1985.3,1284.8 L1986.7,1284.7 L1988.1,1284.7 L1989.5,1284.6 L1990.9,1284.5 L1992.3,1284.5 L1993.7,1284.4 L1995.0,1284.4 L1996.4,1284.3 L1997.8,1284.3 L1999.2,1284.2 L2000.6,1284.2 L2002.0,1284.1 L2003.4,1284.0 L2004.8,1284.0 L2006.1,1283.9 L2007.5,1283.9 L2008.9,1283.8 L2010.3,1283.7" stroke="#ff00ff" stroke-width="3.4"/>
<path d="M345.7,1314.8 L347.1,1314.8 L348.5,1314.9 L349.9,1314.9 L351.2,1315.0 L352.6,1315.0 L354.0,1315.1 L355.4,1315.1 L356.8,1315.1 L358.2,1315.2 L359.6,1315.2 L361.0,1315.3 L362.3,1315.3 L363.7,1315.3 L365.1,1315.3 L366.5,1315.4 L367.9,1315.4 L369.3,1315.4 L370.7,1315.4 L372.1,1315.4 L373.4,1315.5 L374.8,1315.5 L376.2,1315.5 L377.6,1315.5 L379.0,1315.5 L380.4,1315.5 L381.8,1315.5 L383.2,1315.5 L384.5,1315.5 L385.9,1315.5 L387.3,1315.5 L388.7,1315.5 L390.1,1315.5 L391.5,1315.5 L392.9,1315.5 L394.3,1315.5 L395.6,1315.5 L397.0,1315.4 L398.4,1315.4 L399.8,1315.4 L401.2,1315.4 L402.6,1315.4 L404.0,1315.3 L405.3,1315.3 L406.7,1315.3 L408.1,1315.3 L409.5,1315.2 L410.9,1315.2 L412.3,1315.2 L413.7,1315.2 L415.1,1315.1 L416.4,1315.1 L417.8,1315.1 L419.2,1315.0 L420.6,1315.0 L422.0,1314.9 L423.4,1314.9 L424.8,1314.9 L426.2,1314.8 L427.5,1314.8 L428.9,1314.7 L430.3,1314.7 L431.7,1314.6 L433.1,1314.6 L434.5,1314.5 L435.9,1314.5 L437.3,1314.4 L438.6,1314.4 L440.0,1314.3 L441.4,1314.3 L442.8,1314.2 L444.2,1314.2 L445.6,1314.1 L447.0,1314.1 L448.4,1314.0 L449.7,1313.9 L451.1,1313.9 L452.5,1313.8 L453.9,1313.8 L455.3,1313.7 L456.7,1313.6 L458.1,1313.6 L459.4,1313.5 L460.8,1313.4 L462.2,1313.4 L463.6,1313.3 L465.0,1313.2 L466.4,1313.2 L467.8,1313.1 L469.2,1313.0 L470.5,1313.0 L471.9,1312.9 L473.3,1312.8 L474.7,1312.8 L476.1,1312.7 L477.5,1312.6 L478.9,1312.6 L480.3,1312.5 L481.6,1312.4 L483.0,1312.3 L484.4,1312.3 L485.8,1312.2 L487.2,1312.1 L488.6,1312.0 L490.0,1312.0 L491.4,1311.9 L492.7,1311.8 L494.1,1311.8 L495.5,1311.7 L496.9,1311.6 L498.3,1311.5 L499.7,1311.5 L501.1,1311.4 L502.4,1311.3 L503.8,1311.2 L505.2,1311.2 L506.6,1311.1 L508.0,1311.0 L509.4,1310.9 L510.8,1310.9 L512.2,1310.8 L513.5,1310.7 L514.9,1310.6 L516.3,1310.6 L517.7,1310.5 L519.1,1310.4 L520.5,1310.3 L521.9,1310.3 L523.3,1310.2 L524.6,1310.1 L526.0,1310.1 L527.4,1310.0 L528.8,1309.9 L530.2,1309.8 L531.6,1309.8 L533.0,1309.7 L534.4,1309.6 L535.7,1309.6 L537.1,1309.5 L538.5,1309.4 L539.9,1309.4 L541.3,1309.3 L542.7,1309.2 L544.1,1309.2 L545.5,1309.1 L546.8,1309.0 L548.2,1309.0 L549.6,1308.9 L551.0,1308.9 L552.4,1308.8 L553.8,1308.7 L555.2,1308.7 L556.5,1308.6 L557.9,1308.6 L559.3,1308.5 L560.7,1308.4 L562.1,1308.4 L563.5,1308.3 L564.9,1308.3 L566.3,1308.2 L567.6,1308.2 L569.0,1308.1 L570.4,1308.1 L571.8,1308.0 L573.2,1308.0 L574.6,1307.9 L576.0,1307.9 L577.4,1307.8 L578.7,1307.8 L580.1,1307.7 L581.5,1307.7 L582.9,1307.7 L584.3,1307.6 L585.7,1307.6 L587.1,1307.5 L588.5,1307.5 L589.8,1307.5 L591.2,1307.4 L592.6,1307.4 L594.0,1307.4 L595.4,1307.3 L596.8,1307.3 L598.2,1307.3 L599.6,1307.3 L600.9,1307.2 L602.3,1307.2 L603.7,1307.2 L605.1,1307.1 L606.5,1307.1 L607.9,1307.1 L609.3,1307.0 L610.6,1307.0 L612.0,1306.9 L613.4,1306.9 L614.8,1306.8 L616.2,1306.7 L617.6,1306.7 L619.0,1306.6 L620.4,1306.5 L621.7,1306.4 L623.1,1306.3 L624.5,1306.2 L625.9,1306.0 L627.3,1305.9 L628.7,1305.8 L630.1,1305.6 L631.5,1305.4 L632.8,1305.2 L634.2,1305.0 L635.6,1304.8 L637.0,1304.6 L638.4,1304.3 L639.8,1304.1 L641.2,1303.8 L642.6,1303.5 L643.9,1303.2 L645.3,1302.8 L646.7,1302.5 L648.1,1302.1 L649.5,1301.7 L650.9,1301.3 L652.3,1300.9 L653.7,1300.4 L655.0,1299.9 L656.4,1299.4 L657.8,1298.9 L659.2,1298.3 L660.6,1297.8 L662.0,1297.1 L663.4,1296.5 L664.7,1295.8 L666.1,1295.1 L667.5,1294.4 L668.9,1293.7 L670.3,1292.9 L671.7,1292.1 L673.1,1291.2 L674.5,1290.3 L675.8,1289.4 L677.2,1288.5 L678.6,1287.5 L680.0,1286.5 L681.4,1285.4 L682.8,1284.3 L684.2,1283.2 L685.6,1282.0 L686.9,1280.8 L688.3,1279.5 L689.7,1278.2 L691.1,1276.8 L692.5,1275.4 L693.9,1274.0 L695.3,1272.5 L696.7,1271.0 L698.0,1269.4 L699.4,1267.8 L700.8,1266.1 L702.2,1264.3 L703.6,1262.5 L705.0,1260.7 L706.4,1258.8 L707.8,1256.8 L709.1,1254.8 L710.5,1252.7 L711.9,1250.5 L713.3,1248.3 L714.7,1246.0 L716.1,1243.6 L717.5,1241.1 L718.8,1238.5 L720.2,1235.8 L721.6,1233.0 L723.0,1230.0 L724.4,1227.0 L725.8,1223.8 L727.2,1220.6 L728.6,1217.2 L729.9,1213.7 L731.3,1210.0 L732.7,1206.3 L734.1,1202.4 L735.5,1198.4 L736.9,1194.3 L738.3,1190.0 L739.7,1185.6 L741.0,1181.1 L742.4,1176.5 L743.8,1171.7 L745.2,1166.8 L746.6,1161.7 L748.0,1156.5 L749.4,1151.2 L750.8,1145.8 L752.1,1140.2 L753.5,1134.5 L754.9,1128.7 L756.3,1122.7 L757.7,1116.6 L759.1,1110.4 L760.5,1104.0 L761.9,1097.6 L763.2,1091.0 L764.6,1084.4 L766.0,1077.6 L767.4,1070.7 L768.8,1063.7 L770.2,1056.6 L771.6,1049.4 L772.9,1042.1 L774.3,1034.6 L775.7,1027.0 L777.1,1019.2 L778.5,1011.2 L779.9,1003.1 L781.3,994.8 L782.7,986.2 L784.0,977.4 L785.4,968.4 L786.8,959.1 L788.2,949.5 L789.6,939.7 L791.0,929.5 L792.4,919.1 L793.8,908.3 L795.1,897.3 L796.5,885.8 L797.9,874.1 L799.3,862.0 L800.7,849.5 L802.1,836.6 L803.5,823.4 L804.9,809.8 L806.2,795.7 L807.6,781.3 L809.0,766.5 L810.4,751.3 L811.8,735.7 L813.2,719.8 L814.6,703.5 L815.9,686.9 L817.3,670.0 L818.7,652.9 L820.1,635.6 L821.5,618.2 L822.9,600.7 L824.3,583.2 L825.7,565.8 L827.0,548.5 L828.4,531.6 L829.8,515.2 L831.2,499.5 L832.6,484.5 L834.0,470.2 L835.4,456.7 L836.8,443.9 L838.1,431.8 L839.5,420.4 L840.9,409.5 L842.3,399.3 L843.7,389.5 L845.1,380.2 L846.5,371.4 L847.9,362.9 L849.2,354.9 L850.6,347.2 L852.0,340.1 L853.4,334.5 L854.8,330.7 L856.2,328.6 L857.6,327.7 L859.0,327.7 L860.3,328.5 L861.7,329.9 L863.1,331.9 L864.5,334.7 L865.9,338.2 L867.3,342.7 L868.7,348.2 L870.0,354.6 L871.4,361.6 L872.8,369.3 L874.2,377.6 L875.6,386.5 L877.0,395.9 L878.4,405.8 L879.8,415.7 L881.1,425.8 L882.5,436.1 L883.9,446.4 L885.3,456.8 L886.7,467.4 L888.1,478.0 L889.5,488.7 L890.9,499.5 L892.2,510.4 L893.6,521.4 L895.0,532.4 L896.4,543.5 L897.8,554.6 L899.2,565.8 L900.6,577.0 L902.0,588.2 L903.3,599.5 L904.7,610.8 L906.1,622.0 L907.5,633.3 L908.9,644.5 L910.3,655.8 L911.7,667.0 L913.1,678.1 L914.4,689.2 L915.8,700.2 L917.2,711.2 L918.6,722.1 L920.0,732.9 L921.4,743.6 L922.8,754.2 L924.1,764.7 L925.5,775.0 L926.9,785.1 L928.3,795.1 L929.7,804.9 L931.1,814.6 L932.5,824.1 L933.9,833.3 L935.2,842.4 L936.6,851.4 L938.0,860.1 L939.4,868.6 L940.8,877.0 L942.2,885.1 L943.6,893.1 L945.0,900.9 L946.3,908.5 L947.7,915.9 L949.1,923.2 L950.5,930.3 L951.9,937.2 L953.3,943.9 L954.7,950.5 L956.1,957.0 L957.4,963.2 L958.8,969.4 L960.2,975.3 L961.6,981.2 L963.0,986.8 L964.4,992.4 L965.8,997.8 L967.2,1003.2 L968.5,1008.4 L969.9,1013.5 L971.3,1018.5 L972.7,1023.3 L974.1,1028.1 L975.5,1032.8 L976.9,1037.5 L978.2,1042.0 L979.6,1046.4 L981.0,1050.8 L982.4,1055.1 L983.8,1059.3 L985.2,1063.5 L986.6,1067.5 L988.0,1071.5 L989.3,1075.5 L990.7,1079.4 L992.1,1083.2 L993.5,1086.9 L994.9,1090.6 L996.3,1094.2 L997.7,1097.8 L999.1,1101.3 L1000.4,1104.8 L1001.8,1108.2 L1003.2,1111.6 L1004.6,1114.9 L1006.0,1118.1 L1007.4,1121.3 L1008.8,1124.5 L1010.2,1127.6 L1011.5,1130.7 L1012.9,1133.7 L1014.3,1136.6 L1015.7,1139.6 L1017.1,1142.4 L1018.5,1145.3 L1019.9,1148.1 L1021.3,1150.8 L1022.6,1153.5 L1024.0,1156.2 L1025.4,1158.8 L1026.8,1161.4 L1028.2,1163.9 L1029.6,1166.4 L1031.0,1168.9 L1032.3,1171.3 L1033.7,1173.7 L1035.1,1176.0 L1036.5,1178.4 L1037.9,1180.6 L1039.3,1182.9 L1040.7,1185.1 L1042.1,1187.2 L1043.4,1189.4 L1044.8,1191.4 L1046.2,1193.5 L1047.6,1195.5 L1049.0,1197.5 L1050.4,1199.5 L1051.8,1201.4 L1053.2,1203.3 L1054.5,1205.1 L1055.9,1206.9 L1057.3,1208.7 L1058.7,1210.5 L1060.1,1212.2 L1061.5,1213.9 L1062.9,1215.6 L1064.3,1217.2 L1065.6,1218.8 L1067.0,1220.3 L1068.4,1221.9 L1069.8,1223.4 L1071.2,1224.8 L1072.6,1226.3 L1074.0,1227.7 L1075.3,1229.0 L1076.7,1230.4 L1078.1,1231.7 L1079.5,1233.0 L1080.9,1234.2 L1082.3,1235.4 L1083.7,1236.6 L1085.1,1237.8 L1086.4,1238.9 L1087.8,1240.0 L1089.2,1241.1 L1090.6,1242.1 L1092.0,1243.1 L1093.4,1244.1 L1094.8,1245.1 L1096.2,1246.0 L1097.5,1246.9 L1098.9,1247.8 L1100.3,1248.6 L1101.7,1249.5 L1103.1,1250.3 L1104.5,1251.1 L1105.9,1251.8 L1107.3,1252.5 L1108.6,1253.2 L1110.0,1253.9 L1111.4,1254.6 L1112.8,1255.2 L1114.2,1255.9 L1115.6,1256.5 L1117.0,1257.0 L1118.4,1257.6 L1119.7,1258.1 L1121.1,1258.7 L1122.5,1259.2 L1123.9,1259.6 L1125.3,1260.1 L1126.7,1260.6 L1128.1,1261.0 L1129.4,1261.4 L1130.8,1261.8 L1132.2,1262.2 L1133.6,1262.6 L1135.0,1262.9 L1136.4,1263.3 L1137.8,1263.6 L1139.2,1263.9 L1140.5,1264.2 L1141.9,1264.5 L1143.3,1264.8 L1144.7,1265.1 L1146.1,1265.3 L1147.5,1265.6 L1148.9,1265.8 L1150.3,1266.0 L1151.6,1266.2 L1153.0,1266.4 L1154.4,1266.6 L1155.8,1266.8 L1157.2,1267.0 L1158.6,1267.2 L1160.0,1267.3 L1161.4,1267.5 L1162.7,1267.6 L1164.1,1267.8 L1165.5,1267.9 L1166.9,1268.0 L1168.3,1268.2 L1169.7,1268.3 L1171.1,1268.4 L1172.5,1268.5 L1173.8,1268.6 L1175.2,1268.7 L1176.6,1268.8 L1178.0,1268.9 L1179.4,1269.0 L1180.8,1269.1 L1182.2,1269.2 L1183.5,1269.3 L1184.9,1269.3 L1186.3,1269.4 L1187.7,1269.5 L1189.1,1269.6 L1190.5,1269.7 L1191.9,1269.7 L1193.3,1269.8 L1194.6,1269.9 L1196.0,1269.9 L1197.4,1270.0 L1198.8,1270.1 L1200.2,1270.1 L1201.6,1270.2 L1203.0,1270.2 L1204.4,1270.3 L1205.7,1270.3 L1207.1,1270.4 L1208.5,1270.4 L1209.9,1270.5 L1211.3,1270.5 L1212.7,1270.6 L1214.1,1270.6 L1215.5,1270.6 L1216.8,1270.7 L1218.2,1270.7 L1219.6,1270.7 L1221.0,1270.8 L1222.4,1270.8 L1223.8,1270.8 L1225.2,1270.9 L1226.6,1270.9 L1227.9,1270.9 L1229.3,1270.9 L1230.7,1270.9 L1232.1,1271.0 L1233.5,1271.0 L1234.9,1271.0 L1236.3,1271.0 L1237.6,1271.0 L1239.0,1271.0 L1240.4,1271.0 L1241.8,1271.0 L1243.2,1271.0 L1244.6,1271.0 L1246.0,1271.0 L1247.4,1271.0 L1248.7,1271.0 L1250.1,1271.0 L1251.5,1271.0 L1252.9,1271.0 L1254.3,1271.0 L1255.7,1271.0 L1257.1,1271.0 L1258.5,1271.0 L1259.8,1271.0 L1261.2,1271.0 L1262.6,1271.0 L1264.0,1270.9 L1265.4,1270.9 L1266.8,1270.9 L1268.2,1270.9 L1269.6,1270.9 L1270.9,1270.9 L1272.3,1270.8 L1273.7,1270.8 L1275.1,1270.8 L1276.5,1270.8 L1277.9,1270.7 L1279.3,1270.7 L1280.7,1270.7 L1282.0,1270.7 L1283.4,1270.6 L1284.8,1270.6 L1286.2,1270.6 L1287.6,1270.5 L1289.0,1270.5 L1290.4,1270.5 L1291.7,1270.4 L1293.1,1270.4 L1294.5,1270.4 L1295.9,1270.3 L1297.3,1270.3 L1298.7,1270.3 L1300.1,1270.2 L1301.5,1270.2 L1302.8,1270.2 L1304.2,1270.1 L1305.6,1270.1 L1307.0,1270.0 L1308.4,1270.0 L1309.8,1270.0 L1311.2,1269.9 L1312.6,1269.9 L1313.9,1269.8 L1315.3,1269.8 L1316.7,1269.8 L1318.1,1269.7 L1319.5,1269.7 L1320.9,1269.6 L1322.3,1269.6 L1323.7,1269.5 L1325.0,1269.5 L1326.4,1269.4 L1327.8,1269.4 L1329.2,1269.4 L1330.6,1269.3 L1332.0,1269.3 L1333.4,1269.2 L1334.7,1269.2 L1336.1,1269.1 L1337.5,1269.1 L1338.9,1269.0 L1340.3,1269.0 L1341.7,1269.0 L1343.1,1268.9 L1344.5,1268.9 L1345.8,1268.8 L1347.2,1268.8 L1348.6,1268.7 L1350.0,1268.7 L1351.4,1268.6 L1352.8,1268.6 L1354.2,1268.6 L1355.6,1268.5 L1356.9,1268.5 L1358.3,1268.4 L1359.7,1268.4 L1361.1,1268.3 L1362.5,1268.3 L1363.9,1268.3 L1365.3,1268.2 L1366.7,1268.2 L1368.0,1268.1 L1369.4,1268.1 L1370.8,1268.0 L1372.2,1268.0 L1373.6,1268.0 L1375.0,1267.9 L1376.4,1267.9 L1377.8,1267.8 L1379.1,1267.8 L1380.5,1267.8 L1381.9,1267.7 L1383.3,1267.7 L1384.7,1267.6 L1386.1,1267.6 L1387.5,1267.5 L1388.8,1267.5 L1390.2,1267.5 L1391.6,1267.4 L1393.0,1267.4 L1394.4,1267.3 L1395.8,1267.3 L1397.2,1267.3 L1398.6,1267.2 L1399.9,1267.2 L1401.3,1267.1 L1402.7,1267.1 L1404.1,1267.1 L1405.5,1267.0 L1406.9,1267.0 L1408.3,1266.9 L1409.7,1266.9 L1411.0,1266.9 L1412.4,1266.8 L1413.8,1266.8 L1415.2,1266.8 L1416.6,1266.7 L1418.0,1266.7 L1419.4,1266.6 L1420.8,1266.6 L1422.1,1266.6 L1423.5,1266.5 L1424.9,1266.5 L1426.3,1266.5 L1427.7,1266.4 L1429.1,1266.4 L1430.5,1266.3 L1431.9,1266.3 L1433.2,1266.3 L1434.6,1266.2 L1436.0,1266.2 L1437.4,1266.2 L1438.8,1266.1 L1440.2,1266.1 L1441.6,1266.0 L1442.9,1266.0 L1444.3,1266.0 L1445.7,1265.9 L1447.1,1265.9 L1448.5,1265.9 L1449.9,1265.8 L1451.3,1265.8 L1452.7,1265.8 L1454.0,1265.7 L1455.4,1265.7 L1456.8,1265.7 L1458.2,1265.6 L1459.6,1265.6 L1461.0,1265.6 L1462.4,1265.5 L1463.8,1265.5 L1465.1,1265.5 L1466.5,1265.4 L1467.9,1265.4 L1469.3,1265.4 L1470.7,1265.3 L1472.1,1265.3 L1473.5,1265.3 L1474.9,1265.2 L1476.2,1265.2 L1477.6,1265.2 L1479.0,1265.1 L1480.4,1265.1 L1481.8,1265.1 L1483.2,1265.0 L1484.6,1265.0 L1486.0,1265.0 L1487.3,1264.9 L1488.7,1264.9 L1490.1,1264.9 L1491.5,1264.8 L1492.9,1264.8 L1494.3,1264.8 L1495.7,1264.7 L1497.0,1264.7 L1498.4,1264.7 L1499.8,1264.6 L1501.2,1264.6 L1502.6,1264.6 L1504.0,1264.6 L1505.4,1264.5 L1506.8,1264.5 L1508.1,1264.5 L1509.5,1264.4 L1510.9,1264.4 L1512.3,1264.4 L1513.7,1264.3 L1515.1,1264.3 L1516.5,1264.3 L1517.9,1264.3 L1519.2,1264.2 L1520.6,1264.2 L1522.0,1264.2 L1523.4,1264.1 L1524.8,1264.1 L1526.2,1264.1 L1527.6,1264.1 L1529.0,1264.0 L1530.3,1264.0 L1531.7,1264.0 L1533.1,1263.9 L1534.5,1263.9 L1535.9,1263.9 L1537.3,1263.9 L1538.7,1263.8 L1540.1,1263.8 L1541.4,1263.8 L1542.8,1263.7 L1544.2,1263.7 L1545.6,1263.7 L1547.0,1263.7 L1548.4,1263.6 L1549.8,1263.6 L1551.1,1263.6 L1552.5,1263.6 L1553.9,1263.5 L1555.3,1263.5 L1556.7,1263.5 L1558.1,1263.5 L1559.5,1263.4 L1560.9,1263.4 L1562.2,1263.4 L1563.6,1263.4 L1565.0,1263.3 L1566.4,1263.3 L1567.8,1263.3 L1569.2,1263.3 L1570.6,1263.2 L1572.0,1263.2 L1573.3,1263.2 L1574.7,1263.2 L1576.1,1263.1 L1577.5,1263.1 L1578.9,1263.1 L1580.3,1263.1 L1581.7,1263.1 L1583.1,1263.0 L1584.4,1263.0 L1585.8,1263.0 L1587.2,1263.0 L1588.6,1262.9 L1590.0,1262.9 L1591.4,1262.9 L1592.8,1262.9 L1594.2,1262.8 L1595.5,1262.8 L1596.9,1262.8 L1598.3,1262.8 L1599.7,1262.8 L1601.1,1262.7 L1602.5,1262.7 L1603.9,1262.7 L1605.2,1262.7 L1606.6,1262.7 L1608.0,1262.6 L1609.4,1262.6 L1610.8,1262.6 L1612.2,1262.6 L1613.6,1262.6 L1615.0,1262.5 L1616.3,1262.5 L1617.7,1262.5 L1619.1,1262.5 L1620.5,1262.5 L1621.9,1262.4 L1623.3,1262.4 L1624.7,1262.4 L1626.1,1262.4 L1627.4,1262.4 L1628.8,1262.3 L1630.2,1262.3 L1631.6,1262.3 L1633.0,1262.3 L1634.4,1262.3 L1635.8,1262.3 L1637.2,1262.2 L1638.5,1262.2 L1639.9,1262.2 L1641.3,1262.2 L1642.7,1262.2 L1644.1,1262.2 L1645.5,1262.1 L1646.9,1262.1 L1648.2,1262.1 L1649.6,1262.1 L1651.0,1262.1 L1652.4,1262.1 L1653.8,1262.0 L1655.2,1262.0 L1656.6,1262.0 L1658.0,1262.0 L1659.3,1262.0 L1660.7,1262.0 L1662.1,1261.9 L1663.5,1261.9 L1664.9,1261.9 L1666.3,1261.9 L1667.7,1261.9 L1669.1,1261.9 L1670.4,1261.9 L1671.8,1261.8 L1673.2,1261.8 L1674.6,1261.8 L1676.0,1261.8 L1677.4,1261.8 L1678.8,1261.8 L1680.2,1261.8 L1681.5,1261.7 L1682.9,1261.7 L1684.3,1261.7 L1685.7,1261.7 L1687.1,1261.7 L1688.5,1261.7 L1689.9,1261.7 L1691.3,1261.7 L1692.6,1261.6 L1694.0,1261.6 L1695.4,1261.6 L1696.8,1261.6 L1698.2,1261.6 L1699.6,1261.6 L1701.0,1261.6 L1702.3,1261.6 L1703.7,1261.6 L1705.1,1261.5 L1706.5,1261.5 L1707.9,1261.5 L1709.3,1261.5 L1710.7,1261.5 L1712.1,1261.5 L1713.4,1261.5 L1714.8,1261.5 L1716.2,1261.5 L1717.6,1261.5 L1719.0,1261.4 L1720.4,1261.4 L1721.8,1261.4 L1723.2,1261.4 L1724.5,1261.4 L1725.9,1261.4 L1727.3,1261.4 L1728.7,1261.4 L1730.1,1261.4 L1731.5,1261.4 L1732.9,1261.4 L1734.3,1261.4 L1735.6,1261.3 L1737.0,1261.3 L1738.4,1261.3 L1739.8,1261.3 L1741.2,1261.3 L1742.6,1261.3 L1744.0,1261.3 L1745.4,1261.3 L1746.7,1261.3 L1748.1,1261.3 L1749.5,1261.3 L1750.9,1261.3 L1752.3,1261.3 L1753.7,1261.3 L1755.1,1261.3 L1756.4,1261.2 L1757.8,1261.2 L1759.2,1261.2 L1760.6,1261.2 L1762.0,1261.2 L1763.4,1261.2 L1764.8,1261.2 L1766.2,1261.2 L1767.5,1261.2 L1768.9,1261.2 L1770.3,1261.2 L1771.7,1261.2 L1773.1,1261.2 L1774.5,1261.2 L1775.9,1261.2 L1777.3,1261.2 L1778.6,1261.2 L1780.0,1261.2 L1781.4,1261.2 L1782.8,1261.2 L1784.2,1261.2 L1785.6,1261.2 L1787.0,1261.2 L1788.4,1261.2 L1789.7,1261.2 L1791.1,1261.2 L1792.5,1261.2 L1793.9,1261.2 L1795.3,1261.2 L1796.7,1261.2 L1798.1,1261.2 L1799.5,1261.2 L1800.8,1261.2 L1802.2,1261.2 L1803.6,1261.2 L1805.0,1261.2 L1806.4,1261.2 L1807.8,1261.2 L1809.2,1261.2 L1810.5,1261.2 L1811.9,1261.2 L1813.3,1261.2 L1814.7,1261.2 L1816.1,1261.2 L1817.5,1261.2 L1818.9,1261.2 L1820.3,1261.2 L1821.6,1261.2 L1823.0,1261.2 L1824.4,1261.2 L1825.8,1261.2 L1827.2,1261.2 L1828.6,1261.2 L1830.0,1261.2 L1831.4,1261.2 L1832.7,1261.2 L1834.1,1261.2 L1835.5,1261.2 L1836.9,1261.2 L1838.3,1261.2 L1839.7,1261.2 L1841.1,1261.2 L1842.5,1261.2 L1843.8,1261.2 L1845.2,1261.2 L1846.6,1261.2 L1848.0,1261.2 L1849.4,1261.2 L1850.8,1261.2 L1852.2,1261.2 L1853.6,1261.2 L1854.9,1261.3 L1856.3,1261.3 L1857.7,1261.3 L1859.1,1261.3 L1860.5,1261.3 L1861.9,1261.3 L1863.3,1261.3 L1864.6,1261.3 L1866.0,1261.3 L1867.4,1261.3 L1868.8,1261.3 L1870.2,1261.3 L1871.6,1261.3 L1873.0,1261.3 L1874.4,1261.3 L1875.7,1261.4 L1877.1,1261.4 L1878.5,1261.4 L1879.9,1261.4 L1881.3,1261.4 L1882.7,1261.4 L1884.1,1261.4 L1885.5,1261.4 L1886.8,1261.4 L1888.2,1261.4 L1889.6,1261.4 L1891.0,1261.4 L1892.4,1261.5 L1893.8,1261.5 L1895.2,1261.5 L1896.6,1261.5 L1897.9,1261.5 L1899.3,1261.5 L1900.7,1261.5 L1902.1,1261.5 L1903.5,1261.5 L1904.9,1261.6 L1906.3,1261.6 L1907.6,1261.6 L1909.0,1261.6 L1910.4,1261.6 L1911.8,1261.6 L1913.2,1261.6 L1914.6,1261.6 L1916.0,1261.6 L1917.4,1261.7 L1918.7,1261.7 L1920.1,1261.7 L1921.5,1261.7 L1922.9,1261.7 L1924.3,1261.7 L1925.7,1261.7 L1927.1,1261.8 L1928.5,1261.8 L1929.8,1261.8 L1931.2,1261.8 L1932.6,1261.8 L1934.0,1261.8 L1935.4,1261.8 L1936.8,1261.9 L1938.2,1261.9 L1939.6,1261.9 L1940.9,1261.9 L1942.3,1261.9 L1943.7,1261.9 L1945.1,1261.9 L1946.5,1262.0 L1947.9,1262.0 L1949.3,1262.0 L1950.7,1262.0 L1952.0,1262.0 L1953.4,1262.0 L1954.8,1262.1 L1956.2,1262.1 L1957.6,1262.1 L1959.0,1262.1 L1960.4,1262.1 L1961.7,1262.1 L1963.1,1262.2 L1964.5,1262.2 L1965.9,1262.2 L1967.3,1262.2 L1968.7,1262.2 L1970.1,1262.3 L1971.5,1262.3 L1972.8,1262.3 L1974.2,1262.3 L1975.6,1262.3 L1977.0,1262.4 L1978.4,1262.4 L1979.8,1262.4 L1981.2,1262.4 L1982.6,1262.4 L1983.9,1262.5 L1985.3,1262.5 L1986.7,1262.5 L1988.1,1262.5 L1989.5,1262.5 L1990.9,1262.6 L1992.3,1262.6 L1993.7,1262.6 L1995.0,1262.6 L1996.4,1262.6 L1997.8,1262.7 L1999.2,1262.7 L2000.6,1262.7 L2002.0,1262.7 L2003.4,1262.8 L2004.8,1262.8 L2006.1,1262.8 L2007.5,1262.8 L2008.9,1262.9 L2010.3,1262.9" stroke="#f0f000" stroke-width="3.4"/>
<rect x="499.1" y="1296.3" width="23.9" height="23.9" fill="#000000"/>
<rect x="674.1" y="1240.1" width="23.9" height="23.9" fill="#000000"/>
<rect x="850.1" y="512.1" width="23.9" height="23.9" fill="#000000"/>
<rect x="1028.1" y="1228.1" width="23.9" height="23.9" fill="#000000"/>
<rect x="1203.1" y="1263.6" width="23.9" height="23.9" fill="#000000"/>
<rect x="1388.1" y="1264.3" width="23.9" height="23.9" fill="#000000"/>
<rect x="1568.1" y="1263.6" width="23.9" height="23.9" fill="#000000"/>
<rect x="1743.1" y="1264.8" width="23.9" height="23.9" fill="#000000"/>
<rect x="1923.1" y="1264.5" width="23.9" height="23.9" fill="#000000"/>
<circle cx="516.0" cy="1309.1" r="12.4" fill="#ff0000"/>
<circle cx="691.0" cy="1250.0" r="12.4" fill="#ff0000"/>
<circle cx="869.0" cy="537.5" r="12.4" fill="#ff0000"/>
<circle cx="1045.0" cy="1240.0" r="12.4" fill="#ff0000"/>
<circle cx="1220.0" cy="1272.9" r="12.4" fill="#ff0000"/>
<circle cx="1405.0" cy="1274.1" r="12.4" fill="#ff0000"/>
<circle cx="1585.0" cy="1274.0" r="12.4" fill="#ff0000"/>
<circle cx="1760.0" cy="1273.5" r="12.4" fill="#ff0000"/>
<circle cx="1940.0" cy="1273.2" r="12.4" fill="#ff0000"/>
<path d="M521.0,1291.5 L536.7,1319.3 L505.3,1319.3 Z" fill="#00ff00"/>
<path d="M697.0,1234.2 L712.7,1262.0 L681.3,1262.0 Z" fill="#00ff00"/>
<path d="M875.0,545.2 L890.7,573.0 L859.3,573.0 Z" fill="#00ff00"/>
<path d="M1050.0,1222.2 L1065.7,1250.0 L1034.3,1250.0 Z" fill="#00ff00"/>
<path d="M1225.0,1258.9 L1240.7,1286.7 L1209.3,1286.7 Z" fill="#00ff00"/>
<path d="M1410.0,1250.7 L1425.7,1278.5 L1394.3,1278.5 Z" fill="#00ff00"/>
<path d="M1592.0,1248.0 L1607.7,1275.8 L1576.3,1275.8 Z" fill="#00ff00"/>
<path d="M1765.0,1249.3 L1780.7,1277.2 L1749.3,1277.2 Z" fill="#00ff00"/>
<path d="M1945.0,1250.0 L1960.7,1277.9 L1929.3,1277.9 Z" fill="#00ff00"/>
<path d="M506.0,1328.5 L521.7,1300.6 L490.3,1300.6 Z" fill="#0000ff"/>
<path d="M700.0,1295.8 L715.7,1268.0 L684.3,1268.0 Z" fill="#0000ff"/>
<path d="M884.0,520.8 L899.7,493.0 L868.3,493.0 Z" fill="#0000ff"/>
<path d="M1060.0,1213.8 L1075.7,1186.0 L1044.3,1186.0 Z" fill="#0000ff"/>
<path d="M1238.0,1267.4 L1253.7,1239.6 L1222.3,1239.6 Z" fill="#0000ff"/>
<path d="M1405.0,1260.6 L1420.7,1232.8 L1389.3,1232.8 Z" fill="#0000ff"/>
<path d="M1593.0,1260.5 L1608.7,1232.7 L1577.3,1232.7 Z" fill="#0000ff"/>
<path d="M1769.0,1263.2 L1784.7,1235.4 L1753.3,1235.4 Z" fill="#0000ff"/>
<path d="M1946.0,1263.0 L1961.7,1235.1 L1930.3,1235.1 Z" fill="#0000ff"/>
<path d="M370.0,1295.5 L386.5,1312.0 L370.0,1328.5 L353.5,1312.0 Z" fill="#00ffff"/>
<path d="M541.0,1293.5 L557.5,1310.0 L541.0,1326.5 L524.5,1310.0 Z" fill="#00ffff"/>
<path d="M706.0,1226.5 L722.5,1243.0 L706.0,1259.5 L689.5,1243.0 Z" fill="#00ffff"/>
<path d="M877.0,496.5 L893.5,513.0 L877.0,529.5 L860.5,513.0 Z" fill="#00ffff"/>
<path d="M1066.0,1217.5 L1082.5,1234.0 L1066.0,1250.5 L1049.5,1234.0 Z" fill="#00ffff"/>
<path d="M1246.0,1247.4 L1262.5,1263.9 L1246.0,1280.4 L1229.5,1263.9 Z" fill="#00ffff"/>
<path d="M1425.0,1242.2 L1441.5,1258.7 L1425.0,1275.1 L1408.5,1258.7 Z" fill="#00ffff"/>
<path d="M1597.0,1239.8 L1613.5,1256.3 L1597.0,1272.8 L1580.5,1256.3 Z" fill="#00ffff"/>
<path d="M1776.5,1239.0 L1793.0,1255.5 L1776.5,1272.0 L1760.0,1255.5 Z" fill="#00ffff"/>
<path d="M1956.0,1239.1 L1972.5,1255.6 L1956.0,1272.1 L1939.5,1255.6 Z" fill="#00ffff"/>
<path d="M335.6,1311.0 L359.6,1294.4 L359.6,1327.6 Z" fill="#ff00ff"/>
<path d="M508.6,1311.0 L532.6,1294.4 L532.6,1327.6 Z" fill="#ff00ff"/>
<path d="M688.6,1280.0 L712.6,1263.4 L712.6,1296.6 Z" fill="#ff00ff"/>
<path d="M847.6,329.0 L871.6,312.4 L871.6,345.6 Z" fill="#ff00ff"/>
<path d="M1029.6,1224.0 L1053.6,1207.4 L1053.6,1240.6 Z" fill="#ff00ff"/>
<path d="M1208.6,1287.2 L1232.6,1270.6 L1232.6,1303.8 Z" fill="#ff00ff"/>
<path d="M1389.6,1279.3 L1413.6,1262.6 L1413.6,1295.9 Z" fill="#ff00ff"/>
<path d="M1569.6,1285.6 L1593.6,1269.0 L1593.6,1302.2 Z" fill="#ff00ff"/>
<path d="M1743.1,1286.9 L1767.1,1270.2 L1767.1,1303.5 Z" fill="#ff00ff"/>
<path d="M1922.6,1286.2 L1946.6,1269.6 L1946.6,1302.8 Z" fill="#ff00ff"/>
<path d="M421.4,1312.0 L397.4,1295.4 L397.4,1328.6 Z" fill="#ffff00"/>
<path d="M594.4,1309.0 L570.4,1292.4 L570.4,1325.6 Z" fill="#ffff00"/>
<path d="M763.4,1166.0 L739.4,1149.4 L739.4,1182.6 Z" fill="#ffff00"/>
<path d="M944.4,792.0 L920.4,775.4 L920.4,808.6 Z" fill="#ffff00"/>
<path d="M1121.4,1247.0 L1097.4,1230.4 L1097.4,1263.6 Z" fill="#ffff00"/>
<path d="M1300.4,1270.6 L1276.4,1254.0 L1276.4,1287.2 Z" fill="#ffff00"/>
<path d="M1475.4,1265.6 L1451.4,1248.9 L1451.4,1282.2 Z" fill="#ffff00"/>
<path d="M1653.4,1262.2 L1629.4,1245.6 L1629.4,1278.9 Z" fill="#ffff00"/>
<path d="M1830.4,1261.2 L1806.4,1244.5 L1806.4,1277.8 Z" fill="#ffff00"/>
<path d="M2013.4,1262.7 L1989.4,1246.0 L1989.4,1279.3 Z" fill="#ffff00"/>
</g>
<g clip-path="url(#ci)" fill="none" stroke-linejoin="round">
<path d="M1015.0,849.1 L1016.4,849.0 L1017.8,848.8 L1019.2,848.7 L1020.6,848.6 L1022.0,848.4 L1023.4,848.3 L1024.8,848.1 L1026.2,847.9 L1027.6,847.8 L1029.0,847.6 L1030.4,847.4 L1031.7,847.2 L1033.1,847.1 L1034.5,846.9 L1035.9,846.7 L1037.3,846.5 L1038.7,846.3 L1040.1,846.1 L1041.5,845.9 L1042.9,845.7 L1044.3,845.5 L1045.7,845.2 L1047.1,845.0 L1048.5,844.8 L1049.9,844.6 L1051.3,844.3 L1052.7,844.1 L1054.1,843.8 L1055.5,843.6 L1056.9,843.3 L1058.3,843.1 L1059.7,842.8 L1061.1,842.5 L1062.4,842.2 L1063.8,842.0 L1065.2,841.7 L1066.6,841.4 L1068.0,841.1 L1069.4,840.8 L1070.8,840.5 L1072.2,840.1 L1073.6,839.8 L1075.0,839.5 L1076.4,839.2 L1077.8,838.8 L1079.2,838.5 L1080.6,838.1 L1082.0,837.8 L1083.4,837.4 L1084.8,837.0 L1086.2,836.7 L1087.6,836.3 L1089.0,835.9 L1090.4,835.5 L1091.8,835.1 L1093.2,834.7 L1094.5,834.3 L1095.9,833.9 L1097.3,833.5 L1098.7,833.0 L1100.1,832.6 L1101.5,832.2 L1102.9,831.7 L1104.3,831.3 L1105.7,830.8 L1107.1,830.4 L1108.5,829.9 L1109.9,829.4 L1111.3,828.9 L1112.7,828.4 L1114.1,827.9 L1115.5,827.4 L1116.9,826.9 L1118.3,826.4 L1119.7,825.9 L1121.1,825.3 L1122.5,824.8 L1123.9,824.2 L1125.2,823.7 L1126.6,823.1 L1128.0,822.5 L1129.4,822.0 L1130.8,821.4 L1132.2,820.8 L1133.6,820.2 L1135.0,819.6 L1136.4,818.9 L1137.8,818.3 L1139.2,817.7 L1140.6,817.0 L1142.0,816.4 L1143.4,815.7 L1144.8,815.1 L1146.2,814.4 L1147.6,813.7 L1149.0,813.0 L1150.4,812.3 L1151.8,811.6 L1153.2,810.8 L1154.6,810.1 L1156.0,809.3 L1157.3,808.6 L1158.7,807.8 L1160.1,807.0 L1161.5,806.3 L1162.9,805.5 L1164.3,804.6 L1165.7,803.8 L1167.1,803.0 L1168.5,802.1 L1169.9,801.3 L1171.3,800.4 L1172.7,799.5 L1174.1,798.6 L1175.5,797.7 L1176.9,796.8 L1178.3,795.9 L1179.7,794.9 L1181.1,794.0 L1182.5,793.0 L1183.9,792.0 L1185.3,791.0 L1186.7,790.0 L1188.1,789.0 L1189.4,787.9 L1190.8,786.9 L1192.2,785.8 L1193.6,784.7 L1195.0,783.6 L1196.4,782.4 L1197.8,781.3 L1199.2,780.1 L1200.6,778.9 L1202.0,777.7 L1203.4,776.5 L1204.8,775.2 L1206.2,774.0 L1207.6,772.7 L1209.0,771.4 L1210.4,770.0 L1211.8,768.7 L1213.2,767.3 L1214.6,765.9 L1216.0,764.4 L1217.4,763.0 L1218.8,761.5 L1220.1,760.0 L1221.5,758.4 L1222.9,756.9 L1224.3,755.3 L1225.7,753.7 L1227.1,752.0 L1228.5,750.4 L1229.9,748.7 L1231.3,746.9 L1232.7,745.2 L1234.1,743.4 L1235.5,741.6 L1236.9,739.7 L1238.3,737.8 L1239.7,735.9 L1241.1,734.0 L1242.5,732.0 L1243.9,730.0 L1245.3,728.0 L1246.7,725.9 L1248.1,723.8 L1249.5,721.6 L1250.9,719.5 L1252.2,717.3 L1253.6,715.0 L1255.0,712.7 L1256.4,710.4 L1257.8,708.0 L1259.2,705.6 L1260.6,703.2 L1262.0,700.7 L1263.4,698.2 L1264.8,695.7 L1266.2,693.1 L1267.6,690.5 L1269.0,687.8 L1270.4,685.1 L1271.8,682.4 L1273.2,679.6 L1274.6,676.8 L1276.0,673.9 L1277.4,671.0 L1278.8,668.0 L1280.2,665.1 L1281.6,662.0 L1282.9,659.0 L1284.3,655.9 L1285.7,652.7 L1287.1,649.6 L1288.5,646.3 L1289.9,643.1 L1291.3,639.8 L1292.7,636.5 L1294.1,633.2 L1295.5,629.8 L1296.9,626.4 L1298.3,622.9 L1299.7,619.5 L1301.1,615.9 L1302.5,612.4 L1303.9,608.8 L1305.3,605.2 L1306.7,601.6 L1308.1,597.9 L1309.5,594.2 L1310.9,590.5 L1312.3,586.7 L1313.7,582.9 L1315.0,579.1 L1316.4,575.2 L1317.8,571.3 L1319.2,567.4 L1320.6,563.4 L1322.0,559.3 L1323.4,555.3 L1324.8,551.2 L1326.2,547.0 L1327.6,542.8 L1329.0,538.6 L1330.4,534.3 L1331.8,530.0 L1333.2,525.7 L1334.6,521.3 L1336.0,516.9 L1337.4,512.4 L1338.8,507.9 L1340.2,503.3 L1341.6,498.7 L1343.0,494.0 L1344.4,489.3 L1345.7,484.6 L1347.1,479.8 L1348.5,475.0 L1349.9,470.1 L1351.3,465.2 L1352.7,460.3 L1354.1,455.2 L1355.5,450.2 L1356.9,445.1 L1358.3,440.0 L1359.7,434.8 L1361.1,429.6 L1362.5,424.3 L1363.9,419.0 L1365.3,413.7 L1366.7,408.3 L1368.1,402.9 L1369.5,397.4 L1370.9,392.0 L1372.3,386.4 L1373.7,380.9 L1375.1,375.3 L1376.5,369.7 L1377.8,364.1 L1379.2,358.4 L1380.6,352.7 L1382.0,347.0 L1383.4,341.3 L1384.8,335.5 L1386.2,329.7 L1387.6,324.0 L1389.0,318.2 L1390.4,312.4 L1391.8,306.6 L1393.2,300.8 L1394.6,295.0 L1396.0,289.2 L1397.4,283.4 L1398.8,277.6 L1400.2,271.8 L1401.6,266.0 L1403.0,260.2 L1404.4,254.5 L1405.8,248.7 L1407.2,243.0 L1408.5,237.3 L1409.9,231.7 L1411.3,226.1 L1412.7,220.7 L1414.1,215.3 L1415.5,210.1 L1416.9,204.9 L1418.3,199.9 L1419.7,195.1 L1421.1,190.3 L1422.5,185.7 L1423.9,181.2 L1425.3,176.8 L1426.7,172.6 L1428.1,168.4 L1429.5,164.4 L1430.9,160.5 L1432.3,156.7 L1433.7,152.9 L1435.1,149.3 L1436.5,145.8 L1437.9,142.3 L1439.3,139.0 L1440.6,135.9 L1442.0,132.9 L1443.4,130.2 L1444.8,127.7 L1446.2,125.3 L1447.6,123.1 L1449.0,121.2 L1450.4,119.3 L1451.8,117.7 L1453.2,116.2 L1454.6,114.8 L1456.0,113.5 L1457.4,112.4 L1458.8,111.3 L1460.2,110.4 L1461.6,109.6 L1463.0,108.9 L1464.4,108.3 L1465.8,107.9 L1467.2,107.5 L1468.6,107.3 L1470.0,107.2 L1471.3,107.2 L1472.7,107.4 L1474.1,107.7 L1475.5,108.1 L1476.9,108.6 L1478.3,109.2 L1479.7,110.0 L1481.1,110.8 L1482.5,111.8 L1483.9,112.9 L1485.3,114.1 L1486.7,115.4 L1488.1,116.8 L1489.5,118.4 L1490.9,120.0 L1492.3,121.7 L1493.7,123.6 L1495.1,125.6 L1496.5,127.7 L1497.9,129.9 L1499.3,132.2 L1500.7,134.6 L1502.1,137.2 L1503.4,139.9 L1504.8,142.8 L1506.2,145.8 L1507.6,149.1 L1509.0,152.5 L1510.4,156.2 L1511.8,160.1 L1513.2,164.4 L1514.6,168.9 L1516.0,173.7 L1517.4,178.7 L1518.8,183.8 L1520.2,188.9 L1521.6,193.8 L1523.0,198.6 L1524.4,203.3 L1525.8,207.9 L1527.2,212.5 L1528.6,217.0 L1530.0,221.4 L1531.4,225.8 L1532.8,230.1 L1534.2,234.4 L1535.5,238.6 L1536.9,242.8 L1538.3,247.0 L1539.7,251.2 L1541.1,255.3 L1542.5,259.5 L1543.9,263.6 L1545.3,267.8 L1546.7,271.9 L1548.1,276.0 L1549.5,280.2 L1550.9,284.3 L1552.3,288.5 L1553.7,292.7 L1555.1,296.9 L1556.5,301.1 L1557.9,305.4 L1559.3,309.7 L1560.7,314.0 L1562.1,318.4 L1563.5,322.7 L1564.9,327.1 L1566.2,331.5 L1567.6,336.0 L1569.0,340.4 L1570.4,344.8 L1571.8,349.3 L1573.2,353.8 L1574.6,358.2 L1576.0,362.7 L1577.4,367.1 L1578.8,371.6 L1580.2,376.0 L1581.6,380.4 L1583.0,384.8 L1584.4,389.2 L1585.8,393.6 L1587.2,397.9 L1588.6,402.2 L1590.0,406.5 L1591.4,410.8 L1592.8,415.0 L1594.2,419.2 L1595.6,423.3 L1597.0,427.4 L1598.3,431.5 L1599.7,435.6 L1601.1,439.6 L1602.5,443.5 L1603.9,447.4 L1605.3,451.3 L1606.7,455.1 L1608.1,458.9 L1609.5,462.7 L1610.9,466.4 L1612.3,470.0 L1613.7,473.6 L1615.1,477.2 L1616.5,480.7 L1617.9,484.2 L1619.3,487.6 L1620.7,491.0 L1622.1,494.4 L1623.5,497.7 L1624.9,501.0 L1626.3,504.2 L1627.7,507.4 L1629.0,510.5 L1630.4,513.6 L1631.8,516.6 L1633.2,519.7 L1634.6,522.6 L1636.0,525.6 L1637.4,528.5 L1638.8,531.3 L1640.2,534.2 L1641.6,537.0 L1643.0,539.7 L1644.4,542.4 L1645.8,545.1 L1647.2,547.8 L1648.6,550.4 L1650.0,553.0 L1651.4,555.6 L1652.8,558.1 L1654.2,560.6 L1655.6,563.1 L1657.0,565.6 L1658.4,568.0 L1659.8,570.4 L1661.1,572.8 L1662.5,575.1 L1663.9,577.4 L1665.3,579.7 L1666.7,582.0 L1668.1,584.3 L1669.5,586.5 L1670.9,588.7 L1672.3,590.9 L1673.7,593.0 L1675.1,595.2 L1676.5,597.3 L1677.9,599.4 L1679.3,601.5 L1680.7,603.5 L1682.1,605.6 L1683.5,607.6 L1684.9,609.6 L1686.3,611.6 L1687.7,613.6 L1689.1,615.5 L1690.5,617.4 L1691.8,619.3 L1693.2,621.2 L1694.6,623.1 L1696.0,625.0 L1697.4,626.8 L1698.8,628.6 L1700.2,630.5 L1701.6,632.2 L1703.0,634.0 L1704.4,635.8 L1705.8,637.5 L1707.2,639.3 L1708.6,641.0 L1710.0,642.7 L1711.4,644.4 L1712.8,646.1 L1714.2,647.7 L1715.6,649.4 L1717.0,651.0 L1718.4,652.6 L1719.8,654.2 L1721.2,655.8 L1722.6,657.4 L1723.9,658.9 L1725.3,660.5 L1726.7,662.0 L1728.1,663.6 L1729.5,665.1 L1730.9,666.6 L1732.3,668.1 L1733.7,669.5 L1735.1,671.0 L1736.5,672.5 L1737.9,673.9 L1739.3,675.3 L1740.7,676.7 L1742.1,678.1 L1743.5,679.5 L1744.9,680.9 L1746.3,682.3 L1747.7,683.6 L1749.1,685.0 L1750.5,686.3 L1751.9,687.7 L1753.3,689.0 L1754.6,690.3 L1756.0,691.6 L1757.4,692.9 L1758.8,694.1 L1760.2,695.4 L1761.6,696.7 L1763.0,697.9 L1764.4,699.1 L1765.8,700.4 L1767.2,701.6 L1768.6,702.8 L1770.0,704.0 L1771.4,705.2 L1772.8,706.3 L1774.2,707.5 L1775.6,708.7 L1777.0,709.8 L1778.4,710.9 L1779.8,712.1 L1781.2,713.2 L1782.6,714.3 L1784.0,715.4 L1785.4,716.5 L1786.7,717.6 L1788.1,718.7 L1789.5,719.8 L1790.9,720.8 L1792.3,721.9 L1793.7,722.9 L1795.1,724.0 L1796.5,725.0 L1797.9,726.0 L1799.3,727.1 L1800.7,728.1 L1802.1,729.1 L1803.5,730.1 L1804.9,731.1 L1806.3,732.1 L1807.7,733.0 L1809.1,734.0 L1810.5,735.0 L1811.9,735.9 L1813.3,736.9 L1814.7,737.8 L1816.1,738.7 L1817.4,739.7 L1818.8,740.6 L1820.2,741.5 L1821.6,742.4 L1823.0,743.3 L1824.4,744.2 L1825.8,745.1 L1827.2,746.0 L1828.6,746.8 L1830.0,747.7 L1831.4,748.6 L1832.8,749.4 L1834.2,750.3 L1835.6,751.1 L1837.0,752.0 L1838.4,752.8 L1839.8,753.6 L1841.2,754.4 L1842.6,755.2 L1844.0,756.1 L1845.4,756.9 L1846.8,757.6 L1848.2,758.4 L1849.5,759.2 L1850.9,760.0 L1852.3,760.8 L1853.7,761.5 L1855.1,762.3 L1856.5,763.1 L1857.9,763.8 L1859.3,764.6 L1860.7,765.3 L1862.1,766.0 L1863.5,766.8 L1864.9,767.5 L1866.3,768.2 L1867.7,768.9 L1869.1,769.6 L1870.5,770.3 L1871.9,771.0 L1873.3,771.7 L1874.7,772.4 L1876.1,773.1 L1877.5,773.8 L1878.9,774.4 L1880.3,775.1 L1881.6,775.7 L1883.0,776.4 L1884.4,777.1 L1885.8,777.7 L1887.2,778.3 L1888.6,779.0 L1890.0,779.6 L1891.4,780.2 L1892.8,780.9 L1894.2,781.5 L1895.6,782.1 L1897.0,782.7 L1898.4,783.3 L1899.8,783.9 L1901.2,784.5 L1902.6,785.1 L1904.0,785.6 L1905.4,786.2 L1906.8,786.8 L1908.2,787.4 L1909.6,787.9 L1911.0,788.5 L1912.3,789.0 L1913.7,789.6 L1915.1,790.1 L1916.5,790.7 L1917.9,791.2 L1919.3,791.7 L1920.7,792.3 L1922.1,792.8 L1923.5,793.3 L1924.9,793.8 L1926.3,794.3 L1927.7,794.8 L1929.1,795.3 L1930.5,795.8 L1931.9,796.3 L1933.3,796.8 L1934.7,797.3 L1936.1,797.8 L1937.5,798.2 L1938.9,798.7 L1940.3,799.2 L1941.7,799.6 L1943.1,800.1 L1944.4,800.5 L1945.8,801.0 L1947.2,801.4 L1948.6,801.8 L1950.0,802.3 L1951.4,802.7 L1952.8,803.1 L1954.2,803.6 L1955.6,804.0 L1957.0,804.4 L1958.4,804.8 L1959.8,805.2 L1961.2,805.6 L1962.6,806.0 L1964.0,806.4 L1965.4,806.8 L1966.8,807.1 L1968.2,807.5 L1969.6,807.9 L1971.0,808.3 L1972.4,808.6 L1973.8,809.0 L1975.1,809.3 L1976.5,809.7 L1977.9,810.0 L1979.3,810.4 L1980.7,810.7 L1982.1,811.1 L1983.5,811.4 L1984.9,811.7 L1986.3,812.0 L1987.7,812.4 L1989.1,812.7 L1990.5,813.0" stroke="#000000" stroke-width="1.8"/>
<path d="M1015.0,847.8 L1016.4,847.7 L1017.8,847.6 L1019.2,847.5 L1020.6,847.3 L1022.0,847.2 L1023.4,847.1 L1024.8,846.9 L1026.2,846.8 L1027.6,846.7 L1029.0,846.5 L1030.4,846.4 L1031.7,846.3 L1033.1,846.1 L1034.5,846.0 L1035.9,845.8 L1037.3,845.7 L1038.7,845.5 L1040.1,845.4 L1041.5,845.2 L1042.9,845.1 L1044.3,844.9 L1045.7,844.7 L1047.1,844.6 L1048.5,844.4 L1049.9,844.2 L1051.3,844.0 L1052.7,843.9 L1054.1,843.7 L1055.5,843.5 L1056.9,843.3 L1058.3,843.1 L1059.7,842.9 L1061.1,842.7 L1062.4,842.5 L1063.8,842.3 L1065.2,842.1 L1066.6,841.9 L1068.0,841.7 L1069.4,841.5 L1070.8,841.2 L1072.2,841.0 L1073.6,840.8 L1075.0,840.5 L1076.4,840.3 L1077.8,840.1 L1079.2,839.8 L1080.6,839.5 L1082.0,839.3 L1083.4,839.0 L1084.8,838.8 L1086.2,838.5 L1087.6,838.2 L1089.0,837.9 L1090.4,837.6 L1091.8,837.3 L1093.2,837.0 L1094.5,836.7 L1095.9,836.4 L1097.3,836.1 L1098.7,835.8 L1100.1,835.4 L1101.5,835.1 L1102.9,834.8 L1104.3,834.4 L1105.7,834.1 L1107.1,833.7 L1108.5,833.3 L1109.9,833.0 L1111.3,832.6 L1112.7,832.2 L1114.1,831.8 L1115.5,831.4 L1116.9,831.0 L1118.3,830.6 L1119.7,830.1 L1121.1,829.7 L1122.5,829.2 L1123.9,828.8 L1125.2,828.3 L1126.6,827.9 L1128.0,827.4 L1129.4,826.9 L1130.8,826.4 L1132.2,825.9 L1133.6,825.4 L1135.0,824.9 L1136.4,824.4 L1137.8,823.8 L1139.2,823.3 L1140.6,822.7 L1142.0,822.1 L1143.4,821.6 L1144.8,821.0 L1146.2,820.4 L1147.6,819.7 L1149.0,819.1 L1150.4,818.5 L1151.8,817.8 L1153.2,817.2 L1154.6,816.5 L1156.0,815.8 L1157.3,815.1 L1158.7,814.4 L1160.1,813.7 L1161.5,813.0 L1162.9,812.2 L1164.3,811.4 L1165.7,810.7 L1167.1,809.9 L1168.5,809.1 L1169.9,808.3 L1171.3,807.4 L1172.7,806.6 L1174.1,805.7 L1175.5,804.8 L1176.9,803.9 L1178.3,803.0 L1179.7,802.1 L1181.1,801.1 L1182.5,800.2 L1183.9,799.2 L1185.3,798.2 L1186.7,797.2 L1188.1,796.2 L1189.4,795.1 L1190.8,794.1 L1192.2,793.0 L1193.6,791.9 L1195.0,790.8 L1196.4,789.7 L1197.8,788.5 L1199.2,787.4 L1200.6,786.2 L1202.0,785.0 L1203.4,783.8 L1204.8,782.6 L1206.2,781.3 L1207.6,780.0 L1209.0,778.7 L1210.4,777.4 L1211.8,776.1 L1213.2,774.8 L1214.6,773.4 L1216.0,772.0 L1217.4,770.6 L1218.8,769.2 L1220.1,767.7 L1221.5,766.2 L1222.9,764.7 L1224.3,763.2 L1225.7,761.7 L1227.1,760.1 L1228.5,758.5 L1229.9,756.9 L1231.3,755.3 L1232.7,753.6 L1234.1,751.9 L1235.5,750.2 L1236.9,748.5 L1238.3,746.7 L1239.7,744.9 L1241.1,743.1 L1242.5,741.2 L1243.9,739.4 L1245.3,737.5 L1246.7,735.5 L1248.1,733.6 L1249.5,731.6 L1250.9,729.6 L1252.2,727.5 L1253.6,725.4 L1255.0,723.3 L1256.4,721.2 L1257.8,719.0 L1259.2,716.8 L1260.6,714.5 L1262.0,712.3 L1263.4,709.9 L1264.8,707.6 L1266.2,705.2 L1267.6,702.8 L1269.0,700.3 L1270.4,697.9 L1271.8,695.3 L1273.2,692.8 L1274.6,690.2 L1276.0,687.5 L1277.4,684.9 L1278.8,682.2 L1280.2,679.4 L1281.6,676.6 L1282.9,673.8 L1284.3,670.9 L1285.7,668.0 L1287.1,665.1 L1288.5,662.1 L1289.9,659.1 L1291.3,656.0 L1292.7,653.0 L1294.1,649.8 L1295.5,646.7 L1296.9,643.5 L1298.3,640.2 L1299.7,636.9 L1301.1,633.6 L1302.5,630.3 L1303.9,626.9 L1305.3,623.5 L1306.7,620.1 L1308.1,616.6 L1309.5,613.1 L1310.9,609.6 L1312.3,606.0 L1313.7,602.4 L1315.0,598.8 L1316.4,595.1 L1317.8,591.4 L1319.2,587.6 L1320.6,583.8 L1322.0,580.0 L1323.4,576.1 L1324.8,572.2 L1326.2,568.2 L1327.6,564.3 L1329.0,560.2 L1330.4,556.1 L1331.8,552.0 L1333.2,547.9 L1334.6,543.6 L1336.0,539.4 L1337.4,535.1 L1338.8,530.7 L1340.2,526.4 L1341.6,521.9 L1343.0,517.4 L1344.4,512.9 L1345.7,508.3 L1347.1,503.7 L1348.5,499.0 L1349.9,494.3 L1351.3,489.5 L1352.7,484.7 L1354.1,479.8 L1355.5,474.9 L1356.9,469.9 L1358.3,464.9 L1359.7,459.8 L1361.1,454.7 L1362.5,449.5 L1363.9,444.3 L1365.3,439.1 L1366.7,433.8 L1368.1,428.4 L1369.5,423.0 L1370.9,417.6 L1372.3,412.1 L1373.7,406.6 L1375.1,401.0 L1376.5,395.4 L1377.8,389.8 L1379.2,384.1 L1380.6,378.4 L1382.0,372.6 L1383.4,366.9 L1384.8,361.1 L1386.2,355.3 L1387.6,349.4 L1389.0,343.6 L1390.4,337.7 L1391.8,331.8 L1393.2,325.9 L1394.6,320.0 L1396.0,314.1 L1397.4,308.2 L1398.8,302.3 L1400.2,296.3 L1401.6,290.4 L1403.0,284.5 L1404.4,278.6 L1405.8,272.8 L1407.2,266.9 L1408.5,261.0 L1409.9,255.2 L1411.3,249.4 L1412.7,243.6 L1414.1,237.9 L1415.5,232.2 L1416.9,226.5 L1418.3,220.8 L1419.7,215.2 L1421.1,209.6 L1422.5,204.0 L1423.9,198.5 L1425.3,193.0 L1426.7,187.6 L1428.1,182.2 L1429.5,176.9 L1430.9,171.7 L1432.3,166.9 L1433.7,162.3 L1435.1,158.1 L1436.5,154.1 L1437.9,150.4 L1439.3,147.0 L1440.6,143.9 L1442.0,140.9 L1443.4,138.2 L1444.8,135.7 L1446.2,133.3 L1447.6,131.1 L1449.0,129.1 L1450.4,127.1 L1451.8,125.3 L1453.2,123.6 L1454.6,122.0 L1456.0,120.5 L1457.4,119.1 L1458.8,117.8 L1460.2,116.6 L1461.6,115.5 L1463.0,114.4 L1464.4,113.5 L1465.8,112.7 L1467.2,111.9 L1468.6,111.3 L1470.0,110.8 L1471.3,110.4 L1472.7,110.2 L1474.1,110.1 L1475.5,110.1 L1476.9,110.3 L1478.3,110.7 L1479.7,111.1 L1481.1,111.8 L1482.5,112.5 L1483.9,113.4 L1485.3,114.5 L1486.7,115.7 L1488.1,117.0 L1489.5,118.5 L1490.9,120.1 L1492.3,121.8 L1493.7,123.6 L1495.1,125.6 L1496.5,127.7 L1497.9,129.9 L1499.3,132.2 L1500.7,134.6 L1502.1,137.1 L1503.4,139.7 L1504.8,142.4 L1506.2,145.2 L1507.6,148.0 L1509.0,150.9 L1510.4,153.8 L1511.8,156.9 L1513.2,160.0 L1514.6,163.1 L1516.0,166.4 L1517.4,169.7 L1518.8,173.1 L1520.2,176.6 L1521.6,180.2 L1523.0,183.9 L1524.4,187.7 L1525.8,191.6 L1527.2,195.5 L1528.6,199.6 L1530.0,203.8 L1531.4,208.0 L1532.8,212.3 L1534.2,216.7 L1535.5,221.2 L1536.9,225.7 L1538.3,230.3 L1539.7,234.9 L1541.1,239.5 L1542.5,244.1 L1543.9,248.6 L1545.3,253.2 L1546.7,257.7 L1548.1,262.2 L1549.5,266.7 L1550.9,271.1 L1552.3,275.5 L1553.7,279.9 L1555.1,284.2 L1556.5,288.6 L1557.9,292.9 L1559.3,297.2 L1560.7,301.4 L1562.1,305.7 L1563.5,309.9 L1564.9,314.1 L1566.2,318.2 L1567.6,322.4 L1569.0,326.5 L1570.4,330.6 L1571.8,334.6 L1573.2,338.7 L1574.6,342.7 L1576.0,346.7 L1577.4,350.7 L1578.8,354.6 L1580.2,358.6 L1581.6,362.5 L1583.0,366.4 L1584.4,370.2 L1585.8,374.1 L1587.2,377.9 L1588.6,381.7 L1590.0,385.5 L1591.4,389.3 L1592.8,393.0 L1594.2,396.8 L1595.6,400.5 L1597.0,404.2 L1598.3,407.8 L1599.7,411.5 L1601.1,415.1 L1602.5,418.7 L1603.9,422.3 L1605.3,425.9 L1606.7,429.5 L1608.1,433.0 L1609.5,436.5 L1610.9,440.1 L1612.3,443.6 L1613.7,447.0 L1615.1,450.5 L1616.5,453.9 L1617.9,457.3 L1619.3,460.7 L1620.7,464.1 L1622.1,467.5 L1623.5,470.8 L1624.9,474.1 L1626.3,477.4 L1627.7,480.6 L1629.0,483.9 L1630.4,487.1 L1631.8,490.3 L1633.2,493.5 L1634.6,496.6 L1636.0,499.7 L1637.4,502.8 L1638.8,505.9 L1640.2,508.9 L1641.6,512.0 L1643.0,515.0 L1644.4,517.9 L1645.8,520.9 L1647.2,523.8 L1648.6,526.7 L1650.0,529.6 L1651.4,532.4 L1652.8,535.3 L1654.2,538.1 L1655.6,540.9 L1657.0,543.6 L1658.4,546.3 L1659.8,549.1 L1661.1,551.7 L1662.5,554.4 L1663.9,557.0 L1665.3,559.6 L1666.7,562.2 L1668.1,564.8 L1669.5,567.3 L1670.9,569.9 L1672.3,572.3 L1673.7,574.8 L1675.1,577.3 L1676.5,579.7 L1677.9,582.1 L1679.3,584.5 L1680.7,586.8 L1682.1,589.2 L1683.5,591.5 L1684.9,593.8 L1686.3,596.1 L1687.7,598.3 L1689.1,600.5 L1690.5,602.7 L1691.8,604.9 L1693.2,607.1 L1694.6,609.3 L1696.0,611.4 L1697.4,613.5 L1698.8,615.6 L1700.2,617.6 L1701.6,619.7 L1703.0,621.7 L1704.4,623.7 L1705.8,625.7 L1707.2,627.7 L1708.6,629.6 L1710.0,631.6 L1711.4,633.5 L1712.8,635.4 L1714.2,637.2 L1715.6,639.1 L1717.0,640.9 L1718.4,642.8 L1719.8,644.6 L1721.2,646.4 L1722.6,648.1 L1723.9,649.9 L1725.3,651.6 L1726.7,653.3 L1728.1,655.0 L1729.5,656.7 L1730.9,658.4 L1732.3,660.0 L1733.7,661.7 L1735.1,663.3 L1736.5,664.9 L1737.9,666.5 L1739.3,668.1 L1740.7,669.6 L1742.1,671.2 L1743.5,672.7 L1744.9,674.2 L1746.3,675.7 L1747.7,677.2 L1749.1,678.7 L1750.5,680.1 L1751.9,681.6 L1753.3,683.0 L1754.6,684.4 L1756.0,685.8 L1757.4,687.2 L1758.8,688.6 L1760.2,690.0 L1761.6,691.3 L1763.0,692.6 L1764.4,694.0 L1765.8,695.3 L1767.2,696.6 L1768.6,697.8 L1770.0,699.1 L1771.4,700.4 L1772.8,701.6 L1774.2,702.8 L1775.6,704.1 L1777.0,705.3 L1778.4,706.5 L1779.8,707.7 L1781.2,708.8 L1782.6,710.0 L1784.0,711.2 L1785.4,712.3 L1786.7,713.4 L1788.1,714.6 L1789.5,715.7 L1790.9,716.8 L1792.3,717.9 L1793.7,719.0 L1795.1,720.0 L1796.5,721.1 L1797.9,722.2 L1799.3,723.2 L1800.7,724.2 L1802.1,725.3 L1803.5,726.3 L1804.9,727.3 L1806.3,728.3 L1807.7,729.3 L1809.1,730.3 L1810.5,731.3 L1811.9,732.2 L1813.3,733.2 L1814.7,734.2 L1816.1,735.1 L1817.4,736.0 L1818.8,737.0 L1820.2,737.9 L1821.6,738.8 L1823.0,739.7 L1824.4,740.6 L1825.8,741.5 L1827.2,742.4 L1828.6,743.3 L1830.0,744.2 L1831.4,745.0 L1832.8,745.9 L1834.2,746.7 L1835.6,747.6 L1837.0,748.4 L1838.4,749.3 L1839.8,750.1 L1841.2,750.9 L1842.6,751.7 L1844.0,752.5 L1845.4,753.3 L1846.8,754.1 L1848.2,754.9 L1849.5,755.7 L1850.9,756.5 L1852.3,757.2 L1853.7,758.0 L1855.1,758.8 L1856.5,759.5 L1857.9,760.3 L1859.3,761.0 L1860.7,761.8 L1862.1,762.5 L1863.5,763.2 L1864.9,763.9 L1866.3,764.6 L1867.7,765.3 L1869.1,766.1 L1870.5,766.7 L1871.9,767.4 L1873.3,768.1 L1874.7,768.8 L1876.1,769.5 L1877.5,770.2 L1878.9,770.8 L1880.3,771.5 L1881.6,772.1 L1883.0,772.8 L1884.4,773.4 L1885.8,774.1 L1887.2,774.7 L1888.6,775.3 L1890.0,776.0 L1891.4,776.6 L1892.8,777.2 L1894.2,777.8 L1895.6,778.4 L1897.0,779.0 L1898.4,779.6 L1899.8,780.2 L1901.2,780.8 L1902.6,781.4 L1904.0,782.0 L1905.4,782.6 L1906.8,783.1 L1908.2,783.7 L1909.6,784.3 L1911.0,784.8 L1912.3,785.4 L1913.7,785.9 L1915.1,786.5 L1916.5,787.0 L1917.9,787.5 L1919.3,788.1 L1920.7,788.6 L1922.1,789.1 L1923.5,789.6 L1924.9,790.1 L1926.3,790.7 L1927.7,791.2 L1929.1,791.7 L1930.5,792.2 L1931.9,792.7 L1933.3,793.1 L1934.7,793.6 L1936.1,794.1 L1937.5,794.6 L1938.9,795.1 L1940.3,795.5 L1941.7,796.0 L1943.1,796.5 L1944.4,796.9 L1945.8,797.4 L1947.2,797.8 L1948.6,798.3 L1950.0,798.7 L1951.4,799.2 L1952.8,799.6 L1954.2,800.0 L1955.6,800.4 L1957.0,800.9 L1958.4,801.3 L1959.8,801.7 L1961.2,802.1 L1962.6,802.5 L1964.0,802.9 L1965.4,803.3 L1966.8,803.7 L1968.2,804.1 L1969.6,804.5 L1971.0,804.9 L1972.4,805.3 L1973.8,805.7 L1975.1,806.0 L1976.5,806.4 L1977.9,806.8 L1979.3,807.1 L1980.7,807.5 L1982.1,807.9 L1983.5,808.2 L1984.9,808.6 L1986.3,808.9 L1987.7,809.3 L1989.1,809.6 L1990.5,809.9" stroke="#ff0000" stroke-width="1.8"/>
<path d="M1015.0,848.9 L1016.4,848.8 L1017.8,848.7 L1019.2,848.6 L1020.6,848.5 L1022.0,848.4 L1023.4,848.3 L1024.8,848.2 L1026.2,848.1 L1027.6,847.9 L1029.0,847.8 L1030.4,847.7 L1031.7,847.6 L1033.1,847.5 L1034.5,847.4 L1035.9,847.3 L1037.3,847.1 L1038.7,847.0 L1040.1,846.9 L1041.5,846.8 L1042.9,846.6 L1044.3,846.5 L1045.7,846.4 L1047.1,846.2 L1048.5,846.1 L1049.9,845.9 L1051.3,845.8 L1052.7,845.6 L1054.1,845.5 L1055.5,845.3 L1056.9,845.2 L1058.3,845.0 L1059.7,844.8 L1061.1,844.7 L1062.4,844.5 L1063.8,844.3 L1065.2,844.1 L1066.6,844.0 L1068.0,843.8 L1069.4,843.6 L1070.8,843.4 L1072.2,843.2 L1073.6,843.0 L1075.0,842.8 L1076.4,842.6 L1077.8,842.4 L1079.2,842.1 L1080.6,841.9 L1082.0,841.7 L1083.4,841.4 L1084.8,841.2 L1086.2,841.0 L1087.6,840.7 L1089.0,840.4 L1090.4,840.2 L1091.8,839.9 L1093.2,839.6 L1094.5,839.4 L1095.9,839.1 L1097.3,838.8 L1098.7,838.5 L1100.1,838.2 L1101.5,837.9 L1102.9,837.6 L1104.3,837.2 L1105.7,836.9 L1107.1,836.6 L1108.5,836.2 L1109.9,835.9 L1111.3,835.5 L1112.7,835.1 L1114.1,834.8 L1115.5,834.4 L1116.9,834.0 L1118.3,833.6 L1119.7,833.2 L1121.1,832.8 L1122.5,832.4 L1123.9,831.9 L1125.2,831.5 L1126.6,831.0 L1128.0,830.6 L1129.4,830.1 L1130.8,829.6 L1132.2,829.1 L1133.6,828.6 L1135.0,828.1 L1136.4,827.6 L1137.8,827.1 L1139.2,826.5 L1140.6,826.0 L1142.0,825.4 L1143.4,824.8 L1144.8,824.2 L1146.2,823.6 L1147.6,823.0 L1149.0,822.4 L1150.4,821.8 L1151.8,821.1 L1153.2,820.4 L1154.6,819.8 L1156.0,819.1 L1157.3,818.4 L1158.7,817.6 L1160.1,816.9 L1161.5,816.2 L1162.9,815.4 L1164.3,814.6 L1165.7,813.9 L1167.1,813.1 L1168.5,812.3 L1169.9,811.4 L1171.3,810.6 L1172.7,809.7 L1174.1,808.9 L1175.5,808.0 L1176.9,807.1 L1178.3,806.2 L1179.7,805.3 L1181.1,804.3 L1182.5,803.4 L1183.9,802.4 L1185.3,801.4 L1186.7,800.5 L1188.1,799.4 L1189.4,798.4 L1190.8,797.4 L1192.2,796.3 L1193.6,795.3 L1195.0,794.2 L1196.4,793.1 L1197.8,792.0 L1199.2,790.8 L1200.6,789.7 L1202.0,788.5 L1203.4,787.3 L1204.8,786.1 L1206.2,784.9 L1207.6,783.7 L1209.0,782.4 L1210.4,781.2 L1211.8,779.9 L1213.2,778.6 L1214.6,777.3 L1216.0,776.0 L1217.4,774.6 L1218.8,773.2 L1220.1,771.9 L1221.5,770.4 L1222.9,769.0 L1224.3,767.6 L1225.7,766.1 L1227.1,764.6 L1228.5,763.1 L1229.9,761.6 L1231.3,760.1 L1232.7,758.5 L1234.1,757.0 L1235.5,755.4 L1236.9,753.7 L1238.3,752.1 L1239.7,750.4 L1241.1,748.8 L1242.5,747.0 L1243.9,745.3 L1245.3,743.6 L1246.7,741.8 L1248.1,740.0 L1249.5,738.2 L1250.9,736.3 L1252.2,734.5 L1253.6,732.6 L1255.0,730.7 L1256.4,728.7 L1257.8,726.7 L1259.2,724.7 L1260.6,722.7 L1262.0,720.7 L1263.4,718.6 L1264.8,716.5 L1266.2,714.3 L1267.6,712.2 L1269.0,710.0 L1270.4,707.7 L1271.8,705.5 L1273.2,703.2 L1274.6,700.9 L1276.0,698.5 L1277.4,696.1 L1278.8,693.7 L1280.2,691.2 L1281.6,688.7 L1282.9,686.1 L1284.3,683.6 L1285.7,680.9 L1287.1,678.3 L1288.5,675.5 L1289.9,672.8 L1291.3,670.0 L1292.7,667.1 L1294.1,664.2 L1295.5,661.3 L1296.9,658.3 L1298.3,655.3 L1299.7,652.2 L1301.1,649.1 L1302.5,645.9 L1303.9,642.6 L1305.3,639.3 L1306.7,636.0 L1308.1,632.6 L1309.5,629.1 L1310.9,625.6 L1312.3,622.1 L1313.7,618.5 L1315.0,614.8 L1316.4,611.1 L1317.8,607.3 L1319.2,603.4 L1320.6,599.6 L1322.0,595.6 L1323.4,591.6 L1324.8,587.6 L1326.2,583.5 L1327.6,579.3 L1329.0,575.2 L1330.4,570.9 L1331.8,566.7 L1333.2,562.4 L1334.6,558.0 L1336.0,553.7 L1337.4,549.3 L1338.8,544.8 L1340.2,540.4 L1341.6,536.0 L1343.0,531.5 L1344.4,527.0 L1345.7,522.5 L1347.1,518.0 L1348.5,513.5 L1349.9,509.0 L1351.3,504.4 L1352.7,499.8 L1354.1,495.3 L1355.5,490.6 L1356.9,486.0 L1358.3,481.4 L1359.7,476.7 L1361.1,472.0 L1362.5,467.3 L1363.9,462.6 L1365.3,457.8 L1366.7,453.1 L1368.1,448.3 L1369.5,443.5 L1370.9,438.6 L1372.3,433.7 L1373.7,428.9 L1375.1,423.9 L1376.5,419.0 L1377.8,414.0 L1379.2,409.0 L1380.6,404.0 L1382.0,398.9 L1383.4,393.8 L1384.8,388.7 L1386.2,383.5 L1387.6,378.3 L1389.0,373.1 L1390.4,367.8 L1391.8,362.5 L1393.2,357.2 L1394.6,351.8 L1396.0,346.3 L1397.4,340.9 L1398.8,335.3 L1400.2,329.8 L1401.6,324.1 L1403.0,318.5 L1404.4,312.7 L1405.8,306.9 L1407.2,301.1 L1408.5,295.2 L1409.9,289.2 L1411.3,283.2 L1412.7,277.0 L1414.1,270.8 L1415.5,264.6 L1416.9,258.2 L1418.3,251.8 L1419.7,245.2 L1421.1,238.6 L1422.5,231.9 L1423.9,225.3 L1425.3,218.8 L1426.7,212.4 L1428.1,206.3 L1429.5,200.3 L1430.9,194.6 L1432.3,189.2 L1433.7,183.9 L1435.1,179.0 L1436.5,174.2 L1437.9,169.6 L1439.3,165.2 L1440.6,161.0 L1442.0,157.0 L1443.4,153.1 L1444.8,149.4 L1446.2,145.8 L1447.6,142.3 L1449.0,139.1 L1450.4,136.1 L1451.8,133.3 L1453.2,130.7 L1454.6,128.4 L1456.0,126.2 L1457.4,124.3 L1458.8,122.5 L1460.2,120.9 L1461.6,119.5 L1463.0,118.1 L1464.4,116.9 L1465.8,115.9 L1467.2,114.9 L1468.6,114.1 L1470.0,113.3 L1471.3,112.7 L1472.7,112.2 L1474.1,111.8 L1475.5,111.6 L1476.9,111.5 L1478.3,111.6 L1479.7,111.8 L1481.1,112.2 L1482.5,112.7 L1483.9,113.4 L1485.3,114.2 L1486.7,115.1 L1488.1,116.2 L1489.5,117.5 L1490.9,118.9 L1492.3,120.4 L1493.7,122.1 L1495.1,123.9 L1496.5,125.9 L1497.9,127.9 L1499.3,130.1 L1500.7,132.4 L1502.1,134.8 L1503.4,137.3 L1504.8,139.9 L1506.2,142.6 L1507.6,145.3 L1509.0,148.1 L1510.4,150.9 L1511.8,153.8 L1513.2,156.7 L1514.6,159.6 L1516.0,162.6 L1517.4,165.6 L1518.8,168.6 L1520.2,171.7 L1521.6,174.8 L1523.0,177.9 L1524.4,181.1 L1525.8,184.4 L1527.2,187.7 L1528.6,191.0 L1530.0,194.4 L1531.4,197.8 L1532.8,201.3 L1534.2,204.8 L1535.5,208.4 L1536.9,212.0 L1538.3,215.6 L1539.7,219.3 L1541.1,223.1 L1542.5,226.8 L1543.9,230.6 L1545.3,234.4 L1546.7,238.2 L1548.1,242.1 L1549.5,246.0 L1550.9,249.9 L1552.3,253.9 L1553.7,257.8 L1555.1,261.8 L1556.5,265.8 L1557.9,269.8 L1559.3,273.9 L1560.7,278.0 L1562.1,282.0 L1563.5,286.1 L1564.9,290.2 L1566.2,294.4 L1567.6,298.5 L1569.0,302.6 L1570.4,306.8 L1571.8,310.9 L1573.2,315.1 L1574.6,319.2 L1576.0,323.4 L1577.4,327.6 L1578.8,331.7 L1580.2,335.9 L1581.6,340.0 L1583.0,344.2 L1584.4,348.3 L1585.8,352.4 L1587.2,356.5 L1588.6,360.6 L1590.0,364.7 L1591.4,368.8 L1592.8,372.9 L1594.2,376.9 L1595.6,380.9 L1597.0,384.9 L1598.3,388.9 L1599.7,392.9 L1601.1,396.8 L1602.5,400.7 L1603.9,404.6 L1605.3,408.5 L1606.7,412.3 L1608.1,416.2 L1609.5,420.0 L1610.9,423.7 L1612.3,427.5 L1613.7,431.2 L1615.1,434.8 L1616.5,438.5 L1617.9,442.1 L1619.3,445.7 L1620.7,449.3 L1622.1,452.8 L1623.5,456.3 L1624.9,459.8 L1626.3,463.2 L1627.7,466.6 L1629.0,470.0 L1630.4,473.4 L1631.8,476.7 L1633.2,480.0 L1634.6,483.2 L1636.0,486.4 L1637.4,489.6 L1638.8,492.8 L1640.2,495.9 L1641.6,499.0 L1643.0,502.1 L1644.4,505.1 L1645.8,508.2 L1647.2,511.1 L1648.6,514.1 L1650.0,517.0 L1651.4,519.9 L1652.8,522.8 L1654.2,525.6 L1655.6,528.4 L1657.0,531.2 L1658.4,533.9 L1659.8,536.7 L1661.1,539.3 L1662.5,542.0 L1663.9,544.7 L1665.3,547.3 L1666.7,549.9 L1668.1,552.4 L1669.5,554.9 L1670.9,557.5 L1672.3,559.9 L1673.7,562.4 L1675.1,564.8 L1676.5,567.2 L1677.9,569.6 L1679.3,572.0 L1680.7,574.3 L1682.1,576.6 L1683.5,578.9 L1684.9,581.2 L1686.3,583.4 L1687.7,585.6 L1689.1,587.8 L1690.5,590.0 L1691.8,592.2 L1693.2,594.3 L1694.6,596.4 L1696.0,598.5 L1697.4,600.6 L1698.8,602.6 L1700.2,604.7 L1701.6,606.7 L1703.0,608.6 L1704.4,610.6 L1705.8,612.6 L1707.2,614.5 L1708.6,616.4 L1710.0,618.3 L1711.4,620.2 L1712.8,622.0 L1714.2,623.9 L1715.6,625.7 L1717.0,627.5 L1718.4,629.3 L1719.8,631.0 L1721.2,632.8 L1722.6,634.5 L1723.9,636.2 L1725.3,637.9 L1726.7,639.6 L1728.1,641.3 L1729.5,643.0 L1730.9,644.6 L1732.3,646.2 L1733.7,647.8 L1735.1,649.4 L1736.5,651.0 L1737.9,652.6 L1739.3,654.2 L1740.7,655.7 L1742.1,657.2 L1743.5,658.8 L1744.9,660.3 L1746.3,661.8 L1747.7,663.2 L1749.1,664.7 L1750.5,666.2 L1751.9,667.6 L1753.3,669.1 L1754.6,670.5 L1756.0,671.9 L1757.4,673.3 L1758.8,674.7 L1760.2,676.1 L1761.6,677.5 L1763.0,678.8 L1764.4,680.2 L1765.8,681.5 L1767.2,682.8 L1768.6,684.1 L1770.0,685.5 L1771.4,686.8 L1772.8,688.0 L1774.2,689.3 L1775.6,690.6 L1777.0,691.9 L1778.4,693.1 L1779.8,694.4 L1781.2,695.6 L1782.6,696.8 L1784.0,698.0 L1785.4,699.2 L1786.7,700.4 L1788.1,701.6 L1789.5,702.8 L1790.9,704.0 L1792.3,705.2 L1793.7,706.3 L1795.1,707.5 L1796.5,708.6 L1797.9,709.7 L1799.3,710.9 L1800.7,712.0 L1802.1,713.1 L1803.5,714.2 L1804.9,715.3 L1806.3,716.4 L1807.7,717.4 L1809.1,718.5 L1810.5,719.6 L1811.9,720.6 L1813.3,721.7 L1814.7,722.7 L1816.1,723.8 L1817.4,724.8 L1818.8,725.8 L1820.2,726.8 L1821.6,727.8 L1823.0,728.8 L1824.4,729.8 L1825.8,730.8 L1827.2,731.8 L1828.6,732.7 L1830.0,733.7 L1831.4,734.7 L1832.8,735.6 L1834.2,736.6 L1835.6,737.5 L1837.0,738.4 L1838.4,739.4 L1839.8,740.3 L1841.2,741.2 L1842.6,742.1 L1844.0,743.0 L1845.4,743.9 L1846.8,744.8 L1848.2,745.7 L1849.5,746.5 L1850.9,747.4 L1852.3,748.3 L1853.7,749.1 L1855.1,750.0 L1856.5,750.8 L1857.9,751.7 L1859.3,752.5 L1860.7,753.3 L1862.1,754.1 L1863.5,755.0 L1864.9,755.8 L1866.3,756.6 L1867.7,757.4 L1869.1,758.2 L1870.5,759.0 L1871.9,759.7 L1873.3,760.5 L1874.7,761.3 L1876.1,762.1 L1877.5,762.8 L1878.9,763.6 L1880.3,764.3 L1881.6,765.1 L1883.0,765.8 L1884.4,766.5 L1885.8,767.3 L1887.2,768.0 L1888.6,768.7 L1890.0,769.4 L1891.4,770.1 L1892.8,770.8 L1894.2,771.5 L1895.6,772.2 L1897.0,772.9 L1898.4,773.6 L1899.8,774.2 L1901.2,774.9 L1902.6,775.6 L1904.0,776.2 L1905.4,776.9 L1906.8,777.5 L1908.2,778.2 L1909.6,778.8 L1911.0,779.4 L1912.3,780.1 L1913.7,780.7 L1915.1,781.3 L1916.5,781.9 L1917.9,782.5 L1919.3,783.1 L1920.7,783.7 L1922.1,784.3 L1923.5,784.9 L1924.9,785.5 L1926.3,786.1 L1927.7,786.7 L1929.1,787.2 L1930.5,787.8 L1931.9,788.4 L1933.3,788.9 L1934.7,789.5 L1936.1,790.0 L1937.5,790.6 L1938.9,791.1 L1940.3,791.6 L1941.7,792.1 L1943.1,792.7 L1944.4,793.2 L1945.8,793.7 L1947.2,794.2 L1948.6,794.7 L1950.0,795.2 L1951.4,795.7 L1952.8,796.2 L1954.2,796.7 L1955.6,797.2 L1957.0,797.6 L1958.4,798.1 L1959.8,798.6 L1961.2,799.0 L1962.6,799.5 L1964.0,800.0 L1965.4,800.4 L1966.8,800.8 L1968.2,801.3 L1969.6,801.7 L1971.0,802.2 L1972.4,802.6 L1973.8,803.0 L1975.1,803.4 L1976.5,803.8 L1977.9,804.2 L1979.3,804.6 L1980.7,805.0 L1982.1,805.4 L1983.5,805.8 L1984.9,806.2 L1986.3,806.6 L1987.7,807.0 L1989.1,807.4 L1990.5,807.7" stroke="#00c040" stroke-width="1.8"/>
<path d="M1015.0,850.3 L1016.4,850.2 L1017.8,850.1 L1019.2,850.1 L1020.6,850.0 L1022.0,849.9 L1023.4,849.8 L1024.8,849.7 L1026.2,849.6 L1027.6,849.5 L1029.0,849.4 L1030.4,849.3 L1031.7,849.2 L1033.1,849.1 L1034.5,849.0 L1035.9,848.9 L1037.3,848.8 L1038.7,848.7 L1040.1,848.6 L1041.5,848.5 L1042.9,848.4 L1044.3,848.3 L1045.7,848.2 L1047.1,848.0 L1048.5,847.9 L1049.9,847.8 L1051.3,847.7 L1052.7,847.5 L1054.1,847.4 L1055.5,847.3 L1056.9,847.1 L1058.3,847.0 L1059.7,846.9 L1061.1,846.7 L1062.4,846.6 L1063.8,846.4 L1065.2,846.3 L1066.6,846.1 L1068.0,845.9 L1069.4,845.8 L1070.8,845.6 L1072.2,845.4 L1073.6,845.3 L1075.0,845.1 L1076.4,844.9 L1077.8,844.7 L1079.2,844.5 L1080.6,844.3 L1082.0,844.1 L1083.4,843.9 L1084.8,843.7 L1086.2,843.5 L1087.6,843.3 L1089.0,843.0 L1090.4,842.8 L1091.8,842.6 L1093.2,842.3 L1094.5,842.1 L1095.9,841.8 L1097.3,841.6 L1098.7,841.3 L1100.1,841.0 L1101.5,840.8 L1102.9,840.5 L1104.3,840.2 L1105.7,839.9 L1107.1,839.6 L1108.5,839.3 L1109.9,839.0 L1111.3,838.7 L1112.7,838.3 L1114.1,838.0 L1115.5,837.7 L1116.9,837.3 L1118.3,837.0 L1119.7,836.6 L1121.1,836.2 L1122.5,835.8 L1123.9,835.5 L1125.2,835.1 L1126.6,834.7 L1128.0,834.2 L1129.4,833.8 L1130.8,833.4 L1132.2,832.9 L1133.6,832.5 L1135.0,832.0 L1136.4,831.6 L1137.8,831.1 L1139.2,830.6 L1140.6,830.1 L1142.0,829.6 L1143.4,829.0 L1144.8,828.5 L1146.2,828.0 L1147.6,827.4 L1149.0,826.8 L1150.4,826.2 L1151.8,825.6 L1153.2,825.0 L1154.6,824.4 L1156.0,823.8 L1157.3,823.1 L1158.7,822.5 L1160.1,821.8 L1161.5,821.1 L1162.9,820.4 L1164.3,819.7 L1165.7,818.9 L1167.1,818.2 L1168.5,817.4 L1169.9,816.6 L1171.3,815.8 L1172.7,815.0 L1174.1,814.2 L1175.5,813.3 L1176.9,812.4 L1178.3,811.6 L1179.7,810.7 L1181.1,809.7 L1182.5,808.8 L1183.9,807.9 L1185.3,806.9 L1186.7,805.9 L1188.1,804.9 L1189.4,803.9 L1190.8,802.9 L1192.2,801.8 L1193.6,800.8 L1195.0,799.7 L1196.4,798.6 L1197.8,797.4 L1199.2,796.3 L1200.6,795.1 L1202.0,794.0 L1203.4,792.8 L1204.8,791.6 L1206.2,790.3 L1207.6,789.1 L1209.0,787.8 L1210.4,786.5 L1211.8,785.2 L1213.2,783.9 L1214.6,782.5 L1216.0,781.2 L1217.4,779.8 L1218.8,778.4 L1220.1,776.9 L1221.5,775.5 L1222.9,774.0 L1224.3,772.5 L1225.7,771.0 L1227.1,769.5 L1228.5,767.9 L1229.9,766.3 L1231.3,764.7 L1232.7,763.1 L1234.1,761.5 L1235.5,759.8 L1236.9,758.1 L1238.3,756.4 L1239.7,754.7 L1241.1,752.9 L1242.5,751.1 L1243.9,749.3 L1245.3,747.5 L1246.7,745.7 L1248.1,743.8 L1249.5,741.9 L1250.9,740.0 L1252.2,738.0 L1253.6,736.0 L1255.0,734.0 L1256.4,732.0 L1257.8,730.0 L1259.2,727.9 L1260.6,725.8 L1262.0,723.7 L1263.4,721.5 L1264.8,719.3 L1266.2,717.1 L1267.6,714.9 L1269.0,712.6 L1270.4,710.4 L1271.8,708.0 L1273.2,705.7 L1274.6,703.3 L1276.0,700.9 L1277.4,698.5 L1278.8,696.1 L1280.2,693.6 L1281.6,691.1 L1282.9,688.5 L1284.3,686.0 L1285.7,683.4 L1287.1,680.8 L1288.5,678.1 L1289.9,675.4 L1291.3,672.7 L1292.7,669.9 L1294.1,667.1 L1295.5,664.3 L1296.9,661.4 L1298.3,658.5 L1299.7,655.6 L1301.1,652.6 L1302.5,649.6 L1303.9,646.6 L1305.3,643.5 L1306.7,640.4 L1308.1,637.2 L1309.5,634.0 L1310.9,630.7 L1312.3,627.5 L1313.7,624.1 L1315.0,620.7 L1316.4,617.3 L1317.8,613.9 L1319.2,610.3 L1320.6,606.8 L1322.0,603.2 L1323.4,599.5 L1324.8,595.8 L1326.2,592.1 L1327.6,588.3 L1329.0,584.5 L1330.4,580.6 L1331.8,576.6 L1333.2,572.6 L1334.6,568.6 L1336.0,564.5 L1337.4,560.4 L1338.8,556.2 L1340.2,551.9 L1341.6,547.6 L1343.0,543.3 L1344.4,538.9 L1345.7,534.5 L1347.1,530.0 L1348.5,525.5 L1349.9,521.0 L1351.3,516.3 L1352.7,511.7 L1354.1,507.0 L1355.5,502.3 L1356.9,497.6 L1358.3,492.8 L1359.7,488.0 L1361.1,483.1 L1362.5,478.2 L1363.9,473.4 L1365.3,468.5 L1366.7,463.5 L1368.1,458.6 L1369.5,453.7 L1370.9,448.7 L1372.3,443.8 L1373.7,438.8 L1375.1,433.9 L1376.5,429.0 L1377.8,424.0 L1379.2,419.1 L1380.6,414.2 L1382.0,409.3 L1383.4,404.4 L1384.8,399.5 L1386.2,394.6 L1387.6,389.7 L1389.0,384.8 L1390.4,380.0 L1391.8,375.1 L1393.2,370.3 L1394.6,365.4 L1396.0,360.6 L1397.4,355.8 L1398.8,351.0 L1400.2,346.1 L1401.6,341.4 L1403.0,336.6 L1404.4,331.8 L1405.8,327.0 L1407.2,322.3 L1408.5,317.5 L1409.9,312.8 L1411.3,308.1 L1412.7,303.4 L1414.1,298.7 L1415.5,294.0 L1416.9,289.3 L1418.3,284.7 L1419.7,280.0 L1421.1,275.4 L1422.5,270.8 L1423.9,266.2 L1425.3,261.6 L1426.7,257.0 L1428.1,252.4 L1429.5,247.8 L1430.9,243.3 L1432.3,238.8 L1433.7,234.2 L1435.1,229.7 L1436.5,225.2 L1437.9,220.7 L1439.3,216.3 L1440.6,211.8 L1442.0,207.4 L1443.4,202.9 L1444.8,198.5 L1446.2,194.1 L1447.6,189.7 L1449.0,185.4 L1450.4,181.0 L1451.8,176.9 L1453.2,173.0 L1454.6,169.5 L1456.0,166.3 L1457.4,163.4 L1458.8,160.8 L1460.2,158.5 L1461.6,156.4 L1463.0,154.5 L1464.4,152.8 L1465.8,151.3 L1467.2,149.9 L1468.6,148.6 L1470.0,147.4 L1471.3,146.4 L1472.7,145.4 L1474.1,144.5 L1475.5,143.7 L1476.9,143.0 L1478.3,142.3 L1479.7,141.7 L1481.1,141.2 L1482.5,140.8 L1483.9,140.4 L1485.3,140.1 L1486.7,139.9 L1488.1,139.7 L1489.5,139.7 L1490.9,139.7 L1492.3,139.9 L1493.7,140.1 L1495.1,140.5 L1496.5,140.9 L1497.9,141.5 L1499.3,142.1 L1500.7,142.9 L1502.1,143.7 L1503.4,144.6 L1504.8,145.6 L1506.2,146.7 L1507.6,147.9 L1509.0,149.1 L1510.4,150.4 L1511.8,151.7 L1513.2,153.1 L1514.6,154.5 L1516.0,156.0 L1517.4,157.5 L1518.8,159.0 L1520.2,160.7 L1521.6,162.3 L1523.0,164.0 L1524.4,165.8 L1525.8,167.6 L1527.2,169.4 L1528.6,171.4 L1530.0,173.3 L1531.4,175.4 L1532.8,177.5 L1534.2,179.6 L1535.5,181.8 L1536.9,184.1 L1538.3,186.4 L1539.7,188.7 L1541.1,191.2 L1542.5,193.7 L1543.9,196.2 L1545.3,198.8 L1546.7,201.4 L1548.1,204.1 L1549.5,206.9 L1550.9,209.6 L1552.3,212.5 L1553.7,215.3 L1555.1,218.2 L1556.5,221.1 L1557.9,224.0 L1559.3,227.0 L1560.7,230.0 L1562.1,232.9 L1563.5,235.9 L1564.9,239.0 L1566.2,242.0 L1567.6,245.1 L1569.0,248.1 L1570.4,251.2 L1571.8,254.3 L1573.2,257.4 L1574.6,260.5 L1576.0,263.7 L1577.4,266.8 L1578.8,270.0 L1580.2,273.2 L1581.6,276.4 L1583.0,279.6 L1584.4,282.8 L1585.8,286.0 L1587.2,289.2 L1588.6,292.5 L1590.0,295.7 L1591.4,299.0 L1592.8,302.2 L1594.2,305.5 L1595.6,308.7 L1597.0,312.0 L1598.3,315.3 L1599.7,318.5 L1601.1,321.8 L1602.5,325.1 L1603.9,328.3 L1605.3,331.6 L1606.7,334.8 L1608.1,338.1 L1609.5,341.3 L1610.9,344.6 L1612.3,347.8 L1613.7,351.0 L1615.1,354.2 L1616.5,357.5 L1617.9,360.6 L1619.3,363.8 L1620.7,367.0 L1622.1,370.2 L1623.5,373.3 L1624.9,376.4 L1626.3,379.6 L1627.7,382.7 L1629.0,385.7 L1630.4,388.8 L1631.8,391.9 L1633.2,394.9 L1634.6,397.9 L1636.0,400.9 L1637.4,403.9 L1638.8,406.9 L1640.2,409.8 L1641.6,412.8 L1643.0,415.7 L1644.4,418.5 L1645.8,421.4 L1647.2,424.3 L1648.6,427.1 L1650.0,429.9 L1651.4,432.7 L1652.8,435.5 L1654.2,438.2 L1655.6,440.9 L1657.0,443.6 L1658.4,446.3 L1659.8,449.0 L1661.1,451.6 L1662.5,454.3 L1663.9,456.9 L1665.3,459.5 L1666.7,462.1 L1668.1,464.6 L1669.5,467.2 L1670.9,469.7 L1672.3,472.2 L1673.7,474.7 L1675.1,477.2 L1676.5,479.6 L1677.9,482.1 L1679.3,484.5 L1680.7,486.9 L1682.1,489.3 L1683.5,491.7 L1684.9,494.1 L1686.3,496.4 L1687.7,498.8 L1689.1,501.1 L1690.5,503.4 L1691.8,505.7 L1693.2,507.9 L1694.6,510.2 L1696.0,512.5 L1697.4,514.7 L1698.8,516.9 L1700.2,519.1 L1701.6,521.3 L1703.0,523.5 L1704.4,525.7 L1705.8,527.8 L1707.2,530.0 L1708.6,532.1 L1710.0,534.2 L1711.4,536.3 L1712.8,538.4 L1714.2,540.5 L1715.6,542.5 L1717.0,544.6 L1718.4,546.6 L1719.8,548.7 L1721.2,550.7 L1722.6,552.7 L1723.9,554.7 L1725.3,556.7 L1726.7,558.6 L1728.1,560.6 L1729.5,562.5 L1730.9,564.5 L1732.3,566.4 L1733.7,568.3 L1735.1,570.2 L1736.5,572.1 L1737.9,574.0 L1739.3,575.8 L1740.7,577.7 L1742.1,579.5 L1743.5,581.4 L1744.9,583.2 L1746.3,585.0 L1747.7,586.8 L1749.1,588.6 L1750.5,590.4 L1751.9,592.2 L1753.3,593.9 L1754.6,595.7 L1756.0,597.4 L1757.4,599.2 L1758.8,600.9 L1760.2,602.6 L1761.6,604.3 L1763.0,606.0 L1764.4,607.7 L1765.8,609.3 L1767.2,611.0 L1768.6,612.6 L1770.0,614.3 L1771.4,615.9 L1772.8,617.5 L1774.2,619.2 L1775.6,620.8 L1777.0,622.4 L1778.4,623.9 L1779.8,625.5 L1781.2,627.1 L1782.6,628.6 L1784.0,630.2 L1785.4,631.7 L1786.7,633.3 L1788.1,634.8 L1789.5,636.3 L1790.9,637.8 L1792.3,639.3 L1793.7,640.8 L1795.1,642.3 L1796.5,643.7 L1797.9,645.2 L1799.3,646.7 L1800.7,648.1 L1802.1,649.5 L1803.5,651.0 L1804.9,652.4 L1806.3,653.8 L1807.7,655.2 L1809.1,656.6 L1810.5,658.0 L1811.9,659.3 L1813.3,660.7 L1814.7,662.1 L1816.1,663.4 L1817.4,664.8 L1818.8,666.1 L1820.2,667.4 L1821.6,668.7 L1823.0,670.0 L1824.4,671.3 L1825.8,672.6 L1827.2,673.9 L1828.6,675.2 L1830.0,676.5 L1831.4,677.7 L1832.8,679.0 L1834.2,680.2 L1835.6,681.5 L1837.0,682.7 L1838.4,683.9 L1839.8,685.2 L1841.2,686.4 L1842.6,687.6 L1844.0,688.8 L1845.4,689.9 L1846.8,691.1 L1848.2,692.3 L1849.5,693.5 L1850.9,694.6 L1852.3,695.8 L1853.7,696.9 L1855.1,698.0 L1856.5,699.2 L1857.9,700.3 L1859.3,701.4 L1860.7,702.5 L1862.1,703.6 L1863.5,704.7 L1864.9,705.8 L1866.3,706.8 L1867.7,707.9 L1869.1,709.0 L1870.5,710.0 L1871.9,711.1 L1873.3,712.1 L1874.7,713.1 L1876.1,714.2 L1877.5,715.2 L1878.9,716.2 L1880.3,717.2 L1881.6,718.2 L1883.0,719.2 L1884.4,720.2 L1885.8,721.2 L1887.2,722.1 L1888.6,723.1 L1890.0,724.0 L1891.4,725.0 L1892.8,725.9 L1894.2,726.9 L1895.6,727.8 L1897.0,728.7 L1898.4,729.6 L1899.8,730.5 L1901.2,731.5 L1902.6,732.3 L1904.0,733.2 L1905.4,734.1 L1906.8,735.0 L1908.2,735.9 L1909.6,736.7 L1911.0,737.6 L1912.3,738.4 L1913.7,739.3 L1915.1,740.1 L1916.5,740.9 L1917.9,741.8 L1919.3,742.6 L1920.7,743.4 L1922.1,744.2 L1923.5,745.0 L1924.9,745.8 L1926.3,746.6 L1927.7,747.4 L1929.1,748.1 L1930.5,748.9 L1931.9,749.7 L1933.3,750.4 L1934.7,751.2 L1936.1,751.9 L1937.5,752.6 L1938.9,753.4 L1940.3,754.1 L1941.7,754.8 L1943.1,755.5 L1944.4,756.2 L1945.8,756.9 L1947.2,757.6 L1948.6,758.3 L1950.0,759.0 L1951.4,759.7 L1952.8,760.3 L1954.2,761.0 L1955.6,761.6 L1957.0,762.3 L1958.4,762.9 L1959.8,763.6 L1961.2,764.2 L1962.6,764.8 L1964.0,765.5 L1965.4,766.1 L1966.8,766.7 L1968.2,767.3 L1969.6,767.9 L1971.0,768.5 L1972.4,769.0 L1973.8,769.6 L1975.1,770.2 L1976.5,770.8 L1977.9,771.3 L1979.3,771.9 L1980.7,772.4 L1982.1,773.0 L1983.5,773.5 L1984.9,774.0 L1986.3,774.6 L1987.7,775.1 L1989.1,775.6 L1990.5,776.1" stroke="#0000a0" stroke-width="1.8"/>
<path d="M1015.0,850.7 L1016.4,850.6 L1017.8,850.5 L1019.2,850.4 L1020.6,850.3 L1022.0,850.2 L1023.4,850.1 L1024.8,850.0 L1026.2,849.9 L1027.6,849.8 L1029.0,849.7 L1030.4,849.6 L1031.7,849.5 L1033.1,849.3 L1034.5,849.2 L1035.9,849.1 L1037.3,849.0 L1038.7,848.9 L1040.1,848.8 L1041.5,848.6 L1042.9,848.5 L1044.3,848.4 L1045.7,848.3 L1047.1,848.1 L1048.5,848.0 L1049.9,847.9 L1051.3,847.7 L1052.7,847.6 L1054.1,847.4 L1055.5,847.3 L1056.9,847.1 L1058.3,847.0 L1059.7,846.8 L1061.1,846.7 L1062.4,846.5 L1063.8,846.3 L1065.2,846.1 L1066.6,846.0 L1068.0,845.8 L1069.4,845.6 L1070.8,845.4 L1072.2,845.2 L1073.6,845.0 L1075.0,844.8 L1076.4,844.6 L1077.8,844.4 L1079.2,844.2 L1080.6,844.0 L1082.0,843.8 L1083.4,843.6 L1084.8,843.3 L1086.2,843.1 L1087.6,842.9 L1089.0,842.6 L1090.4,842.4 L1091.8,842.1 L1093.2,841.9 L1094.5,841.6 L1095.9,841.3 L1097.3,841.1 L1098.7,840.8 L1100.1,840.5 L1101.5,840.2 L1102.9,839.9 L1104.3,839.6 L1105.7,839.3 L1107.1,839.0 L1108.5,838.6 L1109.9,838.3 L1111.3,838.0 L1112.7,837.6 L1114.1,837.3 L1115.5,836.9 L1116.9,836.5 L1118.3,836.2 L1119.7,835.8 L1121.1,835.4 L1122.5,835.0 L1123.9,834.6 L1125.2,834.2 L1126.6,833.8 L1128.0,833.3 L1129.4,832.9 L1130.8,832.4 L1132.2,832.0 L1133.6,831.5 L1135.0,831.0 L1136.4,830.5 L1137.8,830.0 L1139.2,829.5 L1140.6,829.0 L1142.0,828.5 L1143.4,828.0 L1144.8,827.4 L1146.2,826.8 L1147.6,826.3 L1149.0,825.7 L1150.4,825.1 L1151.8,824.5 L1153.2,823.8 L1154.6,823.2 L1156.0,822.6 L1157.3,821.9 L1158.7,821.2 L1160.1,820.5 L1161.5,819.8 L1162.9,819.1 L1164.3,818.4 L1165.7,817.6 L1167.1,816.9 L1168.5,816.1 L1169.9,815.3 L1171.3,814.5 L1172.7,813.7 L1174.1,812.9 L1175.5,812.0 L1176.9,811.1 L1178.3,810.3 L1179.7,809.4 L1181.1,808.5 L1182.5,807.5 L1183.9,806.6 L1185.3,805.7 L1186.7,804.7 L1188.1,803.7 L1189.4,802.7 L1190.8,801.7 L1192.2,800.7 L1193.6,799.6 L1195.0,798.6 L1196.4,797.5 L1197.8,796.4 L1199.2,795.3 L1200.6,794.2 L1202.0,793.0 L1203.4,791.8 L1204.8,790.7 L1206.2,789.5 L1207.6,788.3 L1209.0,787.0 L1210.4,785.8 L1211.8,784.5 L1213.2,783.3 L1214.6,782.0 L1216.0,780.6 L1217.4,779.3 L1218.8,778.0 L1220.1,776.6 L1221.5,775.2 L1222.9,773.8 L1224.3,772.4 L1225.7,770.9 L1227.1,769.5 L1228.5,768.0 L1229.9,766.5 L1231.3,765.0 L1232.7,763.5 L1234.1,761.9 L1235.5,760.3 L1236.9,758.8 L1238.3,757.1 L1239.7,755.5 L1241.1,753.9 L1242.5,752.2 L1243.9,750.5 L1245.3,748.8 L1246.7,747.1 L1248.1,745.3 L1249.5,743.6 L1250.9,741.8 L1252.2,740.0 L1253.6,738.1 L1255.0,736.3 L1256.4,734.4 L1257.8,732.5 L1259.2,730.6 L1260.6,728.7 L1262.0,726.8 L1263.4,724.8 L1264.8,722.8 L1266.2,720.8 L1267.6,718.7 L1269.0,716.7 L1270.4,714.6 L1271.8,712.5 L1273.2,710.4 L1274.6,708.3 L1276.0,706.1 L1277.4,703.9 L1278.8,701.7 L1280.2,699.5 L1281.6,697.2 L1282.9,695.0 L1284.3,692.7 L1285.7,690.4 L1287.1,688.0 L1288.5,685.7 L1289.9,683.3 L1291.3,680.9 L1292.7,678.5 L1294.1,676.0 L1295.5,673.6 L1296.9,671.1 L1298.3,668.6 L1299.7,666.0 L1301.1,663.5 L1302.5,660.9 L1303.9,658.2 L1305.3,655.6 L1306.7,652.9 L1308.1,650.2 L1309.5,647.5 L1310.9,644.7 L1312.3,642.0 L1313.7,639.2 L1315.0,636.3 L1316.4,633.4 L1317.8,630.6 L1319.2,627.6 L1320.6,624.7 L1322.0,621.7 L1323.4,618.7 L1324.8,615.6 L1326.2,612.5 L1327.6,609.4 L1329.0,606.3 L1330.4,603.1 L1331.8,599.9 L1333.2,596.6 L1334.6,593.4 L1336.0,590.0 L1337.4,586.7 L1338.8,583.3 L1340.2,579.9 L1341.6,576.4 L1343.0,572.9 L1344.4,569.4 L1345.7,565.9 L1347.1,562.3 L1348.5,558.6 L1349.9,555.0 L1351.3,551.2 L1352.7,547.5 L1354.1,543.7 L1355.5,539.9 L1356.9,536.0 L1358.3,532.2 L1359.7,528.2 L1361.1,524.3 L1362.5,520.3 L1363.9,516.2 L1365.3,512.1 L1366.7,508.0 L1368.1,503.9 L1369.5,499.7 L1370.9,495.5 L1372.3,491.2 L1373.7,487.0 L1375.1,482.7 L1376.5,478.3 L1377.8,473.9 L1379.2,469.5 L1380.6,465.1 L1382.0,460.6 L1383.4,456.2 L1384.8,451.7 L1386.2,447.1 L1387.6,442.6 L1389.0,438.0 L1390.4,433.4 L1391.8,428.8 L1393.2,424.2 L1394.6,419.6 L1396.0,414.9 L1397.4,410.3 L1398.8,405.6 L1400.2,400.9 L1401.6,396.2 L1403.0,391.5 L1404.4,386.8 L1405.8,382.1 L1407.2,377.4 L1408.5,372.7 L1409.9,368.1 L1411.3,363.4 L1412.7,358.7 L1414.1,354.0 L1415.5,349.3 L1416.9,344.7 L1418.3,340.0 L1419.7,335.4 L1421.1,330.8 L1422.5,326.2 L1423.9,321.6 L1425.3,317.0 L1426.7,312.5 L1428.1,308.0 L1429.5,303.5 L1430.9,299.0 L1432.3,294.5 L1433.7,290.1 L1435.1,285.7 L1436.5,281.3 L1437.9,277.0 L1439.3,272.6 L1440.6,268.3 L1442.0,264.1 L1443.4,259.8 L1444.8,255.6 L1446.2,251.4 L1447.6,247.3 L1449.0,243.2 L1450.4,239.1 L1451.8,235.0 L1453.2,231.0 L1454.6,227.0 L1456.0,223.0 L1457.4,219.1 L1458.8,215.2 L1460.2,211.3 L1461.6,207.5 L1463.0,203.6 L1464.4,199.9 L1465.8,196.1 L1467.2,192.4 L1468.6,188.7 L1470.0,185.0 L1471.3,181.4 L1472.7,177.9 L1474.1,174.6 L1475.5,171.5 L1476.9,168.6 L1478.3,165.9 L1479.7,163.5 L1481.1,161.2 L1482.5,159.2 L1483.9,157.4 L1485.3,155.8 L1486.7,154.3 L1488.1,152.9 L1489.5,151.7 L1490.9,150.6 L1492.3,149.6 L1493.7,148.8 L1495.1,148.0 L1496.5,147.3 L1497.9,146.7 L1499.3,146.2 L1500.7,145.7 L1502.1,145.3 L1503.4,144.9 L1504.8,144.7 L1506.2,144.4 L1507.6,144.3 L1509.0,144.2 L1510.4,144.2 L1511.8,144.2 L1513.2,144.3 L1514.6,144.4 L1516.0,144.7 L1517.4,145.0 L1518.8,145.4 L1520.2,145.9 L1521.6,146.4 L1523.0,147.1 L1524.4,147.9 L1525.8,148.8 L1527.2,149.9 L1528.6,151.0 L1530.0,152.3 L1531.4,153.7 L1532.8,155.2 L1534.2,156.8 L1535.5,158.6 L1536.9,160.4 L1538.3,162.4 L1539.7,164.5 L1541.1,166.8 L1542.5,169.2 L1543.9,171.7 L1545.3,174.4 L1546.7,177.2 L1548.1,180.1 L1549.5,183.1 L1550.9,186.3 L1552.3,189.5 L1553.7,192.7 L1555.1,196.0 L1556.5,199.4 L1557.9,202.8 L1559.3,206.2 L1560.7,209.7 L1562.1,213.2 L1563.5,216.8 L1564.9,220.3 L1566.2,223.9 L1567.6,227.4 L1569.0,231.0 L1570.4,234.6 L1571.8,238.1 L1573.2,241.7 L1574.6,245.2 L1576.0,248.8 L1577.4,252.3 L1578.8,255.9 L1580.2,259.4 L1581.6,263.0 L1583.0,266.5 L1584.4,270.0 L1585.8,273.6 L1587.2,277.1 L1588.6,280.6 L1590.0,284.1 L1591.4,287.6 L1592.8,291.1 L1594.2,294.6 L1595.6,298.1 L1597.0,301.6 L1598.3,305.1 L1599.7,308.6 L1601.1,312.0 L1602.5,315.5 L1603.9,318.9 L1605.3,322.4 L1606.7,325.8 L1608.1,329.2 L1609.5,332.7 L1610.9,336.1 L1612.3,339.5 L1613.7,342.9 L1615.1,346.2 L1616.5,349.6 L1617.9,353.0 L1619.3,356.4 L1620.7,359.7 L1622.1,363.0 L1623.5,366.4 L1624.9,369.7 L1626.3,373.0 L1627.7,376.3 L1629.0,379.6 L1630.4,382.9 L1631.8,386.2 L1633.2,389.4 L1634.6,392.7 L1636.0,395.9 L1637.4,399.2 L1638.8,402.4 L1640.2,405.6 L1641.6,408.8 L1643.0,412.0 L1644.4,415.1 L1645.8,418.3 L1647.2,421.5 L1648.6,424.6 L1650.0,427.8 L1651.4,430.9 L1652.8,434.0 L1654.2,437.1 L1655.6,440.2 L1657.0,443.3 L1658.4,446.3 L1659.8,449.4 L1661.1,452.4 L1662.5,455.4 L1663.9,458.5 L1665.3,461.5 L1666.7,464.4 L1668.1,467.4 L1669.5,470.4 L1670.9,473.3 L1672.3,476.2 L1673.7,479.2 L1675.1,482.1 L1676.5,484.9 L1677.9,487.8 L1679.3,490.6 L1680.7,493.5 L1682.1,496.3 L1683.5,499.1 L1684.9,501.9 L1686.3,504.6 L1687.7,507.4 L1689.1,510.1 L1690.5,512.8 L1691.8,515.5 L1693.2,518.2 L1694.6,520.8 L1696.0,523.5 L1697.4,526.1 L1698.8,528.7 L1700.2,531.3 L1701.6,533.9 L1703.0,536.4 L1704.4,539.0 L1705.8,541.5 L1707.2,544.0 L1708.6,546.5 L1710.0,548.9 L1711.4,551.4 L1712.8,553.8 L1714.2,556.2 L1715.6,558.6 L1717.0,561.0 L1718.4,563.3 L1719.8,565.7 L1721.2,568.0 L1722.6,570.3 L1723.9,572.6 L1725.3,574.8 L1726.7,577.1 L1728.1,579.3 L1729.5,581.5 L1730.9,583.7 L1732.3,585.9 L1733.7,588.1 L1735.1,590.2 L1736.5,592.3 L1737.9,594.5 L1739.3,596.5 L1740.7,598.6 L1742.1,600.7 L1743.5,602.7 L1744.9,604.8 L1746.3,606.8 L1747.7,608.8 L1749.1,610.8 L1750.5,612.7 L1751.9,614.7 L1753.3,616.6 L1754.6,618.5 L1756.0,620.4 L1757.4,622.3 L1758.8,624.2 L1760.2,626.0 L1761.6,627.9 L1763.0,629.7 L1764.4,631.5 L1765.8,633.3 L1767.2,635.1 L1768.6,636.8 L1770.0,638.6 L1771.4,640.3 L1772.8,642.0 L1774.2,643.7 L1775.6,645.4 L1777.0,647.1 L1778.4,648.7 L1779.8,650.4 L1781.2,652.0 L1782.6,653.6 L1784.0,655.2 L1785.4,656.8 L1786.7,658.4 L1788.1,660.0 L1789.5,661.5 L1790.9,663.1 L1792.3,664.6 L1793.7,666.1 L1795.1,667.6 L1796.5,669.1 L1797.9,670.5 L1799.3,672.0 L1800.7,673.5 L1802.1,674.9 L1803.5,676.3 L1804.9,677.7 L1806.3,679.1 L1807.7,680.5 L1809.1,681.9 L1810.5,683.2 L1811.9,684.6 L1813.3,685.9 L1814.7,687.2 L1816.1,688.5 L1817.4,689.8 L1818.8,691.1 L1820.2,692.4 L1821.6,693.7 L1823.0,694.9 L1824.4,696.2 L1825.8,697.4 L1827.2,698.6 L1828.6,699.8 L1830.0,701.0 L1831.4,702.2 L1832.8,703.4 L1834.2,704.6 L1835.6,705.7 L1837.0,706.9 L1838.4,708.0 L1839.8,709.1 L1841.2,710.3 L1842.6,711.4 L1844.0,712.5 L1845.4,713.6 L1846.8,714.6 L1848.2,715.7 L1849.5,716.8 L1850.9,717.8 L1852.3,718.9 L1853.7,719.9 L1855.1,721.0 L1856.5,722.0 L1857.9,723.0 L1859.3,724.0 L1860.7,725.0 L1862.1,726.0 L1863.5,727.0 L1864.9,727.9 L1866.3,728.9 L1867.7,729.9 L1869.1,730.8 L1870.5,731.8 L1871.9,732.7 L1873.3,733.6 L1874.7,734.6 L1876.1,735.5 L1877.5,736.4 L1878.9,737.3 L1880.3,738.2 L1881.6,739.1 L1883.0,739.9 L1884.4,740.8 L1885.8,741.7 L1887.2,742.6 L1888.6,743.4 L1890.0,744.3 L1891.4,745.1 L1892.8,745.9 L1894.2,746.8 L1895.6,747.6 L1897.0,748.4 L1898.4,749.2 L1899.8,750.0 L1901.2,750.8 L1902.6,751.6 L1904.0,752.4 L1905.4,753.2 L1906.8,754.0 L1908.2,754.7 L1909.6,755.5 L1911.0,756.3 L1912.3,757.0 L1913.7,757.8 L1915.1,758.5 L1916.5,759.2 L1917.9,760.0 L1919.3,760.7 L1920.7,761.4 L1922.1,762.1 L1923.5,762.8 L1924.9,763.5 L1926.3,764.2 L1927.7,764.9 L1929.1,765.6 L1930.5,766.3 L1931.9,767.0 L1933.3,767.7 L1934.7,768.3 L1936.1,769.0 L1937.5,769.7 L1938.9,770.3 L1940.3,771.0 L1941.7,771.6 L1943.1,772.2 L1944.4,772.9 L1945.8,773.5 L1947.2,774.1 L1948.6,774.8 L1950.0,775.4 L1951.4,776.0 L1952.8,776.6 L1954.2,777.2 L1955.6,777.8 L1957.0,778.4 L1958.4,779.0 L1959.8,779.6 L1961.2,780.1 L1962.6,780.7 L1964.0,781.3 L1965.4,781.8 L1966.8,782.4 L1968.2,783.0 L1969.6,783.5 L1971.0,784.1 L1972.4,784.6 L1973.8,785.2 L1975.1,785.7 L1976.5,786.2 L1977.9,786.8 L1979.3,787.3 L1980.7,787.8 L1982.1,788.3 L1983.5,788.8 L1984.9,789.3 L1986.3,789.8 L1987.7,790.3 L1989.1,790.8 L1990.5,791.3" stroke="#00e0f0" stroke-width="1.8"/>
<path d="M1015.0,855.8 L1016.4,855.7 L1017.8,855.6 L1019.2,855.5 L1020.6,855.5 L1022.0,855.4 L1023.4,855.3 L1024.8,855.2 L1026.2,855.1 L1027.6,855.0 L1029.0,854.9 L1030.4,854.8 L1031.7,854.7 L1033.1,854.6 L1034.5,854.5 L1035.9,854.4 L1037.3,854.3 L1038.7,854.2 L1040.1,854.1 L1041.5,854.0 L1042.9,853.8 L1044.3,853.7 L1045.7,853.6 L1047.1,853.4 L1048.5,853.3 L1049.9,853.2 L1051.3,853.0 L1052.7,852.9 L1054.1,852.7 L1055.5,852.6 L1056.9,852.4 L1058.3,852.3 L1059.7,852.1 L1061.1,852.0 L1062.4,851.8 L1063.8,851.6 L1065.2,851.4 L1066.6,851.3 L1068.0,851.1 L1069.4,850.9 L1070.8,850.7 L1072.2,850.5 L1073.6,850.3 L1075.0,850.1 L1076.4,849.9 L1077.8,849.7 L1079.2,849.5 L1080.6,849.3 L1082.0,849.0 L1083.4,848.8 L1084.8,848.6 L1086.2,848.3 L1087.6,848.1 L1089.0,847.9 L1090.4,847.6 L1091.8,847.3 L1093.2,847.1 L1094.5,846.8 L1095.9,846.6 L1097.3,846.3 L1098.7,846.0 L1100.1,845.7 L1101.5,845.4 L1102.9,845.1 L1104.3,844.8 L1105.7,844.5 L1107.1,844.2 L1108.5,843.9 L1109.9,843.6 L1111.3,843.3 L1112.7,842.9 L1114.1,842.6 L1115.5,842.2 L1116.9,841.9 L1118.3,841.5 L1119.7,841.2 L1121.1,840.8 L1122.5,840.4 L1123.9,840.1 L1125.2,839.7 L1126.6,839.3 L1128.0,838.9 L1129.4,838.5 L1130.8,838.1 L1132.2,837.6 L1133.6,837.2 L1135.0,836.8 L1136.4,836.3 L1137.8,835.9 L1139.2,835.4 L1140.6,835.0 L1142.0,834.5 L1143.4,834.0 L1144.8,833.5 L1146.2,833.1 L1147.6,832.6 L1149.0,832.0 L1150.4,831.5 L1151.8,831.0 L1153.2,830.5 L1154.6,829.9 L1156.0,829.4 L1157.3,828.8 L1158.7,828.3 L1160.1,827.7 L1161.5,827.1 L1162.9,826.5 L1164.3,825.9 L1165.7,825.3 L1167.1,824.7 L1168.5,824.0 L1169.9,823.4 L1171.3,822.8 L1172.7,822.1 L1174.1,821.4 L1175.5,820.7 L1176.9,820.0 L1178.3,819.3 L1179.7,818.6 L1181.1,817.9 L1182.5,817.2 L1183.9,816.4 L1185.3,815.7 L1186.7,814.9 L1188.1,814.1 L1189.4,813.3 L1190.8,812.5 L1192.2,811.7 L1193.6,810.9 L1195.0,810.0 L1196.4,809.2 L1197.8,808.3 L1199.2,807.4 L1200.6,806.5 L1202.0,805.6 L1203.4,804.7 L1204.8,803.8 L1206.2,802.8 L1207.6,801.8 L1209.0,800.9 L1210.4,799.9 L1211.8,798.9 L1213.2,797.9 L1214.6,796.8 L1216.0,795.8 L1217.4,794.7 L1218.8,793.6 L1220.1,792.5 L1221.5,791.4 L1222.9,790.3 L1224.3,789.2 L1225.7,788.0 L1227.1,786.9 L1228.5,785.7 L1229.9,784.5 L1231.3,783.3 L1232.7,782.1 L1234.1,780.8 L1235.5,779.6 L1236.9,778.3 L1238.3,777.0 L1239.7,775.7 L1241.1,774.4 L1242.5,773.1 L1243.9,771.8 L1245.3,770.4 L1246.7,769.0 L1248.1,767.6 L1249.5,766.2 L1250.9,764.8 L1252.2,763.4 L1253.6,761.9 L1255.0,760.5 L1256.4,759.0 L1257.8,757.5 L1259.2,755.9 L1260.6,754.4 L1262.0,752.9 L1263.4,751.3 L1264.8,749.7 L1266.2,748.1 L1267.6,746.5 L1269.0,744.8 L1270.4,743.2 L1271.8,741.5 L1273.2,739.8 L1274.6,738.1 L1276.0,736.4 L1277.4,734.6 L1278.8,732.9 L1280.2,731.1 L1281.6,729.3 L1282.9,727.4 L1284.3,725.6 L1285.7,723.7 L1287.1,721.9 L1288.5,720.0 L1289.9,718.0 L1291.3,716.1 L1292.7,714.1 L1294.1,712.2 L1295.5,710.2 L1296.9,708.1 L1298.3,706.1 L1299.7,704.0 L1301.1,701.9 L1302.5,699.8 L1303.9,697.7 L1305.3,695.5 L1306.7,693.3 L1308.1,691.1 L1309.5,688.9 L1310.9,686.6 L1312.3,684.4 L1313.7,682.1 L1315.0,679.7 L1316.4,677.4 L1317.8,675.0 L1319.2,672.6 L1320.6,670.1 L1322.0,667.7 L1323.4,665.2 L1324.8,662.7 L1326.2,660.1 L1327.6,657.5 L1329.0,654.9 L1330.4,652.3 L1331.8,649.6 L1333.2,646.9 L1334.6,644.2 L1336.0,641.4 L1337.4,638.7 L1338.8,635.8 L1340.2,633.0 L1341.6,630.1 L1343.0,627.2 L1344.4,624.2 L1345.7,621.3 L1347.1,618.2 L1348.5,615.2 L1349.9,612.1 L1351.3,609.0 L1352.7,605.9 L1354.1,602.7 L1355.5,599.5 L1356.9,596.2 L1358.3,593.0 L1359.7,589.7 L1361.1,586.3 L1362.5,583.0 L1363.9,579.6 L1365.3,576.1 L1366.7,572.7 L1368.1,569.2 L1369.5,565.7 L1370.9,562.2 L1372.3,558.6 L1373.7,555.0 L1375.1,551.4 L1376.5,547.8 L1377.8,544.1 L1379.2,540.4 L1380.6,536.7 L1382.0,533.0 L1383.4,529.3 L1384.8,525.6 L1386.2,521.8 L1387.6,518.0 L1389.0,514.2 L1390.4,510.4 L1391.8,506.5 L1393.2,502.7 L1394.6,498.8 L1396.0,494.9 L1397.4,490.9 L1398.8,487.0 L1400.2,483.0 L1401.6,479.0 L1403.0,475.0 L1404.4,471.0 L1405.8,467.0 L1407.2,462.9 L1408.5,458.8 L1409.9,454.7 L1411.3,450.5 L1412.7,446.4 L1414.1,442.2 L1415.5,438.0 L1416.9,433.8 L1418.3,429.5 L1419.7,425.3 L1421.1,421.0 L1422.5,416.6 L1423.9,412.3 L1425.3,407.9 L1426.7,403.6 L1428.1,399.2 L1429.5,394.7 L1430.9,390.3 L1432.3,385.8 L1433.7,381.3 L1435.1,376.7 L1436.5,372.2 L1437.9,367.6 L1439.3,363.0 L1440.6,358.4 L1442.0,353.7 L1443.4,349.0 L1444.8,344.3 L1446.2,339.6 L1447.6,334.8 L1449.0,330.0 L1450.4,325.2 L1451.8,320.4 L1453.2,315.5 L1454.6,310.6 L1456.0,305.7 L1457.4,300.8 L1458.8,295.8 L1460.2,290.8 L1461.6,285.8 L1463.0,280.7 L1464.4,275.6 L1465.8,270.5 L1467.2,265.3 L1468.6,260.2 L1470.0,255.0 L1471.3,249.7 L1472.7,244.5 L1474.1,239.2 L1475.5,234.0 L1476.9,228.9 L1478.3,224.1 L1479.7,219.5 L1481.1,215.1 L1482.5,211.1 L1483.9,207.3 L1485.3,203.8 L1486.7,200.5 L1488.1,197.4 L1489.5,194.6 L1490.9,191.9 L1492.3,189.4 L1493.7,187.0 L1495.1,184.8 L1496.5,182.7 L1497.9,180.8 L1499.3,178.9 L1500.7,177.1 L1502.1,175.5 L1503.4,173.9 L1504.8,172.4 L1506.2,170.9 L1507.6,169.6 L1509.0,168.3 L1510.4,167.0 L1511.8,165.9 L1513.2,164.9 L1514.6,164.0 L1516.0,163.2 L1517.4,162.5 L1518.8,162.0 L1520.2,161.7 L1521.6,161.5 L1523.0,161.4 L1524.4,161.6 L1525.8,162.0 L1527.2,162.5 L1528.6,163.1 L1530.0,163.9 L1531.4,164.9 L1532.8,165.9 L1534.2,167.0 L1535.5,168.3 L1536.9,169.6 L1538.3,170.9 L1539.7,172.4 L1541.1,173.9 L1542.5,175.4 L1543.9,177.0 L1545.3,178.8 L1546.7,180.5 L1548.1,182.4 L1549.5,184.4 L1550.9,186.4 L1552.3,188.5 L1553.7,190.8 L1555.1,193.1 L1556.5,195.6 L1557.9,198.2 L1559.3,200.9 L1560.7,203.8 L1562.1,206.8 L1563.5,209.9 L1564.9,213.1 L1566.2,216.5 L1567.6,220.0 L1569.0,223.6 L1570.4,227.3 L1571.8,231.1 L1573.2,235.0 L1574.6,238.9 L1576.0,242.8 L1577.4,246.7 L1578.8,250.5 L1580.2,254.3 L1581.6,258.0 L1583.0,261.7 L1584.4,265.4 L1585.8,269.1 L1587.2,272.7 L1588.6,276.3 L1590.0,279.8 L1591.4,283.4 L1592.8,286.9 L1594.2,290.4 L1595.6,293.9 L1597.0,297.4 L1598.3,300.8 L1599.7,304.3 L1601.1,307.7 L1602.5,311.1 L1603.9,314.6 L1605.3,318.0 L1606.7,321.4 L1608.1,324.8 L1609.5,328.2 L1610.9,331.7 L1612.3,335.1 L1613.7,338.5 L1615.1,342.0 L1616.5,345.4 L1617.9,348.9 L1619.3,352.3 L1620.7,355.8 L1622.1,359.3 L1623.5,362.8 L1624.9,366.2 L1626.3,369.7 L1627.7,373.2 L1629.0,376.7 L1630.4,380.2 L1631.8,383.7 L1633.2,387.2 L1634.6,390.7 L1636.0,394.1 L1637.4,397.6 L1638.8,401.1 L1640.2,404.6 L1641.6,408.0 L1643.0,411.5 L1644.4,415.0 L1645.8,418.4 L1647.2,421.8 L1648.6,425.3 L1650.0,428.7 L1651.4,432.1 L1652.8,435.5 L1654.2,438.9 L1655.6,442.3 L1657.0,445.7 L1658.4,449.0 L1659.8,452.4 L1661.1,455.7 L1662.5,459.0 L1663.9,462.4 L1665.3,465.7 L1666.7,468.9 L1668.1,472.2 L1669.5,475.4 L1670.9,478.7 L1672.3,481.9 L1673.7,485.1 L1675.1,488.3 L1676.5,491.5 L1677.9,494.6 L1679.3,497.7 L1680.7,500.9 L1682.1,504.0 L1683.5,507.0 L1684.9,510.1 L1686.3,513.1 L1687.7,516.2 L1689.1,519.2 L1690.5,522.1 L1691.8,525.1 L1693.2,528.1 L1694.6,531.0 L1696.0,533.9 L1697.4,536.8 L1698.8,539.6 L1700.2,542.5 L1701.6,545.3 L1703.0,548.1 L1704.4,550.9 L1705.8,553.6 L1707.2,556.4 L1708.6,559.1 L1710.0,561.8 L1711.4,564.4 L1712.8,567.1 L1714.2,569.7 L1715.6,572.3 L1717.0,574.9 L1718.4,577.4 L1719.8,580.0 L1721.2,582.5 L1722.6,584.9 L1723.9,587.4 L1725.3,589.8 L1726.7,592.2 L1728.1,594.6 L1729.5,597.0 L1730.9,599.3 L1732.3,601.7 L1733.7,603.9 L1735.1,606.2 L1736.5,608.5 L1737.9,610.7 L1739.3,612.9 L1740.7,615.1 L1742.1,617.2 L1743.5,619.4 L1744.9,621.5 L1746.3,623.6 L1747.7,625.7 L1749.1,627.7 L1750.5,629.8 L1751.9,631.8 L1753.3,633.8 L1754.6,635.7 L1756.0,637.7 L1757.4,639.6 L1758.8,641.5 L1760.2,643.4 L1761.6,645.3 L1763.0,647.2 L1764.4,649.0 L1765.8,650.8 L1767.2,652.6 L1768.6,654.4 L1770.0,656.1 L1771.4,657.9 L1772.8,659.6 L1774.2,661.3 L1775.6,663.0 L1777.0,664.7 L1778.4,666.3 L1779.8,667.9 L1781.2,669.6 L1782.6,671.2 L1784.0,672.8 L1785.4,674.3 L1786.7,675.9 L1788.1,677.4 L1789.5,678.9 L1790.9,680.5 L1792.3,681.9 L1793.7,683.4 L1795.1,684.9 L1796.5,686.3 L1797.9,687.8 L1799.3,689.2 L1800.7,690.6 L1802.1,692.0 L1803.5,693.4 L1804.9,694.7 L1806.3,696.1 L1807.7,697.4 L1809.1,698.7 L1810.5,700.0 L1811.9,701.3 L1813.3,702.6 L1814.7,703.9 L1816.1,705.1 L1817.4,706.4 L1818.8,707.6 L1820.2,708.8 L1821.6,710.1 L1823.0,711.3 L1824.4,712.5 L1825.8,713.6 L1827.2,714.8 L1828.6,716.0 L1830.0,717.1 L1831.4,718.3 L1832.8,719.4 L1834.2,720.5 L1835.6,721.6 L1837.0,722.7 L1838.4,723.8 L1839.8,724.9 L1841.2,726.0 L1842.6,727.1 L1844.0,728.1 L1845.4,729.2 L1846.8,730.2 L1848.2,731.2 L1849.5,732.3 L1850.9,733.3 L1852.3,734.3 L1853.7,735.3 L1855.1,736.3 L1856.5,737.3 L1857.9,738.2 L1859.3,739.2 L1860.7,740.2 L1862.1,741.1 L1863.5,742.1 L1864.9,743.0 L1866.3,743.9 L1867.7,744.9 L1869.1,745.8 L1870.5,746.7 L1871.9,747.6 L1873.3,748.5 L1874.7,749.4 L1876.1,750.3 L1877.5,751.1 L1878.9,752.0 L1880.3,752.9 L1881.6,753.7 L1883.0,754.6 L1884.4,755.4 L1885.8,756.2 L1887.2,757.1 L1888.6,757.9 L1890.0,758.7 L1891.4,759.5 L1892.8,760.3 L1894.2,761.1 L1895.6,761.9 L1897.0,762.7 L1898.4,763.5 L1899.8,764.2 L1901.2,765.0 L1902.6,765.8 L1904.0,766.5 L1905.4,767.3 L1906.8,768.0 L1908.2,768.7 L1909.6,769.5 L1911.0,770.2 L1912.3,770.9 L1913.7,771.6 L1915.1,772.3 L1916.5,773.0 L1917.9,773.7 L1919.3,774.4 L1920.7,775.1 L1922.1,775.8 L1923.5,776.4 L1924.9,777.1 L1926.3,777.8 L1927.7,778.4 L1929.1,779.1 L1930.5,779.7 L1931.9,780.3 L1933.3,781.0 L1934.7,781.6 L1936.1,782.2 L1937.5,782.8 L1938.9,783.5 L1940.3,784.1 L1941.7,784.7 L1943.1,785.3 L1944.4,785.9 L1945.8,786.4 L1947.2,787.0 L1948.6,787.6 L1950.0,788.2 L1951.4,788.7 L1952.8,789.3 L1954.2,789.9 L1955.6,790.4 L1957.0,791.0 L1958.4,791.5 L1959.8,792.0 L1961.2,792.6 L1962.6,793.1 L1964.0,793.6 L1965.4,794.2 L1966.8,794.7 L1968.2,795.2 L1969.6,795.7 L1971.0,796.2 L1972.4,796.7 L1973.8,797.2 L1975.1,797.7 L1976.5,798.2 L1977.9,798.7 L1979.3,799.1 L1980.7,799.6 L1982.1,800.1 L1983.5,800.5 L1984.9,801.0 L1986.3,801.5 L1987.7,801.9 L1989.1,802.4 L1990.5,802.8" stroke="#ff00ff" stroke-width="1.8"/>
<path d="M1015.0,855.0 L1016.4,854.9 L1017.8,854.9 L1019.2,854.8 L1020.6,854.7 L1022.0,854.6 L1023.4,854.5 L1024.8,854.5 L1026.2,854.4 L1027.6,854.3 L1029.0,854.2 L1030.4,854.1 L1031.7,854.0 L1033.1,853.9 L1034.5,853.8 L1035.9,853.7 L1037.3,853.6 L1038.7,853.5 L1040.1,853.3 L1041.5,853.2 L1042.9,853.1 L1044.3,853.0 L1045.7,852.9 L1047.1,852.7 L1048.5,852.6 L1049.9,852.5 L1051.3,852.3 L1052.7,852.2 L1054.1,852.1 L1055.5,851.9 L1056.9,851.8 L1058.3,851.6 L1059.7,851.5 L1061.1,851.3 L1062.4,851.1 L1063.8,851.0 L1065.2,850.8 L1066.6,850.6 L1068.0,850.5 L1069.4,850.3 L1070.8,850.1 L1072.2,849.9 L1073.6,849.7 L1075.0,849.6 L1076.4,849.4 L1077.8,849.2 L1079.2,849.0 L1080.6,848.8 L1082.0,848.5 L1083.4,848.3 L1084.8,848.1 L1086.2,847.9 L1087.6,847.7 L1089.0,847.4 L1090.4,847.2 L1091.8,847.0 L1093.2,846.7 L1094.5,846.5 L1095.9,846.2 L1097.3,846.0 L1098.7,845.7 L1100.1,845.5 L1101.5,845.2 L1102.9,844.9 L1104.3,844.6 L1105.7,844.4 L1107.1,844.1 L1108.5,843.8 L1109.9,843.5 L1111.3,843.2 L1112.7,842.9 L1114.1,842.6 L1115.5,842.3 L1116.9,842.0 L1118.3,841.6 L1119.7,841.3 L1121.1,841.0 L1122.5,840.6 L1123.9,840.3 L1125.2,839.9 L1126.6,839.6 L1128.0,839.2 L1129.4,838.9 L1130.8,838.5 L1132.2,838.1 L1133.6,837.7 L1135.0,837.3 L1136.4,837.0 L1137.8,836.6 L1139.2,836.2 L1140.6,835.7 L1142.0,835.3 L1143.4,834.9 L1144.8,834.5 L1146.2,834.0 L1147.6,833.6 L1149.0,833.2 L1150.4,832.7 L1151.8,832.2 L1153.2,831.8 L1154.6,831.3 L1156.0,830.8 L1157.3,830.4 L1158.7,829.9 L1160.1,829.4 L1161.5,828.9 L1162.9,828.3 L1164.3,827.8 L1165.7,827.3 L1167.1,826.8 L1168.5,826.2 L1169.9,825.7 L1171.3,825.1 L1172.7,824.6 L1174.1,824.0 L1175.5,823.4 L1176.9,822.9 L1178.3,822.3 L1179.7,821.7 L1181.1,821.1 L1182.5,820.5 L1183.9,819.8 L1185.3,819.2 L1186.7,818.6 L1188.1,817.9 L1189.4,817.3 L1190.8,816.6 L1192.2,815.9 L1193.6,815.2 L1195.0,814.5 L1196.4,813.8 L1197.8,813.1 L1199.2,812.4 L1200.6,811.6 L1202.0,810.9 L1203.4,810.1 L1204.8,809.3 L1206.2,808.5 L1207.6,807.7 L1209.0,806.9 L1210.4,806.1 L1211.8,805.2 L1213.2,804.3 L1214.6,803.5 L1216.0,802.6 L1217.4,801.7 L1218.8,800.7 L1220.1,799.8 L1221.5,798.8 L1222.9,797.9 L1224.3,796.9 L1225.7,795.9 L1227.1,794.9 L1228.5,793.8 L1229.9,792.8 L1231.3,791.7 L1232.7,790.6 L1234.1,789.5 L1235.5,788.4 L1236.9,787.3 L1238.3,786.1 L1239.7,785.0 L1241.1,783.8 L1242.5,782.6 L1243.9,781.4 L1245.3,780.2 L1246.7,778.9 L1248.1,777.7 L1249.5,776.4 L1250.9,775.1 L1252.2,773.8 L1253.6,772.5 L1255.0,771.1 L1256.4,769.8 L1257.8,768.4 L1259.2,767.0 L1260.6,765.6 L1262.0,764.2 L1263.4,762.7 L1264.8,761.3 L1266.2,759.8 L1267.6,758.3 L1269.0,756.8 L1270.4,755.2 L1271.8,753.7 L1273.2,752.1 L1274.6,750.5 L1276.0,748.9 L1277.4,747.3 L1278.8,745.7 L1280.2,744.0 L1281.6,742.4 L1282.9,740.7 L1284.3,739.0 L1285.7,737.2 L1287.1,735.5 L1288.5,733.7 L1289.9,732.0 L1291.3,730.2 L1292.7,728.4 L1294.1,726.6 L1295.5,724.7 L1296.9,722.9 L1298.3,721.0 L1299.7,719.1 L1301.1,717.2 L1302.5,715.3 L1303.9,713.3 L1305.3,711.4 L1306.7,709.4 L1308.1,707.4 L1309.5,705.5 L1310.9,703.4 L1312.3,701.4 L1313.7,699.4 L1315.0,697.3 L1316.4,695.3 L1317.8,693.2 L1319.2,691.1 L1320.6,689.0 L1322.0,686.9 L1323.4,684.8 L1324.8,682.6 L1326.2,680.5 L1327.6,678.3 L1329.0,676.1 L1330.4,673.9 L1331.8,671.7 L1333.2,669.4 L1334.6,667.2 L1336.0,664.9 L1337.4,662.6 L1338.8,660.3 L1340.2,657.9 L1341.6,655.6 L1343.0,653.2 L1344.4,650.8 L1345.7,648.4 L1347.1,645.9 L1348.5,643.4 L1349.9,640.9 L1351.3,638.4 L1352.7,635.8 L1354.1,633.3 L1355.5,630.6 L1356.9,628.0 L1358.3,625.3 L1359.7,622.6 L1361.1,619.9 L1362.5,617.1 L1363.9,614.3 L1365.3,611.4 L1366.7,608.5 L1368.1,605.6 L1369.5,602.7 L1370.9,599.7 L1372.3,596.7 L1373.7,593.6 L1375.1,590.5 L1376.5,587.3 L1377.8,584.2 L1379.2,580.9 L1380.6,577.7 L1382.0,574.4 L1383.4,571.0 L1384.8,567.6 L1386.2,564.2 L1387.6,560.7 L1389.0,557.2 L1390.4,553.6 L1391.8,550.0 L1393.2,546.3 L1394.6,542.6 L1396.0,538.8 L1397.4,535.0 L1398.8,531.2 L1400.2,527.3 L1401.6,523.3 L1403.0,519.3 L1404.4,515.2 L1405.8,511.1 L1407.2,507.0 L1408.5,502.8 L1409.9,498.5 L1411.3,494.2 L1412.7,489.8 L1414.1,485.4 L1415.5,480.9 L1416.9,476.4 L1418.3,471.8 L1419.7,467.2 L1421.1,462.5 L1422.5,457.8 L1423.9,453.0 L1425.3,448.2 L1426.7,443.4 L1428.1,438.4 L1429.5,433.5 L1430.9,428.5 L1432.3,423.5 L1433.7,418.4 L1435.1,413.3 L1436.5,408.2 L1437.9,403.0 L1439.3,397.8 L1440.6,392.6 L1442.0,387.4 L1443.4,382.1 L1444.8,376.8 L1446.2,371.6 L1447.6,366.3 L1449.0,361.0 L1450.4,355.7 L1451.8,350.4 L1453.2,345.1 L1454.6,339.8 L1456.0,334.5 L1457.4,329.2 L1458.8,324.0 L1460.2,318.8 L1461.6,313.7 L1463.0,308.7 L1464.4,303.7 L1465.8,298.8 L1467.2,294.0 L1468.6,289.2 L1470.0,284.6 L1471.3,280.1 L1472.7,275.6 L1474.1,271.3 L1475.5,267.0 L1476.9,262.9 L1478.3,258.9 L1479.7,254.9 L1481.1,251.0 L1482.5,247.3 L1483.9,243.6 L1485.3,240.0 L1486.7,236.5 L1488.1,233.1 L1489.5,229.7 L1490.9,226.5 L1492.3,223.3 L1493.7,220.1 L1495.1,217.1 L1496.5,214.1 L1497.9,211.2 L1499.3,208.3 L1500.7,205.5 L1502.1,202.8 L1503.4,200.1 L1504.8,197.5 L1506.2,194.9 L1507.6,192.4 L1509.0,189.9 L1510.4,187.5 L1511.8,185.1 L1513.2,182.7 L1514.6,180.4 L1516.0,178.2 L1517.4,176.2 L1518.8,174.3 L1520.2,172.7 L1521.6,171.3 L1523.0,170.2 L1524.4,169.3 L1525.8,168.5 L1527.2,168.0 L1528.6,167.7 L1530.0,167.4 L1531.4,167.3 L1532.8,167.3 L1534.2,167.5 L1535.5,167.7 L1536.9,167.9 L1538.3,168.3 L1539.7,168.8 L1541.1,169.3 L1542.5,169.9 L1543.9,170.6 L1545.3,171.4 L1546.7,172.3 L1548.1,173.3 L1549.5,174.5 L1550.9,175.7 L1552.3,177.1 L1553.7,178.6 L1555.1,180.2 L1556.5,182.0 L1557.9,183.9 L1559.3,185.8 L1560.7,187.9 L1562.1,190.0 L1563.5,192.3 L1564.9,194.6 L1566.2,196.9 L1567.6,199.4 L1569.0,202.0 L1570.4,204.6 L1571.8,207.3 L1573.2,210.1 L1574.6,212.9 L1576.0,215.8 L1577.4,218.8 L1578.8,221.8 L1580.2,224.8 L1581.6,227.8 L1583.0,230.9 L1584.4,234.0 L1585.8,237.0 L1587.2,240.1 L1588.6,243.2 L1590.0,246.3 L1591.4,249.5 L1592.8,252.6 L1594.2,255.8 L1595.6,259.0 L1597.0,262.1 L1598.3,265.3 L1599.7,268.5 L1601.1,271.8 L1602.5,275.0 L1603.9,278.3 L1605.3,281.5 L1606.7,284.8 L1608.1,288.1 L1609.5,291.4 L1610.9,294.7 L1612.3,298.0 L1613.7,301.3 L1615.1,304.6 L1616.5,308.0 L1617.9,311.3 L1619.3,314.7 L1620.7,318.0 L1622.1,321.4 L1623.5,324.8 L1624.9,328.1 L1626.3,331.5 L1627.7,334.9 L1629.0,338.3 L1630.4,341.7 L1631.8,345.1 L1633.2,348.5 L1634.6,351.9 L1636.0,355.4 L1637.4,358.8 L1638.8,362.2 L1640.2,365.6 L1641.6,369.0 L1643.0,372.4 L1644.4,375.8 L1645.8,379.3 L1647.2,382.7 L1648.6,386.1 L1650.0,389.5 L1651.4,392.9 L1652.8,396.3 L1654.2,399.7 L1655.6,403.1 L1657.0,406.5 L1658.4,409.8 L1659.8,413.2 L1661.1,416.6 L1662.5,419.9 L1663.9,423.3 L1665.3,426.6 L1666.7,430.0 L1668.1,433.3 L1669.5,436.6 L1670.9,439.9 L1672.3,443.2 L1673.7,446.5 L1675.1,449.8 L1676.5,453.1 L1677.9,456.3 L1679.3,459.6 L1680.7,462.8 L1682.1,466.0 L1683.5,469.2 L1684.9,472.4 L1686.3,475.5 L1687.7,478.6 L1689.1,481.8 L1690.5,484.9 L1691.8,487.9 L1693.2,491.0 L1694.6,494.0 L1696.0,497.0 L1697.4,500.0 L1698.8,503.0 L1700.2,505.9 L1701.6,508.8 L1703.0,511.7 L1704.4,514.6 L1705.8,517.4 L1707.2,520.3 L1708.6,523.1 L1710.0,525.8 L1711.4,528.6 L1712.8,531.3 L1714.2,534.0 L1715.6,536.7 L1717.0,539.4 L1718.4,542.0 L1719.8,544.6 L1721.2,547.2 L1722.6,549.7 L1723.9,552.3 L1725.3,554.8 L1726.7,557.2 L1728.1,559.7 L1729.5,562.1 L1730.9,564.5 L1732.3,566.9 L1733.7,569.3 L1735.1,571.6 L1736.5,573.9 L1737.9,576.2 L1739.3,578.5 L1740.7,580.7 L1742.1,583.0 L1743.5,585.2 L1744.9,587.3 L1746.3,589.5 L1747.7,591.6 L1749.1,593.7 L1750.5,595.8 L1751.9,597.9 L1753.3,599.9 L1754.6,602.0 L1756.0,604.0 L1757.4,605.9 L1758.8,607.9 L1760.2,609.8 L1761.6,611.8 L1763.0,613.7 L1764.4,615.5 L1765.8,617.4 L1767.2,619.2 L1768.6,621.1 L1770.0,622.9 L1771.4,624.6 L1772.8,626.4 L1774.2,628.2 L1775.6,629.9 L1777.0,631.6 L1778.4,633.3 L1779.8,635.0 L1781.2,636.6 L1782.6,638.3 L1784.0,639.9 L1785.4,641.5 L1786.7,643.1 L1788.1,644.7 L1789.5,646.3 L1790.9,647.8 L1792.3,649.4 L1793.7,650.9 L1795.1,652.4 L1796.5,653.9 L1797.9,655.4 L1799.3,656.9 L1800.7,658.3 L1802.1,659.8 L1803.5,661.2 L1804.9,662.7 L1806.3,664.1 L1807.7,665.5 L1809.1,666.9 L1810.5,668.2 L1811.9,669.6 L1813.3,671.0 L1814.7,672.3 L1816.1,673.7 L1817.4,675.0 L1818.8,676.3 L1820.2,677.6 L1821.6,678.9 L1823.0,680.2 L1824.4,681.5 L1825.8,682.7 L1827.2,684.0 L1828.6,685.3 L1830.0,686.5 L1831.4,687.7 L1832.8,689.0 L1834.2,690.2 L1835.6,691.4 L1837.0,692.6 L1838.4,693.8 L1839.8,694.9 L1841.2,696.1 L1842.6,697.3 L1844.0,698.4 L1845.4,699.6 L1846.8,700.7 L1848.2,701.8 L1849.5,703.0 L1850.9,704.1 L1852.3,705.2 L1853.7,706.3 L1855.1,707.4 L1856.5,708.5 L1857.9,709.5 L1859.3,710.6 L1860.7,711.7 L1862.1,712.7 L1863.5,713.8 L1864.9,714.8 L1866.3,715.9 L1867.7,716.9 L1869.1,717.9 L1870.5,718.9 L1871.9,719.9 L1873.3,720.9 L1874.7,721.9 L1876.1,722.9 L1877.5,723.9 L1878.9,724.9 L1880.3,725.8 L1881.6,726.8 L1883.0,727.8 L1884.4,728.7 L1885.8,729.7 L1887.2,730.6 L1888.6,731.5 L1890.0,732.4 L1891.4,733.4 L1892.8,734.3 L1894.2,735.2 L1895.6,736.1 L1897.0,737.0 L1898.4,737.9 L1899.8,738.7 L1901.2,739.6 L1902.6,740.5 L1904.0,741.4 L1905.4,742.2 L1906.8,743.1 L1908.2,743.9 L1909.6,744.8 L1911.0,745.6 L1912.3,746.4 L1913.7,747.2 L1915.1,748.1 L1916.5,748.9 L1917.9,749.7 L1919.3,750.5 L1920.7,751.3 L1922.1,752.1 L1923.5,752.9 L1924.9,753.7 L1926.3,754.4 L1927.7,755.2 L1929.1,756.0 L1930.5,756.7 L1931.9,757.5 L1933.3,758.2 L1934.7,759.0 L1936.1,759.7 L1937.5,760.5 L1938.9,761.2 L1940.3,761.9 L1941.7,762.6 L1943.1,763.4 L1944.4,764.1 L1945.8,764.8 L1947.2,765.5 L1948.6,766.2 L1950.0,766.9 L1951.4,767.6 L1952.8,768.2 L1954.2,768.9 L1955.6,769.6 L1957.0,770.3 L1958.4,770.9 L1959.8,771.6 L1961.2,772.2 L1962.6,772.9 L1964.0,773.5 L1965.4,774.2 L1966.8,774.8 L1968.2,775.4 L1969.6,776.1 L1971.0,776.7 L1972.4,777.3 L1973.8,777.9 L1975.1,778.5 L1976.5,779.1 L1977.9,779.7 L1979.3,780.3 L1980.7,780.9 L1982.1,781.5 L1983.5,782.1 L1984.9,782.7 L1986.3,783.2 L1987.7,783.8 L1989.1,784.4 L1990.5,784.9" stroke="#f0f000" stroke-width="1.8"/>
</g>
<g clip-path="url(#ci)">
<rect x="1463.3" y="70.3" width="13.5" height="13.5" fill="#000000"/>
<rect x="1340.3" y="472.3" width="13.5" height="13.5" fill="#000000"/>
<rect x="1214.3" y="750.9" width="13.5" height="13.5" fill="#000000"/>
<rect x="1093.8" y="824.8" width="13.5" height="13.5" fill="#000000"/>
<rect x="1587.3" y="426.3" width="13.5" height="13.5" fill="#000000"/>
<rect x="1707.8" y="641.8" width="13.5" height="13.5" fill="#000000"/>
<rect x="1834.3" y="752.3" width="13.5" height="13.5" fill="#000000"/>
<rect x="1960.3" y="802.3" width="13.5" height="13.5" fill="#000000"/>
<circle cx="1479.0" cy="83.0" r="7.2" fill="#ff0000"/>
<circle cx="1354.0" cy="483.0" r="7.2" fill="#ff0000"/>
<circle cx="1230.0" cy="758.0" r="7.2" fill="#ff0000"/>
<circle cx="1113.0" cy="830.0" r="7.2" fill="#ff0000"/>
<circle cx="1605.0" cy="436.0" r="7.2" fill="#ff0000"/>
<circle cx="1728.5" cy="651.0" r="7.2" fill="#ff0000"/>
<circle cx="1855.0" cy="760.0" r="7.2" fill="#ff0000"/>
<circle cx="1981.0" cy="811.0" r="7.2" fill="#ff0000"/>
<path d="M1488.0,84.4 L1497.3,101.0 L1478.7,101.0 Z" fill="#00ff00"/>
<path d="M1367.0,478.4 L1376.3,495.0 L1357.7,495.0 Z" fill="#00ff00"/>
<path d="M1242.0,754.4 L1251.3,771.0 L1232.7,771.0 Z" fill="#00ff00"/>
<path d="M1127.0,821.4 L1136.3,838.0 L1117.7,838.0 Z" fill="#00ff00"/>
<path d="M1618.0,432.4 L1627.3,449.0 L1608.7,449.0 Z" fill="#00ff00"/>
<path d="M1743.0,645.4 L1752.3,662.0 L1733.7,662.0 Z" fill="#00ff00"/>
<path d="M1871.5,750.4 L1880.8,767.0 L1862.2,767.0 Z" fill="#00ff00"/>
<path d="M1986.0,802.4 L1995.3,819.0 L1976.7,819.0 Z" fill="#00ff00"/>
<path d="M1507.0,139.6 L1516.3,123.0 L1497.7,123.0 Z" fill="#0000ff"/>
<path d="M1371.0,457.6 L1380.3,441.0 L1361.7,441.0 Z" fill="#0000ff"/>
<path d="M1247.0,768.6 L1256.3,752.0 L1237.7,752.0 Z" fill="#0000ff"/>
<path d="M1123.0,856.6 L1132.3,840.0 L1113.7,840.0 Z" fill="#0000ff"/>
<path d="M1628.0,398.6 L1637.3,382.0 L1618.7,382.0 Z" fill="#0000ff"/>
<path d="M1749.0,600.6 L1758.3,584.0 L1739.7,584.0 Z" fill="#0000ff"/>
<path d="M1876.5,722.6 L1885.8,706.0 L1867.2,706.0 Z" fill="#0000ff"/>
<path d="M1471.0,164.2 L1481.8,175.0 L1471.0,185.8 L1460.2,175.0 Z" fill="#00ffff"/>
<path d="M1343.0,567.2 L1353.8,578.0 L1343.0,588.8 L1332.2,578.0 Z" fill="#00ffff"/>
<path d="M1217.0,772.8 L1227.8,783.6 L1217.0,794.4 L1206.2,783.6 Z" fill="#00ffff"/>
<path d="M1100.0,825.2 L1110.8,836.0 L1100.0,846.8 L1089.2,836.0 Z" fill="#00ffff"/>
<path d="M1594.0,290.2 L1604.8,301.0 L1594.0,311.8 L1583.2,301.0 Z" fill="#00ffff"/>
<path d="M1720.0,556.7 L1730.8,567.5 L1720.0,578.3 L1709.2,567.5 Z" fill="#00ffff"/>
<path d="M1847.0,706.8 L1857.8,717.6 L1847.0,728.4 L1836.2,717.6 Z" fill="#00ffff"/>
<path d="M1978.0,779.2 L1988.8,790.0 L1978.0,800.8 L1967.2,790.0 Z" fill="#00ffff"/>
<path d="M1458.2,255.0 L1472.1,245.4 L1472.1,264.6 Z" fill="#ff00ff"/>
<path d="M1329.2,634.0 L1343.1,624.4 L1343.1,643.6 Z" fill="#ff00ff"/>
<path d="M1206.2,806.0 L1220.1,796.4 L1220.1,815.6 Z" fill="#ff00ff"/>
<path d="M1089.2,849.0 L1103.1,839.4 L1103.1,858.6 Z" fill="#ff00ff"/>
<path d="M1586.2,283.0 L1600.1,273.4 L1600.1,292.6 Z" fill="#ff00ff"/>
<path d="M1709.2,586.0 L1723.1,576.4 L1723.1,595.6 Z" fill="#ff00ff"/>
<path d="M1840.2,736.0 L1854.1,726.4 L1854.1,745.6 Z" fill="#ff00ff"/>
<path d="M1962.2,803.0 L1976.1,793.4 L1976.1,812.6 Z" fill="#ff00ff"/>
<path d="M1488.9,255.0 L1475.0,245.4 L1475.0,264.6 Z" fill="#ffff00"/>
<path d="M1363.9,640.0 L1350.0,630.4 L1350.0,649.6 Z" fill="#ffff00"/>
<path d="M1238.9,795.0 L1225.0,785.4 L1225.0,804.6 Z" fill="#ffff00"/>
<path d="M1120.9,842.0 L1107.0,832.4 L1107.0,851.6 Z" fill="#ffff00"/>
<path d="M1616.9,290.0 L1603.0,280.4 L1603.0,299.6 Z" fill="#ffff00"/>
<path d="M1746.9,572.0 L1733.0,562.4 L1733.0,581.6 Z" fill="#ffff00"/>
<path d="M1868.9,712.6 L1855.0,703.0 L1855.0,722.2 Z" fill="#ffff00"/>
<path d="M1990.9,782.0 L1977.0,772.4 L1977.0,791.6 Z" fill="#ffff00"/>
</g>
<rect x="345.7" y="57.0" width="1664.6" height="1270.0" fill="none" stroke="#000" stroke-width="3.5"/>
<path d="M320.7,1327.0 H345.7 M320.7,1009.5 H345.7 M320.7,692.0 H345.7 M320.7,374.5 H345.7 M320.7,57.0 H345.7 M333.7,1168.2 H345.7 M333.7,850.8 H345.7 M333.7,533.2 H345.7 M333.7,215.8 H345.7 M345.7,1327.0 V1351.0 M512.2,1327.0 V1351.0 M678.6,1327.0 V1351.0 M845.1,1327.0 V1351.0 M1011.5,1327.0 V1351.0 M1178.0,1327.0 V1351.0 M1344.5,1327.0 V1351.0 M1510.9,1327.0 V1351.0 M1677.4,1327.0 V1351.0 M1843.8,1327.0 V1351.0 M2010.3,1327.0 V1351.0" stroke="#000" stroke-width="3.5" fill="none"/>
<text x="305" y="1341.0" font-size="56" text-anchor="end" font-family="'Liberation Sans', Arial, sans-serif">0.0</text>
<text x="305" y="1023.5" font-size="56" text-anchor="end" font-family="'Liberation Sans', Arial, sans-serif">0.5</text>
<text x="305" y="706.0" font-size="56" text-anchor="end" font-family="'Liberation Sans', Arial, sans-serif">1.0</text>
<text x="305" y="388.5" font-size="56" text-anchor="end" font-family="'Liberation Sans', Arial, sans-serif">1.5</text>
<text x="305" y="71.0" font-size="56" text-anchor="end" font-family="'Liberation Sans', Arial, sans-serif">2.0</text>
<text x="345.7" y="1410.3" font-size="56" text-anchor="middle" font-family="'Liberation Sans', Arial, sans-serif">-100</text>
<text x="512.2" y="1410.3" font-size="56" text-anchor="middle" font-family="'Liberation Sans', Arial, sans-serif">-80</text>
<text x="678.6" y="1410.3" font-size="56" text-anchor="middle" font-family="'Liberation Sans', Arial, sans-serif">-60</text>
<text x="845.1" y="1410.3" font-size="56" text-anchor="middle" font-family="'Liberation Sans', Arial, sans-serif">-40</text>
<text x="1011.5" y="1410.3" font-size="56" text-anchor="middle" font-family="'Liberation Sans', Arial, sans-serif">-20</text>
<text x="1178.0" y="1410.3" font-size="56" text-anchor="middle" font-family="'Liberation Sans', Arial, sans-serif">0</text>
<text x="1344.5" y="1410.3" font-size="56" text-anchor="middle" font-family="'Liberation Sans', Arial, sans-serif">20</text>
<text x="1510.9" y="1410.3" font-size="56" text-anchor="middle" font-family="'Liberation Sans', Arial, sans-serif">40</text>
<text x="1677.4" y="1410.3" font-size="56" text-anchor="middle" font-family="'Liberation Sans', Arial, sans-serif">60</text>
<text x="1843.8" y="1410.3" font-size="56" text-anchor="middle" font-family="'Liberation Sans', Arial, sans-serif">80</text>
<text x="2010.3" y="1410.3" font-size="56" text-anchor="middle" font-family="'Liberation Sans', Arial, sans-serif">100</text>
<text x="972" y="1511.6" font-size="55" font-weight="bold" font-family="'Liberation Sans', Arial, sans-serif">Temperature <tspan font-weight="normal">(</tspan><tspan font-weight="normal" font-size="58" dy="5">°</tspan><tspan dy="-5">C</tspan><tspan font-weight="normal">)</tspan></text>
<text transform="translate(145,793.5) rotate(-90)" font-size="56" font-weight="bold" font-family="'Liberation Sans', Arial, sans-serif">tan</text>
<text transform="translate(145,693.5) rotate(-90)" font-size="47" font-weight="200" font-family="'DejaVu Sans', sans-serif">δ</text>
<path d="M1015.0,68.0 V870.8 H1990.5" stroke="#000" stroke-width="2.2" fill="none"/>
<path d="M1112.2,870.8 V885.8 M1501.2,870.8 V885.8 M1890.2,870.8 V885.8 M1002.0,870.8 H1015.0 M1002.0,426.5 H1015.0 M1008.0,648.6 H1015.0 M1008.0,204.3 H1015.0" stroke="#000" stroke-width="2.2" fill="none"/>
<text x="1110.8" y="921" font-size="33" text-anchor="middle" fill="#222" font-family="'Liberation Sans', Arial, sans-serif">-60</text>
<text x="1499.8" y="921" font-size="33" text-anchor="middle" fill="#222" font-family="'Liberation Sans', Arial, sans-serif">-40</text>
<text x="1888.8" y="921" font-size="33" text-anchor="middle" fill="#222" font-family="'Liberation Sans', Arial, sans-serif">-20</text>
<text x="989" y="881.8" font-size="31" text-anchor="end" fill="#222" font-family="'Liberation Sans', Arial, sans-serif">0</text>
<text x="989" y="433.5" font-size="31" text-anchor="end" fill="#222" font-family="'Liberation Sans', Arial, sans-serif">1</text>
<path d="M357.5,96.5 H487.5" stroke="#000000" stroke-width="3"/>
<rect x="409.6" y="84.6" width="23.9" height="23.9" fill="#000000"/>
<text x="500" y="114.5" font-size="55.5" font-family="'Liberation Sans', Arial, sans-serif">S0</text>
<path d="M357.5,166.0 H487.5" stroke="#ff0000" stroke-width="5"/>
<circle cx="421.5" cy="166.0" r="12.4" fill="#ff0000"/>
<text x="500" y="184.0" font-size="55.5" font-family="'Liberation Sans', Arial, sans-serif">S0.1</text>
<path d="M357.5,235.5 H487.5" stroke="#00c040" stroke-width="3.5"/>
<path d="M421.5,218.2 L436.7,245.2 L406.3,245.2 Z" fill="#00ff00"/>
<text x="500" y="253.5" font-size="55.5" font-family="'Liberation Sans', Arial, sans-serif">S0.25</text>
<path d="M357.5,305.0 H487.5" stroke="#0000a0" stroke-width="4"/>
<path d="M421.5,322.3 L436.7,295.3 L406.3,295.3 Z" fill="#0000ff"/>
<text x="500" y="323.0" font-size="55.5" font-family="'Liberation Sans', Arial, sans-serif">S0.5</text>
<path d="M357.5,374.5 H487.5" stroke="#00e0f0" stroke-width="4"/>
<path d="M421.5,358.5 L437.5,374.5 L421.5,390.5 L405.5,374.5 Z" fill="#00ffff"/>
<text x="500" y="392.5" font-size="55.5" font-family="'Liberation Sans', Arial, sans-serif">S1</text>
<path d="M357.5,444.0 H487.5" stroke="#ff00ff" stroke-width="5"/>
<path d="M408.5,444.0 L431.7,427.9 L431.7,460.1 Z" fill="#ff00ff"/>
<text x="500" y="462.0" font-size="55.5" font-family="'Liberation Sans', Arial, sans-serif">S1.5</text>
<path d="M357.5,513.5 H487.5" stroke="#f0f000" stroke-width="3.5"/>
<path d="M436.4,513.5 L413.1,497.4 L413.1,529.6 Z" fill="#ffff00"/>
<text x="500" y="531.5" font-size="55.5" font-family="'Liberation Sans', Arial, sans-serif">S2</text>
</svg>
</body></html>
